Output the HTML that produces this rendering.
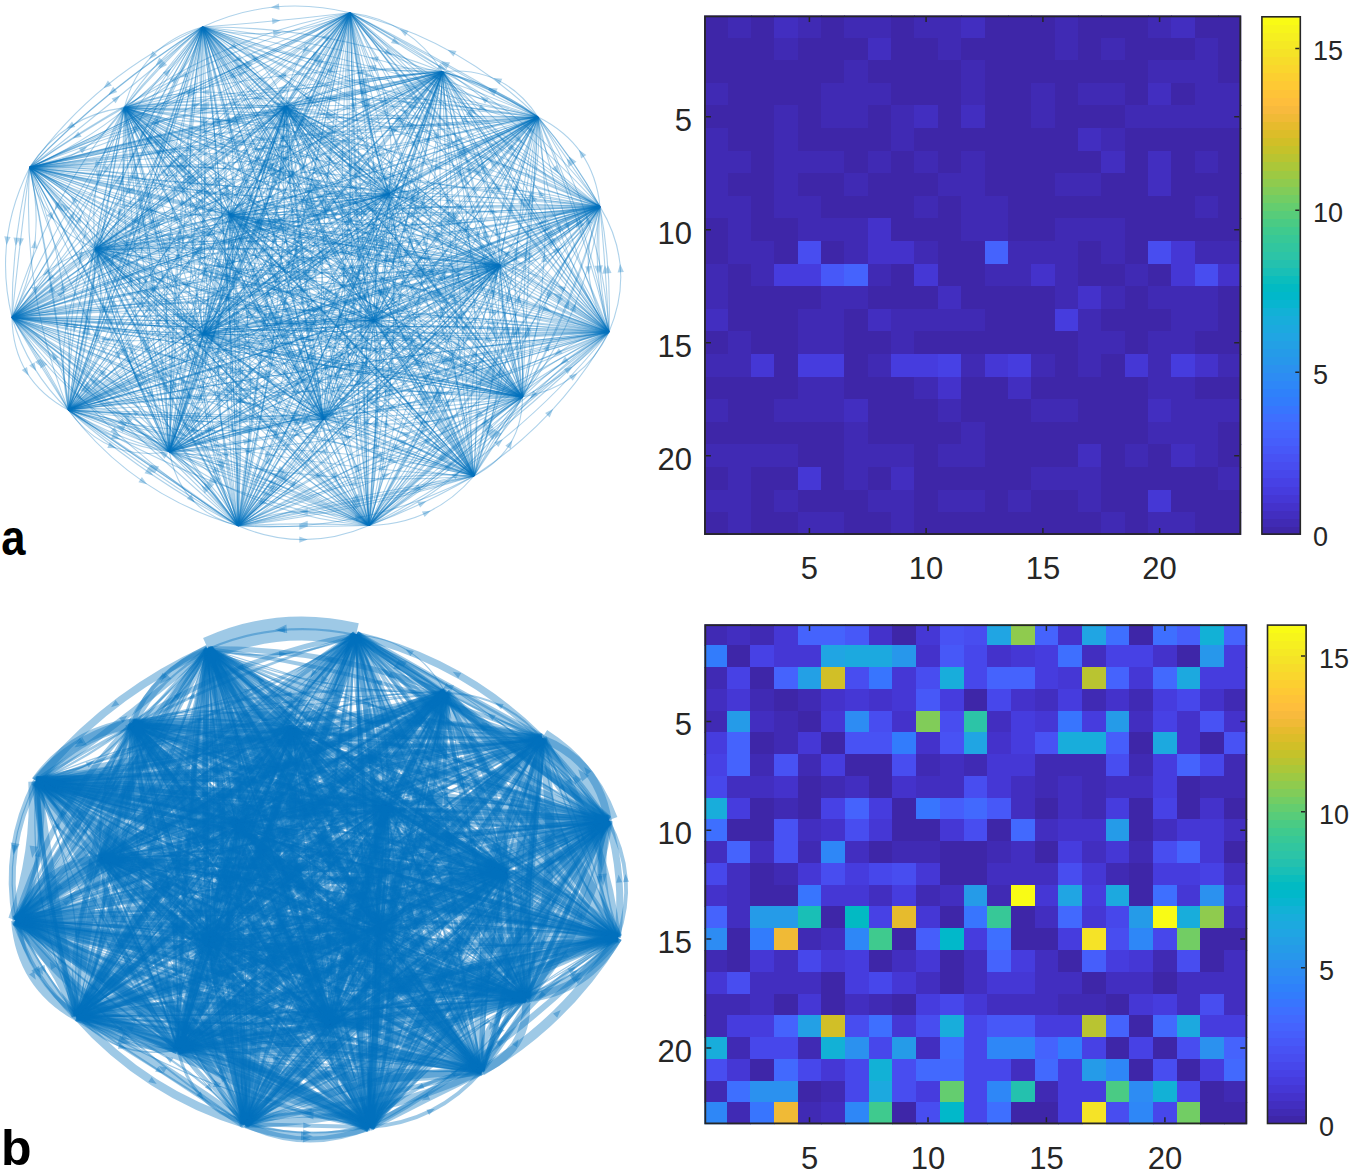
<!DOCTYPE html><html><head><meta charset="utf-8"><style>html,body{margin:0;padding:0;background:#fff;width:1350px;height:1171px;overflow:hidden}svg{display:block}text{font-family:"Liberation Sans",sans-serif}</style></head><body><svg width="1350" height="1171" viewBox="0 0 1350 1171"><defs><filter id="bl" x="-5%" y="-5%" width="110%" height="110%"><feGaussianBlur stdDeviation="0.5"/></filter></defs><g filter="url(#bl)"><g fill="none" stroke="#0072BD" stroke-width="1.1" stroke-opacity="0.32"><path d="M350 12.8Q273.8 -6 202.5 27"/><path d="M202.5 27Q278.7 45.8 350 12.8"/><path d="M202.5 27Q276.4 21.7 350 12.8"/><path d="M442.5 71.7Q326.9 25.8 202.5 27"/><path d="M202.5 27Q318.1 72.9 442.5 71.7"/><path d="M538 117Q377.5 45 202.5 27"/><path d="M202.5 27Q363 99 538 117"/><path d="M538 117Q373 61.7 202.5 27"/><path d="M202.5 27Q368.4 79.1 538 117"/><path d="M600 206.6Q413.6 89.5 202.5 27"/><path d="M202.5 27Q388.9 144.1 600 206.6"/><path d="M202.5 27Q399.4 120.9 600 206.6"/><path d="M202.5 27Q397.7 124.7 600 206.6"/><path d="M600 206.6Q406.3 105.7 202.5 27"/><path d="M609 332Q420.2 160.3 202.5 27"/><path d="M202.5 27Q391.3 198.7 609 332"/><path d="M522.5 397Q385.2 192.4 202.5 27"/><path d="M202.5 27Q339.8 231.6 522.5 397"/><path d="M522.5 397Q364 210.7 202.5 27"/><path d="M202.5 27Q356.5 217.1 522.5 397"/><path d="M522.5 397Q373.8 202.2 202.5 27"/><path d="M474 476Q363.9 236 202.5 27"/><path d="M202.5 27Q312.6 267 474 476"/><path d="M474 476Q344.2 247.9 202.5 27"/><path d="M202.5 27Q330.5 256.2 474 476"/><path d="M202.5 27Q335.9 252.9 474 476"/><path d="M369 525.5Q308.5 268.6 202.5 27"/><path d="M202.5 27Q263 283.9 369 525.5"/><path d="M238 525.8Q248.2 274.4 202.5 27"/><path d="M202.5 27Q192.3 278.4 238 525.8"/><path d="M238 525.8Q233.4 275.5 202.5 27"/><path d="M238 525.8Q233.5 275.5 202.5 27"/><path d="M169.3 451.7Q217.8 241.8 202.5 27"/><path d="M202.5 27Q154 236.9 169.3 451.7"/><path d="M169.3 451.7Q201.6 240.6 202.5 27"/><path d="M202.5 27Q173.7 238.4 169.3 451.7"/><path d="M202.5 27Q180 238.9 169.3 451.7"/><path d="M202.5 27Q170.9 238.2 169.3 451.7"/><path d="M68.4 410Q167.5 229.7 202.5 27"/><path d="M202.5 27Q103.4 207.3 68.4 410"/><path d="M68.4 410Q150.6 223.8 202.5 27"/><path d="M68.4 410Q144.4 221.6 202.5 27"/><path d="M68.4 410Q137.4 219.2 202.5 27"/><path d="M68.4 410Q135.6 218.5 202.5 27"/><path d="M68.4 410Q144 221.5 202.5 27"/><path d="M12 317.5Q129 186.5 202.5 27"/><path d="M202.5 27Q85.5 158 12 317.5"/><path d="M202.5 27Q103.4 169.7 12 317.5"/><path d="M29.7 167.4Q135 120.5 202.5 27"/><path d="M202.5 27Q97.2 73.9 29.7 167.4"/><path d="M202.5 27Q107.5 86.7 29.7 167.4"/><path d="M202.5 27Q108 87.3 29.7 167.4"/><path d="M29.7 167.4Q117.7 99.2 202.5 27"/><path d="M124.4 107.6Q186.4 89.6 202.5 27"/><path d="M202.5 27Q140.5 45 124.4 107.6"/><path d="M202.5 27Q153.7 57.9 124.4 107.6"/><path d="M124.4 107.6Q172.6 76.2 202.5 27"/><path d="M202.5 27Q160.5 64.4 124.4 107.6"/><path d="M202.5 27Q158.3 62.3 124.4 107.6"/><path d="M285.8 106.5Q263.5 46.5 202.5 27"/><path d="M202.5 27Q224.8 87 285.8 106.5"/><path d="M285.8 106.5Q251.5 59.1 202.5 27"/><path d="M285.8 106.5Q247.4 63.4 202.5 27"/><path d="M389 193.8Q318.4 85.1 202.5 27"/><path d="M202.5 27Q273.1 135.7 389 193.8"/><path d="M202.5 27Q285 122.4 389 193.8"/><path d="M202.5 27Q295.7 110.4 389 193.8"/><path d="M202.5 27Q285.2 122.2 389 193.8"/><path d="M202.5 27Q295.6 110.6 389 193.8"/><path d="M202.5 27Q286.5 120.8 389 193.8"/><path d="M230.5 215Q242.2 117.2 202.5 27"/><path d="M202.5 27Q190.8 124.8 230.5 215"/><path d="M230.5 215Q221.6 120.2 202.5 27"/><path d="M95.5 248.8Q177.8 151.8 202.5 27"/><path d="M202.5 27Q120.2 124 95.5 248.8"/><path d="M202.5 27Q135.4 131.3 95.5 248.8"/><path d="M95.5 248.8Q149 137.9 202.5 27"/><path d="M202.5 27Q136.3 131.8 95.5 248.8"/><path d="M95.5 248.8Q152.1 139.4 202.5 27"/><path d="M499.8 265.6Q366.2 127.6 202.5 27"/><path d="M202.5 27Q336.1 165 499.8 265.6"/><path d="M373.5 320.5Q313.9 158.6 202.5 27"/><path d="M202.5 27Q262.1 188.9 373.5 320.5"/><path d="M373.5 320.5Q294.7 169.9 202.5 27"/><path d="M202.5 27Q280.3 178.2 373.5 320.5"/><path d="M373.5 320.5Q290.2 172.5 202.5 27"/><path d="M203.3 333.8Q228.9 180.3 202.5 27"/><path d="M202.5 27Q176.9 180.5 203.3 333.8"/><path d="M203.3 333.8Q206.4 180.4 202.5 27"/><path d="M323.5 419Q295.5 213 202.5 27"/><path d="M202.5 27Q230.5 233 323.5 419"/><path d="M202.5 27Q254 225.8 323.5 419"/><path d="M202.5 27Q255.3 225.4 323.5 419"/><path d="M323.5 419Q276.4 218.9 202.5 27"/><path d="M202.5 27Q257.7 224.6 323.5 419"/><path d="M323.5 419Q275.7 219.1 202.5 27"/><path d="M442.5 71.7Q410.2 20.3 350 12.8"/><path d="M350 12.8Q382.3 64.2 442.5 71.7"/><path d="M350 12.8Q396 42.7 442.5 71.7"/><path d="M538 117Q458.5 38.7 350 12.8"/><path d="M350 12.8Q429.5 91.1 538 117"/><path d="M538 117Q445.9 61.5 350 12.8"/><path d="M350 12.8Q440.6 71 538 117"/><path d="M538 117Q444.4 64.1 350 12.8"/><path d="M600 206.6Q492.2 87.6 350 12.8"/><path d="M350 12.8Q457.8 131.8 600 206.6"/><path d="M350 12.8Q471.5 114.2 600 206.6"/><path d="M350 12.8Q466.7 120.4 600 206.6"/><path d="M609 332Q504.3 152.2 350 12.8"/><path d="M350 12.8Q454.7 192.6 609 332"/><path d="M350 12.8Q477.6 174 609 332"/><path d="M350 12.8Q475.8 175.4 609 332"/><path d="M609 332Q487.7 165.7 350 12.8"/><path d="M609 332Q486.3 166.9 350 12.8"/><path d="M522.5 397Q458.1 195.1 350 12.8"/><path d="M350 12.8Q414.4 214.7 522.5 397"/><path d="M474 476Q437.1 237.7 350 12.8"/><path d="M350 12.8Q386.9 251.1 474 476"/><path d="M350 12.8Q411 244.7 474 476"/><path d="M369 525.5Q391.5 268 350 12.8"/><path d="M350 12.8Q327.5 270.3 369 525.5"/><path d="M369 525.5Q368.1 268.8 350 12.8"/><path d="M350 12.8Q359.1 269.2 369 525.5"/><path d="M350 12.8Q345 269.7 369 525.5"/><path d="M350 12.8Q357 269.2 369 525.5"/><path d="M238 525.8Q323.3 275.7 350 12.8"/><path d="M350 12.8Q264.7 262.9 238 525.8"/><path d="M350 12.8Q282 266.7 238 525.8"/><path d="M350 12.8Q289.3 268.3 238 525.8"/><path d="M350 12.8Q290.8 268.6 238 525.8"/><path d="M169.3 451.7Q291.1 245.2 350 12.8"/><path d="M350 12.8Q228.2 219.3 169.3 451.7"/><path d="M169.3 451.7Q275.2 238.6 350 12.8"/><path d="M350 12.8Q250.7 228.6 169.3 451.7"/><path d="M350 12.8Q249.6 228.1 169.3 451.7"/><path d="M350 12.8Q247.5 227.3 169.3 451.7"/><path d="M350 12.8Q252.1 229.1 169.3 451.7"/><path d="M68.4 410Q230.4 226.4 350 12.8"/><path d="M350 12.8Q188 196.4 68.4 410"/><path d="M350 12.8Q208.8 211.1 68.4 410"/><path d="M12 317.5Q202.4 188.9 350 12.8"/><path d="M350 12.8Q159.6 141.4 12 317.5"/><path d="M12 317.5Q187.3 172.2 350 12.8"/><path d="M350 12.8Q171.4 154.5 12 317.5"/><path d="M12 317.5Q181.4 165.6 350 12.8"/><path d="M12 317.5Q183.9 168.4 350 12.8"/><path d="M29.7 167.4Q203.8 118.9 350 12.8"/><path d="M350 12.8Q175.9 61.3 29.7 167.4"/><path d="M29.7 167.4Q194 98.8 350 12.8"/><path d="M350 12.8Q189.8 90 29.7 167.4"/><path d="M29.7 167.4Q190.1 90.5 350 12.8"/><path d="M29.7 167.4Q191.8 94.2 350 12.8"/><path d="M124.4 107.6Q248 86 350 12.8"/><path d="M350 12.8Q226.4 34.4 124.4 107.6"/><path d="M124.4 107.6Q242.6 73.1 350 12.8"/><path d="M350 12.8Q236.8 59.2 124.4 107.6"/><path d="M285.8 106.5Q344.3 77.7 350 12.8"/><path d="M350 12.8Q291.5 41.6 285.8 106.5"/><path d="M285.8 106.5Q322.4 62.7 350 12.8"/><path d="M350 12.8Q315.3 57.8 285.8 106.5"/><path d="M350 12.8Q309.9 54.1 285.8 106.5"/><path d="M350 12.8Q314.3 57.2 285.8 106.5"/><path d="M389 193.8Q400.8 96.6 350 12.8"/><path d="M350 12.8Q338.2 110 389 193.8"/><path d="M350 12.8Q366.9 103.9 389 193.8"/><path d="M350 12.8Q358.2 105.7 389 193.8"/><path d="M350 12.8Q360.2 105.3 389 193.8"/><path d="M350 12.8Q360.2 105.3 389 193.8"/><path d="M230.5 215Q314.4 128.1 350 12.8"/><path d="M350 12.8Q266.1 99.7 230.5 215"/><path d="M230.5 215Q301.5 120.6 350 12.8"/><path d="M350 12.8Q279.6 107.6 230.5 215"/><path d="M95.5 248.8Q239.1 148.4 350 12.8"/><path d="M350 12.8Q206.4 113.2 95.5 248.8"/><path d="M499.8 265.6Q445.5 127 350 12.8"/><path d="M350 12.8Q404.3 151.4 499.8 265.6"/><path d="M373.5 320.5Q385.7 164.8 350 12.8"/><path d="M350 12.8Q337.8 168.5 373.5 320.5"/><path d="M203.3 333.8Q303.9 185.8 350 12.8"/><path d="M350 12.8Q249.4 160.8 203.3 333.8"/><path d="M203.3 333.8Q289.9 179.4 350 12.8"/><path d="M350 12.8Q269.7 170.1 203.3 333.8"/><path d="M203.3 333.8Q283.5 176.4 350 12.8"/><path d="M323.5 419Q360.7 217.5 350 12.8"/><path d="M350 12.8Q312.8 214.3 323.5 419"/><path d="M538 117Q504 65.4 442.5 71.7"/><path d="M442.5 71.7Q476.5 123.3 538 117"/><path d="M538 117Q494.6 85.2 442.5 71.7"/><path d="M538 117Q493.1 88.3 442.5 71.7"/><path d="M538 117Q494.8 84.7 442.5 71.7"/><path d="M538 117Q493.6 87.3 442.5 71.7"/><path d="M600 206.6Q538.2 119.4 442.5 71.7"/><path d="M442.5 71.7Q504.3 158.9 600 206.6"/><path d="M442.5 71.7Q518.6 142.2 600 206.6"/><path d="M609 332Q554.4 183.5 442.5 71.7"/><path d="M442.5 71.7Q497.1 220.2 609 332"/><path d="M442.5 71.7Q519.7 205.7 609 332"/><path d="M609 332Q527 201 442.5 71.7"/><path d="M609 332Q530.8 198.6 442.5 71.7"/><path d="M609 332Q526.5 201.4 442.5 71.7"/><path d="M609 332Q539.4 193.1 442.5 71.7"/><path d="M522.5 397Q511.6 227.2 442.5 71.7"/><path d="M442.5 71.7Q453.4 241.5 522.5 397"/><path d="M522.5 397Q487.1 233.2 442.5 71.7"/><path d="M442.5 71.7Q473.9 236.5 522.5 397"/><path d="M522.5 397Q489.5 232.6 442.5 71.7"/><path d="M474 476Q486.2 271.7 442.5 71.7"/><path d="M442.5 71.7Q430.3 276 474 476"/><path d="M442.5 71.7Q447.1 274.7 474 476"/><path d="M442.5 71.7Q458 273.9 474 476"/><path d="M369 525.5Q431.4 302.8 442.5 71.7"/><path d="M442.5 71.7Q380.1 294.4 369 525.5"/><path d="M442.5 71.7Q393.8 296.7 369 525.5"/><path d="M238 525.8Q367.6 311.1 442.5 71.7"/><path d="M442.5 71.7Q312.9 286.4 238 525.8"/><path d="M442.5 71.7Q331.6 294.8 238 525.8"/><path d="M238 525.8Q353.4 304.7 442.5 71.7"/><path d="M238 525.8Q353.4 304.7 442.5 71.7"/><path d="M169.3 451.7Q327 276.9 442.5 71.7"/><path d="M442.5 71.7Q284.8 246.5 169.3 451.7"/><path d="M169.3 451.7Q315.7 268.8 442.5 71.7"/><path d="M68.4 410Q272.9 260.1 442.5 71.7"/><path d="M442.5 71.7Q238 221.6 68.4 410"/><path d="M68.4 410Q256.4 241.9 442.5 71.7"/><path d="M12 317.5Q243.1 222.4 442.5 71.7"/><path d="M442.5 71.7Q211.4 166.8 12 317.5"/><path d="M442.5 71.7Q224.4 189.6 12 317.5"/><path d="M442.5 71.7Q226.5 193.4 12 317.5"/><path d="M12 317.5Q231.7 202.4 442.5 71.7"/><path d="M442.5 71.7Q219.7 181.4 12 317.5"/><path d="M29.7 167.4Q243.8 152.7 442.5 71.7"/><path d="M442.5 71.7Q228.4 86.4 29.7 167.4"/><path d="M442.5 71.7Q236 119 29.7 167.4"/><path d="M29.7 167.4Q238.2 128.7 442.5 71.7"/><path d="M442.5 71.7Q235 114.6 29.7 167.4"/><path d="M29.7 167.4Q236.9 123 442.5 71.7"/><path d="M442.5 71.7Q235.5 117 29.7 167.4"/><path d="M124.4 107.6Q286.6 117.5 442.5 71.7"/><path d="M442.5 71.7Q280.3 61.8 124.4 107.6"/><path d="M442.5 71.7Q282.9 85.2 124.4 107.6"/><path d="M124.4 107.6Q283.7 91.7 442.5 71.7"/><path d="M285.8 106.5Q371.5 122.3 442.5 71.7"/><path d="M442.5 71.7Q356.8 55.9 285.8 106.5"/><path d="M285.8 106.5Q365.6 95.8 442.5 71.7"/><path d="M442.5 71.7Q360.7 73.6 285.8 106.5"/><path d="M442.5 71.7Q361.4 76.6 285.8 106.5"/><path d="M285.8 106.5Q365.6 95.5 442.5 71.7"/><path d="M442.5 71.7Q361.5 77.2 285.8 106.5"/><path d="M389 193.8Q441.4 144 442.5 71.7"/><path d="M442.5 71.7Q390.1 121.5 389 193.8"/><path d="M442.5 71.7Q405.1 128.1 389 193.8"/><path d="M389 193.8Q420.9 135 442.5 71.7"/><path d="M230.5 215Q351.1 164.9 442.5 71.7"/><path d="M442.5 71.7Q321.9 121.8 230.5 215"/><path d="M230.5 215Q337.7 145.2 442.5 71.7"/><path d="M95.5 248.8Q281.7 185.2 442.5 71.7"/><path d="M442.5 71.7Q256.3 135.3 95.5 248.8"/><path d="M95.5 248.8Q273.7 169.5 442.5 71.7"/><path d="M442.5 71.7Q268.2 158.7 95.5 248.8"/><path d="M499.8 265.6Q494.2 161.8 442.5 71.7"/><path d="M442.5 71.7Q448.1 175.5 499.8 265.6"/><path d="M373.5 320.5Q438.8 204.7 442.5 71.7"/><path d="M442.5 71.7Q377.2 187.5 373.5 320.5"/><path d="M442.5 71.7Q398.2 193.4 373.5 320.5"/><path d="M442.5 71.7Q393.7 192.1 373.5 320.5"/><path d="M442.5 71.7Q405.8 195.5 373.5 320.5"/><path d="M373.5 320.5Q418.1 198.9 442.5 71.7"/><path d="M203.3 333.8Q348 225.7 442.5 71.7"/><path d="M442.5 71.7Q297.8 179.8 203.3 333.8"/><path d="M442.5 71.7Q319.8 199.9 203.3 333.8"/><path d="M203.3 333.8Q334.5 213.4 442.5 71.7"/><path d="M203.3 333.8Q330.4 209.6 442.5 71.7"/><path d="M203.3 333.8Q333 211.9 442.5 71.7"/><path d="M442.5 71.7Q321.1 201.1 203.3 333.8"/><path d="M323.5 419Q411.4 255.1 442.5 71.7"/><path d="M442.5 71.7Q354.6 235.6 323.5 419"/><path d="M442.5 71.7Q380.4 244.5 323.5 419"/><path d="M323.5 419Q383.2 245.4 442.5 71.7"/><path d="M442.5 71.7Q370.6 241.1 323.5 419"/><path d="M600 206.6Q593.7 144.7 538 117"/><path d="M538 117Q544.3 178.9 600 206.6"/><path d="M600 206.6Q574 158.3 538 117"/><path d="M600 206.6Q569 161.8 538 117"/><path d="M600 206.6Q573.3 158.8 538 117"/><path d="M609 332Q602 215.1 538 117"/><path d="M538 117Q545 233.9 609 332"/><path d="M538 117Q562.1 228.3 609 332"/><path d="M609 332Q587.2 220 538 117"/><path d="M609 332Q582 221.7 538 117"/><path d="M522.5 397Q558.2 258.5 538 117"/><path d="M538 117Q502.3 255.5 522.5 397"/><path d="M538 117Q521.6 256.5 522.5 397"/><path d="M538 117Q528.5 256.9 522.5 397"/><path d="M474 476Q531.6 301.1 538 117"/><path d="M538 117Q480.4 291.9 474 476"/><path d="M474 476Q510.1 297.2 538 117"/><path d="M369 525.5Q477.5 331.2 538 117"/><path d="M538 117Q429.5 311.3 369 525.5"/><path d="M369 525.5Q459.1 323.6 538 117"/><path d="M238 525.8Q407.3 335.6 538 117"/><path d="M538 117Q368.7 307.2 238 525.8"/><path d="M169.3 451.7Q373.8 306.6 538 117"/><path d="M538 117Q333.5 262.1 169.3 451.7"/><path d="M538 117Q344.9 274.7 169.3 451.7"/><path d="M169.3 451.7Q356.8 287.8 538 117"/><path d="M538 117Q345.9 275.9 169.3 451.7"/><path d="M68.4 410Q321.2 292.3 538 117"/><path d="M538 117Q285.2 234.7 68.4 410"/><path d="M538 117Q302.6 262.5 68.4 410"/><path d="M538 117Q298.4 255.8 68.4 410"/><path d="M538 117Q302.6 262.6 68.4 410"/><path d="M68.4 410Q311 276 538 117"/><path d="M68.4 410Q311.5 276.8 538 117"/><path d="M12 317.5Q284.3 241.5 538 117"/><path d="M538 117Q265.7 193 12 317.5"/><path d="M12 317.5Q278.1 225.3 538 117"/><path d="M29.7 167.4Q287 174 538 117"/><path d="M538 117Q280.7 110.4 29.7 167.4"/><path d="M29.7 167.4Q284.8 151.3 538 117"/><path d="M538 117Q283 133.9 29.7 167.4"/><path d="M538 117Q283.5 139 29.7 167.4"/><path d="M538 117Q282.8 131.3 29.7 167.4"/><path d="M124.4 107.6Q330.6 140.3 538 117"/><path d="M538 117Q331.8 84.3 124.4 107.6"/><path d="M124.4 107.6Q331.1 116.8 538 117"/><path d="M124.4 107.6Q331 123.1 538 117"/><path d="M285.8 106.5Q410.8 137.7 538 117"/><path d="M538 117Q413 85.8 285.8 106.5"/><path d="M538 117Q412.3 102.2 285.8 106.5"/><path d="M389 193.8Q478.2 183.8 538 117"/><path d="M538 117Q448.8 127 389 193.8"/><path d="M538 117Q459.4 147.4 389 193.8"/><path d="M538 117Q460.3 149.3 389 193.8"/><path d="M389 193.8Q463.7 155.7 538 117"/><path d="M538 117Q462.3 153.1 389 193.8"/><path d="M230.5 215Q391.5 188.9 538 117"/><path d="M538 117Q377 143.1 230.5 215"/><path d="M95.5 248.8Q324.7 209.7 538 117"/><path d="M538 117Q308.8 156.1 95.5 248.8"/><path d="M95.5 248.8Q320.4 195.3 538 117"/><path d="M95.5 248.8Q320.2 194.4 538 117"/><path d="M499.8 265.6Q544.1 197.8 538 117"/><path d="M538 117Q493.7 184.8 499.8 265.6"/><path d="M538 117Q510.6 189.2 499.8 265.6"/><path d="M373.5 320.5Q477.5 236.4 538 117"/><path d="M538 117Q434 201.1 373.5 320.5"/><path d="M373.5 320.5Q464.1 225.5 538 117"/><path d="M538 117Q453.8 217.2 373.5 320.5"/><path d="M203.3 333.8Q387 250.6 538 117"/><path d="M538 117Q354.3 200.2 203.3 333.8"/><path d="M203.3 333.8Q377.6 236.1 538 117"/><path d="M538 117Q369.8 224.1 203.3 333.8"/><path d="M538 117Q369.6 223.7 203.3 333.8"/><path d="M323.5 419Q453.6 284.2 538 117"/><path d="M538 117Q407.9 251.8 323.5 419"/><path d="M323.5 419Q433.8 270.2 538 117"/><path d="M323.5 419Q435.4 271.3 538 117"/><path d="M609 332Q636.4 267 600 206.6"/><path d="M600 206.6Q572.6 271.6 609 332"/><path d="M600 206.6Q590.9 270.3 609 332"/><path d="M609 332Q605.8 269.2 600 206.6"/><path d="M609 332Q611.6 268.8 600 206.6"/><path d="M600 206.6Q595.3 270 609 332"/><path d="M522.5 397Q587.2 312.4 600 206.6"/><path d="M600 206.6Q535.3 291.2 522.5 397"/><path d="M522.5 397Q573.9 306.9 600 206.6"/><path d="M600 206.6Q556.8 300 522.5 397"/><path d="M474 476Q558.7 351.5 600 206.6"/><path d="M600 206.6Q515.3 331.1 474 476"/><path d="M369 525.5Q508.8 383.6 600 206.6"/><path d="M600 206.6Q460.2 348.5 369 525.5"/><path d="M369 525.5Q493.9 372.8 600 206.6"/><path d="M600 206.6Q475.1 359.3 369 525.5"/><path d="M369 525.5Q495.7 374.1 600 206.6"/><path d="M238 525.8Q436.2 385.7 600 206.6"/><path d="M600 206.6Q401.8 346.7 238 525.8"/><path d="M600 206.6Q414.1 360.6 238 525.8"/><path d="M169.3 451.7Q400.5 357 600 206.6"/><path d="M600 206.6Q368.8 301.3 169.3 451.7"/><path d="M169.3 451.7Q385.9 331.3 600 206.6"/><path d="M169.3 451.7Q390.7 339.8 600 206.6"/><path d="M169.3 451.7Q389.9 338.4 600 206.6"/><path d="M169.3 451.7Q388.7 336.3 600 206.6"/><path d="M68.4 410Q346.4 340.1 600 206.6"/><path d="M600 206.6Q322 276.5 68.4 410"/><path d="M600 206.6Q330 297.3 68.4 410"/><path d="M68.4 410Q335 310.4 600 206.6"/><path d="M600 206.6Q328.6 293.5 68.4 410"/><path d="M600 206.6Q330.5 298.6 68.4 410"/><path d="M600 206.6Q333.7 306.9 68.4 410"/><path d="M12 317.5Q311.2 289.6 600 206.6"/><path d="M600 206.6Q300.8 234.5 12 317.5"/><path d="M600 206.6Q305.7 260.7 12 317.5"/><path d="M600 206.6Q304.9 256.2 12 317.5"/><path d="M29.7 167.4Q312.9 214.9 600 206.6"/><path d="M600 206.6Q316.8 159.1 29.7 167.4"/><path d="M29.7 167.4Q314.1 198.2 600 206.6"/><path d="M600 206.6Q315.1 182.8 29.7 167.4"/><path d="M124.4 107.6Q357.3 180.6 600 206.6"/><path d="M600 206.6Q367.1 133.6 124.4 107.6"/><path d="M285.8 106.5Q435.6 179.4 600 206.6"/><path d="M600 206.6Q450.2 133.7 285.8 106.5"/><path d="M389 193.8Q493 224.2 600 206.6"/><path d="M600 206.6Q496 176.2 389 193.8"/><path d="M230.5 215Q415.9 238.8 600 206.6"/><path d="M600 206.6Q414.6 182.8 230.5 215"/><path d="M600 206.6Q415.1 204.5 230.5 215"/><path d="M230.5 215Q415.4 215.8 600 206.6"/><path d="M95.5 248.8Q350.3 257.6 600 206.6"/><path d="M600 206.6Q345.2 197.8 95.5 248.8"/><path d="M95.5 248.8Q348.2 233.3 600 206.6"/><path d="M95.5 248.8Q348.8 240.8 600 206.6"/><path d="M600 206.6Q346.7 215.3 95.5 248.8"/><path d="M499.8 265.6Q566.1 263.7 600 206.6"/><path d="M600 206.6Q533.7 208.5 499.8 265.6"/><path d="M600 206.6Q542.3 223.1 499.8 265.6"/><path d="M499.8 265.6Q556.2 246.8 600 206.6"/><path d="M499.8 265.6Q554.5 244 600 206.6"/><path d="M600 206.6Q548 232.9 499.8 265.6"/><path d="M373.5 320.5Q501.1 292.1 600 206.6"/><path d="M600 206.6Q472.4 235 373.5 320.5"/><path d="M600 206.6Q481.5 253 373.5 320.5"/><path d="M373.5 320.5Q487.2 264.4 600 206.6"/><path d="M373.5 320.5Q488.8 267.7 600 206.6"/><path d="M373.5 320.5Q491.3 272.6 600 206.6"/><path d="M203.3 333.8Q409.6 295 600 206.6"/><path d="M600 206.6Q393.7 245.4 203.3 333.8"/><path d="M203.3 333.8Q403.2 275 600 206.6"/><path d="M323.5 419Q477.6 333.4 600 206.6"/><path d="M600 206.6Q445.9 292.2 323.5 419"/><path d="M323.5 419Q464 315.7 600 206.6"/><path d="M522.5 397Q582.6 386.9 609 332"/><path d="M609 332Q548.9 342.1 522.5 397"/><path d="M522.5 397Q572.7 373.7 609 332"/><path d="M609 332Q561.5 358.8 522.5 397"/><path d="M474 476Q559 420.4 609 332"/><path d="M609 332Q524 387.6 474 476"/><path d="M369 525.5Q510.3 455.2 609 332"/><path d="M609 332Q467.7 402.3 369 525.5"/><path d="M609 332Q487.4 426.8 369 525.5"/><path d="M369 525.5Q492.4 433 609 332"/><path d="M369 525.5Q494.8 436 609 332"/><path d="M609 332Q479 416.4 369 525.5"/><path d="M369 525.5Q498.8 440.9 609 332"/><path d="M238 525.8Q435.5 451.9 609 332"/><path d="M609 332Q411.5 405.9 238 525.8"/><path d="M238 525.8Q425.7 433.1 609 332"/><path d="M169.3 451.7Q397.6 422.7 609 332"/><path d="M609 332Q380.7 361 169.3 451.7"/><path d="M609 332Q385.8 379.7 169.3 451.7"/><path d="M169.3 451.7Q390.8 397.9 609 332"/><path d="M169.3 451.7Q390.5 397 609 332"/><path d="M609 332Q388.8 390.5 169.3 451.7"/><path d="M68.4 410Q343.3 402.7 609 332"/><path d="M609 332Q334.1 339.3 68.4 410"/><path d="M609 332Q337.3 361.3 68.4 410"/><path d="M68.4 410Q340.6 383.9 609 332"/><path d="M68.4 410Q340 379.9 609 332"/><path d="M609 332Q337.3 361.2 68.4 410"/><path d="M12 317.5Q309.8 354.7 609 332"/><path d="M609 332Q311.2 294.8 12 317.5"/><path d="M12 317.5Q310.2 337.6 609 332"/><path d="M609 332Q310.5 323.2 12 317.5"/><path d="M12 317.5Q310.2 337.6 609 332"/><path d="M29.7 167.4Q312.8 272.8 609 332"/><path d="M609 332Q325.9 226.6 29.7 167.4"/><path d="M124.4 107.6Q356.6 241.6 609 332"/><path d="M609 332Q376.8 198 124.4 107.6"/><path d="M285.8 106.5Q427.9 247.1 609 332"/><path d="M609 332Q466.9 191.4 285.8 106.5"/><path d="M285.8 106.5Q437.9 232.9 609 332"/><path d="M609 332Q452.3 212.3 285.8 106.5"/><path d="M285.8 106.5Q444.7 223.2 609 332"/><path d="M285.8 106.5Q446.8 220.1 609 332"/><path d="M609 332Q454.4 209.2 285.8 106.5"/><path d="M389 193.8Q486.2 283.2 609 332"/><path d="M609 332Q511.8 242.6 389 193.8"/><path d="M230.5 215Q410.3 304.1 609 332"/><path d="M609 332Q429.2 242.9 230.5 215"/><path d="M609 332Q422.4 265 230.5 215"/><path d="M230.5 215Q418.1 278.8 609 332"/><path d="M609 332Q419.8 273.2 230.5 215"/><path d="M609 332Q421.3 268.4 230.5 215"/><path d="M95.5 248.8Q348.1 316.1 609 332"/><path d="M609 332Q356.4 264.7 95.5 248.8"/><path d="M609 332Q353.4 283.3 95.5 248.8"/><path d="M499.8 265.6Q540.9 321 609 332"/><path d="M609 332Q567.9 276.6 499.8 265.6"/><path d="M609 332Q558.7 291.7 499.8 265.6"/><path d="M373.5 320.5Q489.9 354.2 609 332"/><path d="M609 332Q492.6 298.3 373.5 320.5"/><path d="M373.5 320.5Q491 331.7 609 332"/><path d="M609 332Q491.5 320.4 373.5 320.5"/><path d="M203.3 333.8Q406.3 364.9 609 332"/><path d="M609 332Q406 300.9 203.3 333.8"/><path d="M203.3 333.8Q406.2 339.5 609 332"/><path d="M609 332Q406.1 320.3 203.3 333.8"/><path d="M203.3 333.8Q406.2 344.4 609 332"/><path d="M609 332Q406.1 319.8 203.3 333.8"/><path d="M323.5 419Q473.2 398.5 609 332"/><path d="M609 332Q459.3 352.5 323.5 419"/><path d="M474 476Q522.1 451.1 522.5 397"/><path d="M522.5 397Q474.4 421.9 474 476"/><path d="M522.5 397Q490.6 431.8 474 476"/><path d="M522.5 397Q495.3 434.7 474 476"/><path d="M369 525.5Q467.6 487.3 522.5 397"/><path d="M522.5 397Q423.9 435.2 369 525.5"/><path d="M522.5 397Q436.9 450.6 369 525.5"/><path d="M522.5 397Q438.3 452.4 369 525.5"/><path d="M522.5 397Q440.4 454.8 369 525.5"/><path d="M522.5 397Q441.6 456.3 369 525.5"/><path d="M369 525.5Q452.8 469.6 522.5 397"/><path d="M238 525.8Q392.6 488.7 522.5 397"/><path d="M522.5 397Q367.9 434.1 238 525.8"/><path d="M522.5 397Q379.8 460.4 238 525.8"/><path d="M238 525.8Q385.8 473.7 522.5 397"/><path d="M522.5 397Q375.8 451.5 238 525.8"/><path d="M169.3 451.7Q349.9 450 522.5 397"/><path d="M522.5 397Q341.9 398.7 169.3 451.7"/><path d="M169.3 451.7Q346.9 430.7 522.5 397"/><path d="M68.4 410Q296.1 427.5 522.5 397"/><path d="M522.5 397Q294.8 379.5 68.4 410"/><path d="M12 317.5Q262 390.8 522.5 397"/><path d="M522.5 397Q272.5 323.7 12 317.5"/><path d="M522.5 397Q269.7 341.7 12 317.5"/><path d="M522.5 397Q268.9 346.9 12 317.5"/><path d="M522.5 397Q267.5 355.6 12 317.5"/><path d="M522.5 397Q267.5 355.9 12 317.5"/><path d="M522.5 397Q269.1 345.4 12 317.5"/><path d="M29.7 167.4Q263.4 309.4 522.5 397"/><path d="M522.5 397Q288.8 255 29.7 167.4"/><path d="M29.7 167.4Q269.9 295.5 522.5 397"/><path d="M522.5 397Q280.4 273.1 29.7 167.4"/><path d="M29.7 167.4Q271.9 291.1 522.5 397"/><path d="M124.4 107.6Q305.8 276.6 522.5 397"/><path d="M522.5 397Q341.1 228 124.4 107.6"/><path d="M124.4 107.6Q315.1 263.8 522.5 397"/><path d="M522.5 397Q326 248.7 124.4 107.6"/><path d="M124.4 107.6Q322 254.3 522.5 397"/><path d="M285.8 106.5Q379.3 272 522.5 397"/><path d="M522.5 397Q429 231.5 285.8 106.5"/><path d="M285.8 106.5Q392.2 261.5 522.5 397"/><path d="M522.5 397Q408.9 247.9 285.8 106.5"/><path d="M522.5 397Q406.1 250.1 285.8 106.5"/><path d="M522.5 397Q406.5 249.9 285.8 106.5"/><path d="M389 193.8Q434 309.7 522.5 397"/><path d="M522.5 397Q477.5 281.1 389 193.8"/><path d="M389 193.8Q450.5 298.8 522.5 397"/><path d="M230.5 215Q361.7 329.8 522.5 397"/><path d="M522.5 397Q391.3 282.2 230.5 215"/><path d="M230.5 215Q375 308.4 522.5 397"/><path d="M230.5 215Q375 308.4 522.5 397"/><path d="M95.5 248.8Q298.5 353.1 522.5 397"/><path d="M522.5 397Q319.5 292.7 95.5 248.8"/><path d="M95.5 248.8Q304.7 335.3 522.5 397"/><path d="M95.5 248.8Q308.9 323.3 522.5 397"/><path d="M95.5 248.8Q305.6 332.6 522.5 397"/><path d="M95.5 248.8Q307.1 328.4 522.5 397"/><path d="M499.8 265.6Q477.6 337.1 522.5 397"/><path d="M522.5 397Q544.7 325.5 499.8 265.6"/><path d="M522.5 397Q525.2 328.9 499.8 265.6"/><path d="M522.5 397Q525.6 328.8 499.8 265.6"/><path d="M522.5 397Q515.8 330.5 499.8 265.6"/><path d="M499.8 265.6Q502 332.9 522.5 397"/><path d="M499.8 265.6Q504.9 332.4 522.5 397"/><path d="M373.5 320.5Q432.5 389 522.5 397"/><path d="M522.5 397Q463.5 328.5 373.5 320.5"/><path d="M373.5 320.5Q447.7 359.4 522.5 397"/><path d="M373.5 320.5Q443.7 367.1 522.5 397"/><path d="M373.5 320.5Q446.6 361.4 522.5 397"/><path d="M522.5 397Q448.9 356.9 373.5 320.5"/><path d="M522.5 397Q454.3 346.4 373.5 320.5"/><path d="M203.3 333.8Q356.3 398.8 522.5 397"/><path d="M522.5 397Q369.5 332 203.3 333.8"/><path d="M203.3 333.8Q361.4 372.9 522.5 397"/><path d="M522.5 397Q363.9 360.5 203.3 333.8"/><path d="M203.3 333.8Q359.9 380.5 522.5 397"/><path d="M203.3 333.8Q360.1 379.7 522.5 397"/><path d="M522.5 397Q363 365 203.3 333.8"/><path d="M323.5 419Q426.1 435.8 522.5 397"/><path d="M522.5 397Q419.9 380.2 323.5 419"/><path d="M323.5 419Q424 417.5 522.5 397"/><path d="M522.5 397Q422.2 400.6 323.5 419"/><path d="M369 525.5Q432.6 524.3 474 476"/><path d="M474 476Q410.4 477.2 369 525.5"/><path d="M369 525.5Q423.6 505.2 474 476"/><path d="M238 525.8Q363 534.2 474 476"/><path d="M474 476Q349 467.6 238 525.8"/><path d="M238 525.8Q357.4 507.6 474 476"/><path d="M474 476Q355.6 499.2 238 525.8"/><path d="M238 525.8Q358.4 512 474 476"/><path d="M474 476Q354.6 494.2 238 525.8"/><path d="M238 525.8Q356.2 502.1 474 476"/><path d="M169.3 451.7Q319.7 487.8 474 476"/><path d="M474 476Q323.6 439.9 169.3 451.7"/><path d="M68.4 410Q267.3 466.7 474 476"/><path d="M474 476Q275.1 419.3 68.4 410"/><path d="M12 317.5Q232.6 427 474 476"/><path d="M474 476Q253.4 366.5 12 317.5"/><path d="M474 476Q247.8 382.8 12 317.5"/><path d="M474 476Q243.7 394.6 12 317.5"/><path d="M12 317.5Q239.6 406.5 474 476"/><path d="M12 317.5Q240.4 404.3 474 476"/><path d="M29.7 167.4Q237 343.1 474 476"/><path d="M474 476Q266.7 300.3 29.7 167.4"/><path d="M474 476Q258.4 312.3 29.7 167.4"/><path d="M124.4 107.6Q274.5 315.2 474 476"/><path d="M474 476Q323.9 268.4 124.4 107.6"/><path d="M474 476Q305.6 285.8 124.4 107.6"/><path d="M124.4 107.6Q288.2 302.3 474 476"/><path d="M474 476Q303.7 287.5 124.4 107.6"/><path d="M474 476Q304.6 286.7 124.4 107.6"/><path d="M124.4 107.6Q295.5 295.4 474 476"/><path d="M285.8 106.5Q351.4 305.8 474 476"/><path d="M474 476Q408.4 276.7 285.8 106.5"/><path d="M474 476Q389.8 286.2 285.8 106.5"/><path d="M474 476Q381.2 290.6 285.8 106.5"/><path d="M474 476Q394 284.1 285.8 106.5"/><path d="M474 476Q380.6 290.9 285.8 106.5"/><path d="M389 193.8Q408.5 341.8 474 476"/><path d="M474 476Q454.5 328 389 193.8"/><path d="M230.5 215Q331.8 364.6 474 476"/><path d="M474 476Q372.7 326.4 230.5 215"/><path d="M474 476Q354.9 343 230.5 215"/><path d="M230.5 215Q347.5 349.9 474 476"/><path d="M95.5 248.8Q272.4 383 474 476"/><path d="M474 476Q297.1 341.8 95.5 248.8"/><path d="M499.8 265.6Q461.1 367.6 474 476"/><path d="M474 476Q512.7 374 499.8 265.6"/><path d="M474 476Q499 372.3 499.8 265.6"/><path d="M373.5 320.5Q396.9 415.6 474 476"/><path d="M474 476Q450.6 380.9 373.5 320.5"/><path d="M474 476Q432.9 392.3 373.5 320.5"/><path d="M474 476Q428 395.5 373.5 320.5"/><path d="M474 476Q429.1 394.8 373.5 320.5"/><path d="M373.5 320.5Q422.3 399.2 474 476"/><path d="M203.3 333.8Q326.6 427.9 474 476"/><path d="M474 476Q350.7 381.9 203.3 333.8"/><path d="M474 476Q344.3 394.1 203.3 333.8"/><path d="M323.5 419Q388.1 475.6 474 476"/><path d="M474 476Q409.4 419.4 323.5 419"/><path d="M474 476Q403.4 435.2 323.5 419"/><path d="M474 476Q403 436.2 323.5 419"/><path d="M323.5 419Q397.7 450.4 474 476"/><path d="M238 525.8Q303.6 553.6 369 525.5"/><path d="M369 525.5Q303.4 497.7 238 525.8"/><path d="M238 525.8Q303.5 527.4 369 525.5"/><path d="M369 525.5Q303.5 522.2 238 525.8"/><path d="M169.3 451.7Q258.8 516.7 369 525.5"/><path d="M369 525.5Q279.5 460.5 169.3 451.7"/><path d="M369 525.5Q273.9 475.7 169.3 451.7"/><path d="M169.3 451.7Q265.2 499.3 369 525.5"/><path d="M369 525.5Q270.2 485.8 169.3 451.7"/><path d="M68.4 410Q207.9 495.8 369 525.5"/><path d="M369 525.5Q229.5 439.7 68.4 410"/><path d="M369 525.5Q223.1 456.3 68.4 410"/><path d="M369 525.5Q220.4 463.3 68.4 410"/><path d="M68.4 410Q216.3 474 369 525.5"/><path d="M12 317.5Q175.4 447.4 369 525.5"/><path d="M369 525.5Q205.6 395.6 12 317.5"/><path d="M369 525.5Q194.3 415 12 317.5"/><path d="M12 317.5Q183 434.4 369 525.5"/><path d="M12 317.5Q185.8 429.5 369 525.5"/><path d="M29.7 167.4Q177.6 367.1 369 525.5"/><path d="M369 525.5Q221.1 325.8 29.7 167.4"/><path d="M369 525.5Q201.1 344.8 29.7 167.4"/><path d="M29.7 167.4Q189.1 356.1 369 525.5"/><path d="M369 525.5Q209.7 336.7 29.7 167.4"/><path d="M124.4 107.6Q224.3 329.7 369 525.5"/><path d="M369 525.5Q269.1 303.4 124.4 107.6"/><path d="M369 525.5Q254.2 312.1 124.4 107.6"/><path d="M285.8 106.5Q301.9 321.1 369 525.5"/><path d="M369 525.5Q352.9 310.9 285.8 106.5"/><path d="M285.8 106.5Q319.1 317.7 369 525.5"/><path d="M389 193.8Q353 358.1 369 525.5"/><path d="M369 525.5Q405 361.2 389 193.8"/><path d="M369 525.5Q380.1 359.7 389 193.8"/><path d="M230.5 215Q274.2 381.7 369 525.5"/><path d="M369 525.5Q325.3 358.8 230.5 215"/><path d="M230.5 215Q294.9 372.4 369 525.5"/><path d="M369 525.5Q306.3 367.3 230.5 215"/><path d="M95.5 248.8Q208.1 411.1 369 525.5"/><path d="M369 525.5Q256.4 363.2 95.5 248.8"/><path d="M95.5 248.8Q231 388.4 369 525.5"/><path d="M369 525.5Q241 378.5 95.5 248.8"/><path d="M369 525.5Q240.8 378.7 95.5 248.8"/><path d="M95.5 248.8Q224.2 395.1 369 525.5"/><path d="M95.5 248.8Q228.8 390.6 369 525.5"/><path d="M499.8 265.6Q407.6 382.1 369 525.5"/><path d="M369 525.5Q461.2 409 499.8 265.6"/><path d="M369 525.5Q443.9 400.3 499.8 265.6"/><path d="M369 525.5Q441.6 399.2 499.8 265.6"/><path d="M369 525.5Q436.3 396.5 499.8 265.6"/><path d="M373.5 320.5Q341.3 422.3 369 525.5"/><path d="M369 525.5Q401.2 423.7 373.5 320.5"/><path d="M373.5 320.5Q362.4 422.8 369 525.5"/><path d="M369 525.5Q380.6 423.2 373.5 320.5"/><path d="M369 525.5Q383.4 423.3 373.5 320.5"/><path d="M203.3 333.8Q268 445.3 369 525.5"/><path d="M369 525.5Q304.3 414 203.3 333.8"/><path d="M323.5 419Q324.2 481.7 369 525.5"/><path d="M369 525.5Q368.3 462.8 323.5 419"/><path d="M169.3 451.7Q180.2 510.5 238 525.8"/><path d="M238 525.8Q227.1 467 169.3 451.7"/><path d="M238 525.8Q209.5 483.4 169.3 451.7"/><path d="M238 525.8Q204.7 487.8 169.3 451.7"/><path d="M238 525.8Q214.6 478.6 169.3 451.7"/><path d="M238 525.8Q209.8 483.1 169.3 451.7"/><path d="M68.4 410Q134 496 238 525.8"/><path d="M238 525.8Q172.4 439.8 68.4 410"/><path d="M68.4 410Q146.2 478.1 238 525.8"/><path d="M238 525.8Q153.2 467.9 68.4 410"/><path d="M238 525.8Q154.6 465.9 68.4 410"/><path d="M68.4 410Q149.6 473.2 238 525.8"/><path d="M238 525.8Q153.3 467.8 68.4 410"/><path d="M12 317.5Q106 442.2 238 525.8"/><path d="M238 525.8Q144 401.1 12 317.5"/><path d="M238 525.8Q129.9 416.3 12 317.5"/><path d="M12 317.5Q121.7 425.3 238 525.8"/><path d="M29.7 167.4Q113.1 358.7 238 525.8"/><path d="M238 525.8Q154.6 334.5 29.7 167.4"/><path d="M124.4 107.6Q152.2 324.6 238 525.8"/><path d="M238 525.8Q210.2 308.8 124.4 107.6"/><path d="M238 525.8Q187.5 315 124.4 107.6"/><path d="M124.4 107.6Q176.9 317.9 238 525.8"/><path d="M238 525.8Q182.3 316.4 124.4 107.6"/><path d="M285.8 106.5Q234.1 313 238 525.8"/><path d="M238 525.8Q289.7 319.3 285.8 106.5"/><path d="M238 525.8Q269.8 317 285.8 106.5"/><path d="M238 525.8Q267 316.7 285.8 106.5"/><path d="M389 193.8Q286.2 347.4 238 525.8"/><path d="M238 525.8Q340.8 372.2 389 193.8"/><path d="M389 193.8Q302.9 355 238 525.8"/><path d="M238 525.8Q324.9 365 389 193.8"/><path d="M389 193.8Q310.3 358.3 238 525.8"/><path d="M230.5 215Q202.3 371.2 238 525.8"/><path d="M238 525.8Q266.2 369.6 230.5 215"/><path d="M230.5 215Q218.4 370.8 238 525.8"/><path d="M230.5 215Q227.1 370.6 238 525.8"/><path d="M238 525.8Q237.4 370.3 230.5 215"/><path d="M238 525.8Q246.5 370.1 230.5 215"/><path d="M95.5 248.8Q136.5 402.9 238 525.8"/><path d="M238 525.8Q197 371.7 95.5 248.8"/><path d="M238 525.8Q167.1 387.1 95.5 248.8"/><path d="M238 525.8Q181.5 379.7 95.5 248.8"/><path d="M95.5 248.8Q165.6 387.9 238 525.8"/><path d="M238 525.8Q176.9 382.1 95.5 248.8"/><path d="M95.5 248.8Q164 388.7 238 525.8"/><path d="M499.8 265.6Q344.9 371.6 238 525.8"/><path d="M238 525.8Q392.9 419.8 499.8 265.6"/><path d="M238 525.8Q374 400.8 499.8 265.6"/><path d="M238 525.8Q380.6 407.5 499.8 265.6"/><path d="M238 525.8Q373.8 400.6 499.8 265.6"/><path d="M499.8 265.6Q367.7 394.5 238 525.8"/><path d="M238 525.8Q372.9 399.8 499.8 265.6"/><path d="M373.5 320.5Q284.1 408.8 238 525.8"/><path d="M238 525.8Q327.4 437.5 373.5 320.5"/><path d="M373.5 320.5Q302.7 421.1 238 525.8"/><path d="M203.3 333.8Q197 434.1 238 525.8"/><path d="M238 525.8Q244.3 425.5 203.3 333.8"/><path d="M323.5 419Q254.2 451.2 238 525.8"/><path d="M238 525.8Q307.3 493.6 323.5 419"/><path d="M323.5 419Q277.8 470 238 525.8"/><path d="M323.5 419Q278.8 470.8 238 525.8"/><path d="M323.5 419Q278.2 470.4 238 525.8"/><path d="M238 525.8Q290.3 480.1 323.5 419"/><path d="M238 525.8Q283 474.2 323.5 419"/><path d="M68.4 410Q105.9 462.3 169.3 451.7"/><path d="M169.3 451.7Q131.8 399.4 68.4 410"/><path d="M169.3 451.7Q121.4 424.6 68.4 410"/><path d="M169.3 451.7Q124.9 416.2 68.4 410"/><path d="M68.4 410Q113.2 444.4 169.3 451.7"/><path d="M169.3 451.7Q125.2 415.5 68.4 410"/><path d="M68.4 410Q115.6 438.8 169.3 451.7"/><path d="M12 317.5Q68.6 410.5 169.3 451.7"/><path d="M169.3 451.7Q112.7 358.7 12 317.5"/><path d="M12 317.5Q86 390 169.3 451.7"/><path d="M12 317.5Q80.1 397 169.3 451.7"/><path d="M169.3 451.7Q95.5 378.9 12 317.5"/><path d="M12 317.5Q83.1 393.5 169.3 451.7"/><path d="M169.3 451.7Q96.8 377.4 12 317.5"/><path d="M29.7 167.4Q72.6 322.8 169.3 451.7"/><path d="M169.3 451.7Q126.4 296.3 29.7 167.4"/><path d="M169.3 451.7Q107.1 305.8 29.7 167.4"/><path d="M169.3 451.7Q108.8 305 29.7 167.4"/><path d="M169.3 451.7Q106.7 306 29.7 167.4"/><path d="M124.4 107.6Q115.1 283.8 169.3 451.7"/><path d="M169.3 451.7Q178.6 275.5 124.4 107.6"/><path d="M124.4 107.6Q131.3 281.7 169.3 451.7"/><path d="M169.3 451.7Q159.9 277.9 124.4 107.6"/><path d="M169.3 451.7Q156.3 278.4 124.4 107.6"/><path d="M124.4 107.6Q144 280 169.3 451.7"/><path d="M285.8 106.5Q195.3 268.2 169.3 451.7"/><path d="M169.3 451.7Q259.8 290 285.8 106.5"/><path d="M169.3 451.7Q229 279.6 285.8 106.5"/><path d="M285.8 106.5Q216.3 275.3 169.3 451.7"/><path d="M169.3 451.7Q238.3 282.7 285.8 106.5"/><path d="M285.8 106.5Q227.1 278.9 169.3 451.7"/><path d="M285.8 106.5Q226.5 278.7 169.3 451.7"/><path d="M389 193.8Q260.9 307.2 169.3 451.7"/><path d="M169.3 451.7Q297.4 338.3 389 193.8"/><path d="M230.5 215Q172.8 326.3 169.3 451.7"/><path d="M169.3 451.7Q227 340.4 230.5 215"/><path d="M169.3 451.7Q200.2 333.4 230.5 215"/><path d="M169.3 451.7Q206.5 335.1 230.5 215"/><path d="M95.5 248.8Q104.2 360.5 169.3 451.7"/><path d="M169.3 451.7Q160.6 340 95.5 248.8"/><path d="M95.5 248.8Q120.3 354.7 169.3 451.7"/><path d="M95.5 248.8Q120.2 354.7 169.3 451.7"/><path d="M95.5 248.8Q130.8 350.8 169.3 451.7"/><path d="M499.8 265.6Q321.8 336 169.3 451.7"/><path d="M169.3 451.7Q347.3 381.3 499.8 265.6"/><path d="M169.3 451.7Q334.6 358.8 499.8 265.6"/><path d="M373.5 320.5Q257.3 364.2 169.3 451.7"/><path d="M169.3 451.7Q285.5 408 373.5 320.5"/><path d="M169.3 451.7Q274.1 390.3 373.5 320.5"/><path d="M203.3 333.8Q157.5 384.4 169.3 451.7"/><path d="M169.3 451.7Q215.1 401.1 203.3 333.8"/><path d="M169.3 451.7Q190.2 393.9 203.3 333.8"/><path d="M203.3 333.8Q179.8 390.9 169.3 451.7"/><path d="M203.3 333.8Q180.7 391.1 169.3 451.7"/><path d="M323.5 419Q239.8 404 169.3 451.7"/><path d="M169.3 451.7Q253 466.7 323.5 419"/><path d="M323.5 419Q244.5 426.2 169.3 451.7"/><path d="M169.3 451.7Q249 447.4 323.5 419"/><path d="M323.5 419Q244.9 428.1 169.3 451.7"/><path d="M323.5 419Q243.6 422 169.3 451.7"/><path d="M12 317.5Q12.9 380.4 68.4 410"/><path d="M68.4 410Q67.5 347.1 12 317.5"/><path d="M68.4 410Q44.5 361.1 12 317.5"/><path d="M12 317.5Q39.3 364.3 68.4 410"/><path d="M68.4 410Q41.8 362.8 12 317.5"/><path d="M12 317.5Q27.9 371.3 68.4 410"/><path d="M29.7 167.4Q21.4 293.1 68.4 410"/><path d="M68.4 410Q76.7 284.3 29.7 167.4"/><path d="M68.4 410Q53.3 288 29.7 167.4"/><path d="M68.4 410Q55 287.8 29.7 167.4"/><path d="M124.4 107.6Q64.9 253 68.4 410"/><path d="M68.4 410Q127.9 264.6 124.4 107.6"/><path d="M124.4 107.6Q89.2 257.5 68.4 410"/><path d="M68.4 410Q99.9 259.4 124.4 107.6"/><path d="M124.4 107.6Q88 257.2 68.4 410"/><path d="M68.4 410Q98.3 259.2 124.4 107.6"/><path d="M285.8 106.5Q156 243.1 68.4 410"/><path d="M68.4 410Q198.2 273.4 285.8 106.5"/><path d="M285.8 106.5Q176.8 258 68.4 410"/><path d="M389 193.8Q213 278.7 68.4 410"/><path d="M68.4 410Q244.4 325.1 389 193.8"/><path d="M68.4 410Q234.4 310.4 389 193.8"/><path d="M389 193.8Q226 297.9 68.4 410"/><path d="M230.5 215Q129.5 295.9 68.4 410"/><path d="M68.4 410Q169.4 329.1 230.5 215"/><path d="M230.5 215Q144.6 308.5 68.4 410"/><path d="M95.5 248.8Q50.4 324.1 68.4 410"/><path d="M68.4 410Q113.5 334.7 95.5 248.8"/><path d="M68.4 410Q88.5 330.5 95.5 248.8"/><path d="M68.4 410Q92.8 331.2 95.5 248.8"/><path d="M95.5 248.8Q67.1 326.9 68.4 410"/><path d="M68.4 410Q94.6 331.5 95.5 248.8"/><path d="M499.8 265.6Q273.9 307.5 68.4 410"/><path d="M68.4 410Q294.3 368.1 499.8 265.6"/><path d="M499.8 265.6Q283.1 334.8 68.4 410"/><path d="M68.4 410Q288.4 350.8 499.8 265.6"/><path d="M68.4 410Q288.5 350.9 499.8 265.6"/><path d="M499.8 265.6Q281.5 330.2 68.4 410"/><path d="M373.5 320.5Q213.1 338.4 68.4 410"/><path d="M68.4 410Q228.8 392.1 373.5 320.5"/><path d="M373.5 320.5Q218.5 356.9 68.4 410"/><path d="M68.4 410Q221.9 368.6 373.5 320.5"/><path d="M203.3 333.8Q123.1 349.3 68.4 410"/><path d="M68.4 410Q148.6 394.5 203.3 333.8"/><path d="M68.4 410Q140.6 380.3 203.3 333.8"/><path d="M323.5 419Q197.1 382.5 68.4 410"/><path d="M68.4 410Q194.8 446.5 323.5 419"/><path d="M323.5 419Q196 412.7 68.4 410"/><path d="M68.4 410Q195.5 427.7 323.5 419"/><path d="M68.4 410Q195.7 421.8 323.5 419"/><path d="M68.4 410Q195.8 417.9 323.5 419"/><path d="M29.7 167.4Q-7 239.2 12 317.5"/><path d="M12 317.5Q48.7 245.7 29.7 167.4"/><path d="M29.7 167.4Q19.7 242.3 12 317.5"/><path d="M29.7 167.4Q11.5 241.3 12 317.5"/><path d="M124.4 107.6Q45.3 200.3 12 317.5"/><path d="M12 317.5Q91.1 224.8 124.4 107.6"/><path d="M12 317.5Q77.2 217.4 124.4 107.6"/><path d="M285.8 106.5Q130.6 188.2 12 317.5"/><path d="M12 317.5Q167.2 235.8 285.8 106.5"/><path d="M285.8 106.5Q146.4 208.7 12 317.5"/><path d="M12 317.5Q153.5 218 285.8 106.5"/><path d="M285.8 106.5Q144.1 205.8 12 317.5"/><path d="M389 193.8Q189.9 223.3 12 317.5"/><path d="M12 317.5Q211.1 288 389 193.8"/><path d="M389 193.8Q197.4 246.2 12 317.5"/><path d="M12 317.5Q202.4 261.5 389 193.8"/><path d="M389 193.8Q195.9 241.7 12 317.5"/><path d="M389 193.8Q197.6 246.9 12 317.5"/><path d="M389 193.8Q198.6 249.9 12 317.5"/><path d="M230.5 215Q111.1 244.5 12 317.5"/><path d="M12 317.5Q131.4 288 230.5 215"/><path d="M95.5 248.8Q37.2 263.1 12 317.5"/><path d="M12 317.5Q70.3 303.2 95.5 248.8"/><path d="M95.5 248.8Q46.2 274 12 317.5"/><path d="M499.8 265.6Q252.5 259.7 12 317.5"/><path d="M12 317.5Q259.3 323.4 499.8 265.6"/><path d="M499.8 265.6Q254.3 276.4 12 317.5"/><path d="M12 317.5Q256.8 299.6 499.8 265.6"/><path d="M12 317.5Q256.5 297.4 499.8 265.6"/><path d="M499.8 265.6Q255.9 291.4 12 317.5"/><path d="M373.5 320.5Q193 287 12 317.5"/><path d="M12 317.5Q192.5 351 373.5 320.5"/><path d="M12 317.5Q192.7 329.1 373.5 320.5"/><path d="M12 317.5Q192.6 333.9 373.5 320.5"/><path d="M12 317.5Q192.7 322.6 373.5 320.5"/><path d="M373.5 320.5Q192.8 314 12 317.5"/><path d="M203.3 333.8Q110 297.8 12 317.5"/><path d="M12 317.5Q105.3 353.5 203.3 333.8"/><path d="M203.3 333.8Q108.6 315 12 317.5"/><path d="M12 317.5Q107.2 331 203.3 333.8"/><path d="M323.5 419Q175.2 345.4 12 317.5"/><path d="M12 317.5Q160.3 391.1 323.5 419"/><path d="M124.4 107.6Q63.2 115.5 29.7 167.4"/><path d="M29.7 167.4Q90.9 159.5 124.4 107.6"/><path d="M124.4 107.6Q75.7 135.3 29.7 167.4"/><path d="M285.8 106.5Q150.8 107.8 29.7 167.4"/><path d="M29.7 167.4Q164.7 166.1 285.8 106.5"/><path d="M285.8 106.5Q157.4 135.5 29.7 167.4"/><path d="M29.7 167.4Q159.5 144.3 285.8 106.5"/><path d="M29.7 167.4Q161 150.8 285.8 106.5"/><path d="M389 193.8Q211.3 154.7 29.7 167.4"/><path d="M29.7 167.4Q207.4 206.5 389 193.8"/><path d="M29.7 167.4Q208.7 188.9 389 193.8"/><path d="M230.5 215Q137 162 29.7 167.4"/><path d="M29.7 167.4Q123.2 220.4 230.5 215"/><path d="M29.7 167.4Q129.8 192.6 230.5 215"/><path d="M230.5 215Q130.9 188 29.7 167.4"/><path d="M230.5 215Q130.4 189.8 29.7 167.4"/><path d="M95.5 248.8Q84.4 190.5 29.7 167.4"/><path d="M29.7 167.4Q40.8 225.7 95.5 248.8"/><path d="M95.5 248.8Q66.3 205.1 29.7 167.4"/><path d="M29.7 167.4Q60.6 209.7 95.5 248.8"/><path d="M499.8 265.6Q270.1 191 29.7 167.4"/><path d="M29.7 167.4Q259.4 242 499.8 265.6"/><path d="M29.7 167.4Q262.1 229.1 499.8 265.6"/><path d="M373.5 320.5Q211.4 222 29.7 167.4"/><path d="M29.7 167.4Q191.8 265.9 373.5 320.5"/><path d="M203.3 333.8Q133.1 233.3 29.7 167.4"/><path d="M29.7 167.4Q99.9 267.9 203.3 333.8"/><path d="M323.5 419Q192.2 275 29.7 167.4"/><path d="M29.7 167.4Q161 311.4 323.5 419"/><path d="M285.8 106.5Q204.9 77.1 124.4 107.6"/><path d="M124.4 107.6Q205.3 137 285.8 106.5"/><path d="M285.8 106.5Q205.1 101.6 124.4 107.6"/><path d="M285.8 106.5Q205.1 103.5 124.4 107.6"/><path d="M124.4 107.6Q205.1 109.5 285.8 106.5"/><path d="M389 193.8Q264.8 126 124.4 107.6"/><path d="M124.4 107.6Q248.6 175.4 389 193.8"/><path d="M389 193.8Q257.5 148.2 124.4 107.6"/><path d="M230.5 215Q201.6 137.4 124.4 107.6"/><path d="M124.4 107.6Q153.3 185.2 230.5 215"/><path d="M230.5 215Q185.9 153 124.4 107.6"/><path d="M124.4 107.6Q167.4 171.2 230.5 215"/><path d="M230.5 215Q189.2 149.7 124.4 107.6"/><path d="M230.5 215Q186 152.8 124.4 107.6"/><path d="M124.4 107.6Q173.5 165.2 230.5 215"/><path d="M95.5 248.8Q133.5 183 124.4 107.6"/><path d="M124.4 107.6Q86.4 173.4 95.5 248.8"/><path d="M499.8 265.6Q324.5 157.1 124.4 107.6"/><path d="M124.4 107.6Q299.7 216.1 499.8 265.6"/><path d="M499.8 265.6Q313.6 183 124.4 107.6"/><path d="M499.8 265.6Q316.7 175.7 124.4 107.6"/><path d="M499.8 265.6Q312.6 185.5 124.4 107.6"/><path d="M124.4 107.6Q307.9 196.6 499.8 265.6"/><path d="M373.5 320.5Q264.5 195.8 124.4 107.6"/><path d="M124.4 107.6Q233.4 232.3 373.5 320.5"/><path d="M203.3 333.8Q186.5 212.8 124.4 107.6"/><path d="M124.4 107.6Q141.2 228.6 203.3 333.8"/><path d="M323.5 419Q250.9 246.1 124.4 107.6"/><path d="M124.4 107.6Q197 280.5 323.5 419"/><path d="M323.5 419Q235.8 255.7 124.4 107.6"/><path d="M124.4 107.6Q214.8 269.2 323.5 419"/><path d="M323.5 419Q236.3 255.4 124.4 107.6"/><path d="M323.5 419Q230.1 259.4 124.4 107.6"/><path d="M389 193.8Q352.9 131.8 285.8 106.5"/><path d="M285.8 106.5Q321.9 168.5 389 193.8"/><path d="M230.5 215Q284.9 174.4 285.8 106.5"/><path d="M285.8 106.5Q231.4 147.1 230.5 215"/><path d="M230.5 215Q269.1 166.3 285.8 106.5"/><path d="M230.5 215Q270.8 167.2 285.8 106.5"/><path d="M285.8 106.5Q254.5 158.9 230.5 215"/><path d="M95.5 248.8Q211 204.9 285.8 106.5"/><path d="M285.8 106.5Q170.3 150.4 95.5 248.8"/><path d="M95.5 248.8Q195.1 183.7 285.8 106.5"/><path d="M285.8 106.5Q184.2 169 95.5 248.8"/><path d="M95.5 248.8Q196.9 186 285.8 106.5"/><path d="M95.5 248.8Q191.7 179.1 285.8 106.5"/><path d="M95.5 248.8Q194.1 182.3 285.8 106.5"/><path d="M499.8 265.6Q409.5 163.6 285.8 106.5"/><path d="M285.8 106.5Q376.1 208.5 499.8 265.6"/><path d="M285.8 106.5Q385 196.6 499.8 265.6"/><path d="M285.8 106.5Q390.4 189.2 499.8 265.6"/><path d="M373.5 320.5Q353.7 203.6 285.8 106.5"/><path d="M285.8 106.5Q305.6 223.4 373.5 320.5"/><path d="M373.5 320.5Q335.8 211 285.8 106.5"/><path d="M203.3 333.8Q274.6 231.1 285.8 106.5"/><path d="M285.8 106.5Q214.5 209.2 203.3 333.8"/><path d="M285.8 106.5Q231.5 215.4 203.3 333.8"/><path d="M285.8 106.5Q241.8 219.2 203.3 333.8"/><path d="M203.3 333.8Q249.1 221.8 285.8 106.5"/><path d="M285.8 106.5Q241.4 219 203.3 333.8"/><path d="M323.5 419Q336.4 258.9 285.8 106.5"/><path d="M285.8 106.5Q272.9 266.6 323.5 419"/><path d="M285.8 106.5Q300.3 263.3 323.5 419"/><path d="M285.8 106.5Q289.7 264.5 323.5 419"/><path d="M285.8 106.5Q291.8 264.3 323.5 419"/><path d="M285.8 106.5Q303.2 262.9 323.5 419"/><path d="M230.5 215Q314 236.1 389 193.8"/><path d="M389 193.8Q305.5 172.7 230.5 215"/><path d="M230.5 215Q311 213.9 389 193.8"/><path d="M389 193.8Q308.1 192.3 230.5 215"/><path d="M230.5 215Q310.1 206.8 389 193.8"/><path d="M389 193.8Q309.1 199.2 230.5 215"/><path d="M95.5 248.8Q248.5 254.7 389 193.8"/><path d="M389 193.8Q236 187.9 95.5 248.8"/><path d="M95.5 248.8Q243.7 229.1 389 193.8"/><path d="M389 193.8Q241.6 217.6 95.5 248.8"/><path d="M389 193.8Q239.3 205.5 95.5 248.8"/><path d="M95.5 248.8Q244.9 235.6 389 193.8"/><path d="M95.5 248.8Q244.3 232.1 389 193.8"/><path d="M499.8 265.6Q457.5 209.6 389 193.8"/><path d="M389 193.8Q431.3 249.8 499.8 265.6"/><path d="M373.5 320.5Q407.1 260.3 389 193.8"/><path d="M389 193.8Q355.4 254 373.5 320.5"/><path d="M373.5 320.5Q392.6 258.5 389 193.8"/><path d="M203.3 333.8Q311.8 284.6 389 193.8"/><path d="M389 193.8Q280.5 243 203.3 333.8"/><path d="M389 193.8Q290.6 256.4 203.3 333.8"/><path d="M323.5 419Q379.3 313.1 389 193.8"/><path d="M389 193.8Q333.2 299.7 323.5 419"/><path d="M95.5 248.8Q168.8 255.2 230.5 215"/><path d="M230.5 215Q157.2 208.6 95.5 248.8"/><path d="M499.8 265.6Q371.4 206.9 230.5 215"/><path d="M230.5 215Q358.9 273.7 499.8 265.6"/><path d="M499.8 265.6Q367.7 226.6 230.5 215"/><path d="M230.5 215Q363.2 250.8 499.8 265.6"/><path d="M499.8 265.6Q365.3 239.3 230.5 215"/><path d="M499.8 265.6Q366 236 230.5 215"/><path d="M230.5 215Q362.1 256.5 499.8 265.6"/><path d="M373.5 320.5Q316.2 248.4 230.5 215"/><path d="M230.5 215Q287.8 287.1 373.5 320.5"/><path d="M203.3 333.8Q242.2 280.2 230.5 215"/><path d="M230.5 215Q191.6 268.6 203.3 333.8"/><path d="M230.5 215Q216.1 274.2 203.3 333.8"/><path d="M323.5 419Q304.3 304.6 230.5 215"/><path d="M230.5 215Q249.7 329.4 323.5 419"/><path d="M230.5 215Q272.5 319 323.5 419"/><path d="M230.5 215Q266.2 321.9 323.5 419"/><path d="M230.5 215Q269.8 320.3 323.5 419"/><path d="M499.8 265.6Q298.9 227.2 95.5 248.8"/><path d="M95.5 248.8Q296.4 287.2 499.8 265.6"/><path d="M499.8 265.6Q298.2 243 95.5 248.8"/><path d="M95.5 248.8Q297.6 257.9 499.8 265.6"/><path d="M499.8 265.6Q298.2 244.9 95.5 248.8"/><path d="M373.5 320.5Q241.5 257.5 95.5 248.8"/><path d="M95.5 248.8Q227.5 311.8 373.5 320.5"/><path d="M373.5 320.5Q237.4 273.4 95.5 248.8"/><path d="M373.5 320.5Q237.8 272 95.5 248.8"/><path d="M203.3 333.8Q168 267.7 95.5 248.8"/><path d="M95.5 248.8Q130.8 314.9 203.3 333.8"/><path d="M203.3 333.8Q157.6 280.9 95.5 248.8"/><path d="M203.3 333.8Q153.8 285.7 95.5 248.8"/><path d="M95.5 248.8Q145 296.8 203.3 333.8"/><path d="M323.5 419Q226.2 311.5 95.5 248.8"/><path d="M95.5 248.8Q192.8 356.3 323.5 419"/><path d="M95.5 248.8Q204.6 340.5 323.5 419"/><path d="M95.5 248.8Q204.4 340.8 323.5 419"/><path d="M373.5 320.5Q450.2 324.2 499.8 265.6"/><path d="M499.8 265.6Q423.1 261.9 373.5 320.5"/><path d="M373.5 320.5Q439.3 299.2 499.8 265.6"/><path d="M373.5 320.5Q437.7 295.4 499.8 265.6"/><path d="M373.5 320.5Q440.1 301 499.8 265.6"/><path d="M499.8 265.6Q435.9 291.3 373.5 320.5"/><path d="M373.5 320.5Q439 298.3 499.8 265.6"/><path d="M203.3 333.8Q357.8 327 499.8 265.6"/><path d="M499.8 265.6Q345.3 272.4 203.3 333.8"/><path d="M499.8 265.6Q351.5 299.4 203.3 333.8"/><path d="M203.3 333.8Q352.2 302.7 499.8 265.6"/><path d="M323.5 419Q432.7 366.4 499.8 265.6"/><path d="M499.8 265.6Q390.6 318.2 323.5 419"/><path d="M323.5 419Q412 342.8 499.8 265.6"/><path d="M323.5 419Q419.4 351.2 499.8 265.6"/><path d="M499.8 265.6Q405 334.7 323.5 419"/><path d="M499.8 265.6Q411.2 341.7 323.5 419"/><path d="M203.3 333.8Q290.9 359.1 373.5 320.5"/><path d="M373.5 320.5Q285.9 295.2 203.3 333.8"/><path d="M373.5 320.5Q287.9 320.2 203.3 333.8"/><path d="M373.5 320.5Q287.6 316.5 203.3 333.8"/><path d="M373.5 320.5Q287.9 320.7 203.3 333.8"/><path d="M373.5 320.5Q288.3 326 203.3 333.8"/><path d="M323.5 419Q373.5 382.4 373.5 320.5"/><path d="M373.5 320.5Q323.5 357.1 323.5 419"/><path d="M373.5 320.5Q342.4 366.7 323.5 419"/><path d="M323.5 419Q356 373.6 373.5 320.5"/><path d="M323.5 419Q280.7 351.9 203.3 333.8"/><path d="M203.3 333.8Q246.1 400.9 323.5 419"/><path d="M203.3 333.8Q263 376.9 323.5 419"/><path d="M323.5 419Q270.4 366.5 203.3 333.8"/><path d="M323.5 419Q266.1 372.6 203.3 333.8"/></g><path fill="#0072BD" fill-opacity="0.32" d="M270.8 7.4L278.9 3.4L279.5 9.7zM281.7 32.4L273.6 36.4L273 30.1zM280.5 20.4L272.5 24.3L271.9 18.1zM320.6 36.8L329.4 35.2L328.2 41.4zM324.4 61.9L315.6 63.5L316.8 57.3zM369.8 57.4L378.8 56.5L377.1 62.6zM370.7 86.6L361.7 87.5L363.4 81.4zM367.6 65.7L376.5 64.9L374.9 71zM373.4 76.6L364.4 77.5L366.1 71.4zM403.6 101.4L412.6 102L410 107.7zM398.9 132.2L389.9 131.6L392.5 125.9zM404.1 120.6L395.2 120L397.8 114.3zM403.3 122.5L394.3 121.9L396.9 116.1zM399.9 109.5L408.9 110.1L406.3 115.8zM409.6 167.4L418.2 169.9L414.4 174.9zM401.9 191.6L393.3 189.1L397.1 184.1zM371.1 199L379 203.3L374.2 207.4zM353.9 225L346 220.7L350.8 216.6zM360.5 208.2L368.4 212.5L363.6 216.6zM362.3 217.8L354.4 213.5L359.2 209.3zM365.4 203.9L373.3 208.2L368.5 212.4zM348.9 240.1L356 245.7L350.6 249zM327.6 262.9L320.5 257.3L325.9 254zM339.1 246.1L346.1 251.7L340.7 254.9zM336.5 257.4L329.5 251.9L334.9 248.6zM339.3 255.8L332.2 250.2L337.6 247zM295.8 268.5L301.5 275.4L295.5 277.4zM275.7 284L270 277.1L276 275.1zM233.9 271.2L237.7 279.4L231.4 279.8zM206.6 281.6L202.8 273.4L209.1 273zM226.5 271.7L230.2 279.9L224 280.3zM226.6 271.7L230.3 279.9L224 280.3zM202.2 236.4L204.7 245L198.4 244.5zM169.6 242.3L167.1 233.7L173.4 234.2zM194.1 235.8L196.5 244.4L190.3 243.9zM179.5 243.1L177 234.4L183.3 234.9zM182.6 243.3L180.1 234.7L186.4 235.2zM178.1 243L175.6 234.3L181.9 234.8zM152.9 220.2L153.1 229.1L147.1 227zM118 216.8L117.8 207.9L123.8 210zM144.4 217.2L144.6 226.2L138.6 224.1zM141.3 216.1L141.5 225.1L135.6 223zM137.8 214.9L138 223.9L132.1 221.8zM136.9 214.6L137.1 223.5L131.2 221.4zM141.1 216L141.3 225L135.4 222.9zM120.4 175.9L118.5 184.6L113.2 181.2zM94.1 168.6L96 159.9L101.3 163.3zM103 174.5L105 165.7L110.3 169.2zM128.8 106.2L124.3 113.9L120.3 109zM103.4 88.2L107.9 80.5L111.9 85.4zM108.6 94.6L113.1 86.8L117.1 91.7zM108.8 94.9L113.3 87.1L117.3 92zM120.2 95.5L115.6 103.3L111.6 98.4zM177.9 75.4L174.3 83.6L169.8 79.3zM149 59.2L152.6 51L157.1 55.3zM155.7 65.6L159.3 57.4L163.8 61.8zM171 68.7L167.4 77L162.9 72.6zM159 68.9L162.6 60.7L167.1 65zM158 67.8L161.5 59.6L166.1 64zM250.8 53.7L259 57.2L254.7 61.8zM237.5 79.8L229.3 76.3L233.6 71.7zM244.8 60L253 63.5L248.7 68.1zM242.7 62.2L251 65.7L246.6 70.2zM304 94.9L312.3 98.2L308.1 102.9zM287.5 125.9L279.2 122.6L283.4 117.9zM293.5 119.2L285.2 115.9L289.4 111.2zM298.9 113.2L290.5 110L294.7 105.3zM293.6 119.1L285.2 115.9L289.4 111.2zM298.8 113.3L290.4 110L294.6 105.3zM294.2 118.4L285.9 115.1L290.1 110.4zM228.7 114.9L233.1 122.8L226.9 123.7zM204.3 127.1L199.9 119.2L206.1 118.3zM218.4 116.5L222.8 124.3L216.5 125.2zM165.2 141.1L164.4 150L158.7 147.3zM132.8 134.7L133.6 125.8L139.3 128.5zM140.4 138.4L141.2 129.5L146.8 132.2zM150.8 134.1L150 143.1L144.3 140.3zM140.8 138.6L141.6 129.7L147.3 132.4zM152.4 134.9L151.5 143.8L145.9 141.1zM355.4 134.3L363.9 137.1L360 142zM346.9 158.3L338.4 155.5L342.3 150.6zM298.8 162.6L305.8 168.2L300.4 171.4zM277.2 184.9L270.2 179.3L275.6 176.1zM289.2 168.2L296.2 173.9L290.7 177zM286.3 179.6L279.3 174L284.8 170.8zM287 169.5L293.9 175.1L288.5 178.3zM215.9 176.2L219.1 184.6L212.8 184.6zM189.9 184.6L186.7 176.2L193 176.2zM204.6 176.2L207.8 184.6L201.5 184.6zM278 214L283.5 221.1L277.5 222.9zM248 232L242.5 224.9L248.5 223.1zM259.8 228.4L254.3 221.3L260.3 219.4zM260.4 228.2L254.9 221.1L260.9 219.3zM268.5 216.9L274 224L267.9 225.9zM261.6 227.8L256.1 220.7L262.1 218.9zM268.1 217L273.6 224.1L267.6 226zM399.7 29L408.5 30.9L405.1 36.2zM392.8 55.5L384 53.6L387.4 48.3zM399.6 44.7L390.9 42.9L394.3 37.6zM447.6 49.7L456.5 51.1L453.4 56.6zM440.4 80.1L431.5 78.7L434.6 73.2zM441.3 61.2L450.1 62.5L447.1 68zM446 70L437.1 68.7L440.2 63.2zM440.5 62.5L449.4 63.8L446.4 69.3zM480.3 96.1L488.8 98.7L485 103.7zM469.7 123.3L461.2 120.7L465 115.7zM476.6 114.5L468 111.9L471.9 106.9zM474.2 117.6L465.6 115L469.5 110zM489.3 159.1L497 163.6L492.1 167.6zM469.7 185.7L462 181.2L466.9 177.2zM481.2 176.4L473.4 171.9L478.3 167.9zM480.3 177.1L472.6 172.6L477.5 168.6zM481 165.8L488.7 170.3L483.8 174.3zM480.2 166.4L488 170.9L483.1 174.9zM445.5 196.2L451.8 202.5L446 205.1zM427 213.6L420.7 207.3L426.5 204.7zM423.5 237L428.7 244.3L422.6 245.9zM400.5 251.8L395.3 244.5L401.4 242.9zM412.6 248.6L407.4 241.3L413.5 239.7zM375.3 264.4L378.8 272.6L372.5 272.9zM343.7 273.9L340.2 265.7L346.5 265.4zM363.6 264.8L367.1 273.1L360.8 273.3zM359.4 273.4L356 265.1L362.3 264.8zM352.4 273.6L349 265.3L355.3 265.1zM358.4 273.4L355 265.1L361.2 264.9zM309.6 268.4L310.8 277.3L304.7 275.9zM278.4 270.2L277.2 261.3L283.3 262.7zM287.1 272.1L285.8 263.2L292 264.6zM290.8 272.9L289.5 264L295.6 265.4zM291.5 273.1L290.2 264.2L296.4 265.5zM277 234.8L276.7 243.8L270.9 241.4zM242.3 229.7L242.6 220.7L248.4 223.1zM269 231.6L268.7 240.5L262.9 238.1zM253.6 234.3L253.9 225.3L259.7 227.7zM253 234.1L253.3 225.1L259.1 227.5zM252 233.6L252.3 224.7L258.1 227.1zM254.3 234.6L254.6 225.6L260.4 228zM222.2 215.5L219.9 224.2L214.8 220.5zM196.2 207.3L198.5 198.6L203.6 202.3zM206.6 214.7L208.9 206L214 209.7zM194.8 174.2L190.7 182.2L186.5 177.5zM167.2 156.1L171.3 148.1L175.5 152.8zM187.3 165.8L183.1 173.8L178.9 169.1zM173.1 162.6L177.2 154.7L181.4 159.3zM184.3 162.6L180.2 170.5L176 165.8zM185.6 163.9L181.4 171.9L177.2 167.2zM200.6 102.7L194.4 109.2L191.7 103.5zM179.1 77.5L185.3 71L188 76.7zM195.7 92.6L189.5 99.1L186.8 93.4zM186 91.9L192.2 85.4L195 91zM193.7 88.5L187.5 95L184.8 89.3zM194.6 90.3L188.4 96.8L185.7 91.2zM246.5 71.5L240 77.6L237.5 71.8zM227.9 48.9L234.4 42.8L236.9 48.6zM243.8 65L237.3 71.2L234.8 65.4zM233.1 61.3L239.6 55.2L242.1 61zM333.5 65.2L331.3 73.9L326.1 70.4zM302.3 54.1L304.5 45.4L309.7 48.9zM322.5 57.7L320.4 66.4L315.2 62.9zM314.2 62.2L316.4 53.5L321.6 57.1zM311.5 60.4L313.7 51.7L318.9 55.2zM313.7 61.9L315.9 53.2L321.1 56.7zM384.3 95.8L389.1 103.4L382.9 104.7zM354.7 110.8L349.9 103.2L356.1 101.9zM369.1 107.7L364.2 100.1L370.4 98.8zM364.7 108.6L359.9 101.1L366 99.7zM365.7 108.4L360.9 100.9L367 99.5zM365.7 108.4L360.9 100.9L367 99.5zM304.4 117.4L302.9 126.2L297.5 123zM276.1 110.4L277.6 101.6L283 104.8zM298 113.6L296.5 122.4L291 119.2zM282.8 114.4L284.3 105.5L289.8 108.7zM234 136.7L230 144.8L225.7 140.1zM211.5 124.9L215.5 116.8L219.8 121.5zM433.1 129.5L440.1 135.1L434.7 138.3zM416.7 148.9L409.7 143.3L415.1 140.1zM373.4 161.5L377.2 169.7L370.9 170.2zM350.1 171.8L346.3 163.6L352.6 163.1zM292 175.7L291.4 184.7L285.7 182zM261.3 170.9L261.9 161.9L267.6 164.6zM285 172.5L284.4 181.5L278.7 178.8zM271.4 175.5L272 166.6L277.8 169.2zM281.8 171L281.2 180L275.5 177.4zM349 212.5L351.6 221.1L345.3 220.7zM324.5 219.3L321.9 210.7L328.2 211.1zM493.3 78.1L502.3 78.8L499.6 84.5zM487.2 110.6L478.2 109.9L480.9 104.2zM488.6 88L497.6 88.7L494.9 94.4zM487.9 89.5L496.8 90.3L494.1 96zM488.7 87.7L497.7 88.5L495 94.2zM488.1 89L497.1 89.8L494.4 95.5zM526.5 126.5L534.9 129.6L530.8 134.4zM516 151.8L507.6 148.7L511.7 143.9zM523.1 143.4L514.7 140.4L518.8 135.6zM537.8 189.2L545 194.5L539.7 197.9zM513.7 214.5L506.5 209.2L511.8 205.8zM525 207.3L517.8 201.9L523.1 198.6zM524.1 197.9L531.3 203.3L526 206.7zM526 196.7L533.2 202.1L527.9 205.5zM523.9 198.1L531 203.5L525.7 206.8zM530.3 193.9L537.5 199.3L532.2 202.7zM496.1 226.7L501.1 234.1L495 235.6zM468.9 242L463.9 234.6L470 233.1zM483.8 229.7L488.8 237.1L482.7 238.6zM479.2 239.5L474.1 232.1L480.2 230.6zM485 229.4L490.1 236.8L484 238.3zM471.9 268.6L475.7 276.7L469.4 277.2zM444.6 279.1L440.8 271L447.1 270.5zM453 278.5L449.2 270.3L455.5 269.9zM458.4 278L454.6 269.9L460.9 269.4zM419.3 296.5L421 305.3L414.8 304.3zM392.2 300.7L390.5 291.9L396.7 292.9zM399.1 301.8L397.3 293L403.6 294zM355.7 301.1L355.1 310L349.3 307.4zM324.8 296.4L325.4 287.5L331.2 290.1zM334.2 300.6L334.8 291.7L340.5 294.3zM348.5 297.9L348 306.8L342.2 304.2zM348.6 297.9L348 306.8L342.2 304.3zM318.9 265.9L316.6 274.5L311.4 270.9zM292.9 257.5L295.2 248.9L300.4 252.5zM313.3 261.8L310.9 270.5L305.8 266.8zM267.3 247.7L263.2 255.6L258.9 251zM243.6 234L247.7 226.1L252 230.7zM259 238.6L254.9 246.5L250.7 241.9zM238.8 206.4L233.1 213.3L230 207.8zM215.7 182.8L221.4 175.9L224.5 181.4zM222.2 194.2L227.9 187.3L231 192.8zM223.2 196.1L229 189.2L232.1 194.6zM233.1 196.4L227.4 203.3L224.3 197.8zM219.8 190.1L225.6 183.2L228.7 188.6zM244 135.2L236.6 140.1L235.1 134zM228.2 103.9L235.6 99L237.1 105.1zM231.9 120.2L239.4 115.3L240.8 121.4zM241.3 123.2L233.8 128.2L232.4 122zM231.4 118L238.9 113.1L240.3 119.2zM240.6 120.3L233.1 125.3L231.7 119.2zM231.7 119.2L239.2 114.3L240.6 120.4zM289.2 103.1L281.2 107.2L280.5 100.9zM277.7 76.2L285.7 72.1L286.4 78.4zM279 87.9L287 83.8L287.7 90.1zM287.7 90.2L279.7 94.3L279 88zM371.9 104.8L364.4 109.7L363.1 103.5zM356.4 73.4L363.9 68.5L365.2 74.7zM369 91.5L361.5 96.4L360.1 90.3zM358.3 82.2L365.8 77.3L367.2 83.5zM358.7 83.8L366.2 78.9L367.5 85zM369 91.4L361.4 96.3L360.1 90.1zM358.7 84.1L366.2 79.2L367.6 85.3zM430.3 134.5L429.8 143.5L424 141zM401.2 131L401.7 122L407.5 124.5zM408.7 134.3L409.2 125.3L415 127.8zM420 130L419.5 139L413.8 136.5zM347.3 151.8L342.1 159.1L338.5 153.9zM325.7 134.9L330.9 127.6L334.5 132.8zM340.6 141.9L335.4 149.2L331.9 144zM279.1 170.8L273.1 177.4L270.2 171.8zM258.9 149.7L264.9 143.1L267.8 148.7zM275.1 162.9L269 169.6L266.2 164zM264.9 161.4L270.9 154.8L273.8 160.4zM481.5 161.2L486.9 168.4L480.8 170.2zM460.8 176.1L455.4 168.9L461.5 167.1zM424.5 196.3L425.3 205.3L419.3 203.6zM391.5 195.9L390.7 186.9L396.7 188.6zM402 198.8L401.2 189.8L407.2 191.5zM399.8 198.2L399 189.2L405 190.9zM405.8 199.8L405 190.9L411.1 192.6zM414.2 193.5L415 202.4L408.9 200.7zM338.3 211.1L335 219.4L330.3 215.2zM307.5 194.4L310.8 186.1L315.5 190.3zM318.5 204.4L321.9 196.1L326.5 200.4zM331.5 204.9L328.2 213.3L323.6 209zM329.5 203.1L326.2 211.4L321.5 207.2zM330.8 204.2L327.4 212.6L322.8 208.3zM319.1 205L322.5 196.7L327.1 200.9zM398.6 246.2L398.8 255.2L392.8 253.2zM367.4 244.5L367.2 235.5L373.2 237.5zM380.3 248.9L380.1 239.9L386 242zM384.5 241.4L384.7 250.4L378.8 248.3zM375.4 247.2L375.2 238.2L381.1 240.3zM578.9 149.8L586.3 154.9L581.1 158.5zM559.1 173.8L551.7 168.7L556.9 165.1zM569.1 156.6L576.5 161.7L571.3 165.3zM566.6 158.3L574 163.5L568.8 167zM568.8 156.9L576.1 162L571 165.6zM586.4 215.8L592.1 222.8L586.1 224.8zM560.6 233.2L554.9 226.2L560.9 224.2zM569.1 230.4L563.5 223.4L569.5 221.4zM579 218.2L584.7 225.2L578.7 227.2zM576.4 219.1L582.1 226.1L576.1 228.1zM544.5 253.6L547.1 262.1L540.9 261.8zM516 260.4L513.4 251.9L519.6 252.2zM525.7 261L523 252.4L529.3 252.7zM529.1 261.1L526.5 252.6L532.7 252.9zM519.5 294.6L521.2 303.5L515 302.4zM492.5 298.4L490.8 289.5L497 290.6zM508.8 292.7L510.4 301.6L504.2 300.4zM467.1 322.3L466.8 331.3L461 328.9zM439.9 320.2L440.2 311.2L446 313.6zM457.9 318.5L457.6 327.5L451.8 325.1zM400.2 325.1L397.7 333.7L392.7 330zM375.8 317.7L378.3 309.1L383.3 312.8zM366.8 292.6L362.7 300.6L358.5 295.9zM340.5 276.1L344.6 268.1L348.8 272.8zM346.2 282.4L350.3 274.4L354.5 279.1zM358.3 283.3L354.2 291.2L350 286.6zM346.7 282.9L350.8 274.9L355 279.6zM315.8 275.7L310.3 282.8L307 277.5zM290.6 251.3L296.1 244.2L299.4 249.5zM299.3 265.2L304.8 258.1L308.1 263.5zM297.2 261.9L302.7 254.7L306 260.1zM299.3 265.3L304.8 258.1L308.1 263.5zM310.7 267.5L305.2 274.7L301.9 269.3zM310.9 267.9L305.4 275L302.1 269.7zM283.6 227.9L276.8 233.8L274.6 227.9zM266.4 206.6L273.2 200.7L275.4 206.6zM280.5 219.8L273.7 225.7L271.5 219.8zM289.6 157.7L281.6 161.7L280.9 155.4zM278.1 126.7L286.1 122.7L286.8 129zM288.5 146.4L280.4 150.3L279.8 144zM279.3 138.5L287.3 134.5L287.9 140.8zM279.5 141L287.6 137.1L288.2 143.3zM279.1 137.2L287.2 133.2L287.8 139.5zM335.1 126.4L326.6 129.4L326.8 123.1zM327.3 98.2L335.8 95.2L335.6 101.5zM335.3 114.7L326.9 117.6L327 111.3zM335.3 117.8L326.8 120.8L326.9 114.5zM415.6 124.9L407 127.7L407.3 121.4zM408.2 98.6L416.8 95.8L416.5 102.1zM407.9 106.8L416.4 104L416.2 110.3zM474.6 167.7L468.5 174.3L465.7 168.7zM452.4 143.1L458.5 136.5L461.3 142.1zM457.7 153.3L463.7 146.7L466.6 152.3zM458.2 154.3L464.2 147.6L467.1 153.2zM467.3 153.6L461.3 160.3L458.4 154.7zM459.2 156.2L465.2 149.5L468.1 155.1zM391.9 176.2L384.8 181.7L382.9 175.7zM376.6 155.8L383.7 150.3L385.6 156.3zM324.8 195.1L317.6 200.5L315.8 194.5zM308.7 170.7L315.9 165.3L317.7 171.3zM322.6 187.9L315.5 193.3L313.7 187.3zM322.5 187.4L315.3 192.8L313.5 186.8zM532.5 190.5L533.5 199.4L527.4 197.8zM505.3 192.1L504.3 183.2L510.4 184.8zM513.7 194.3L512.8 185.4L518.9 187zM469.3 224.3L466.4 232.8L461.5 228.8zM442.2 213.2L445.1 204.7L450 208.7zM462.6 218.9L459.8 227.4L454.9 223.4zM452.2 221.2L455 212.7L459.9 216.7zM382.3 235.7L377 242.9L373.6 237.6zM359 215.1L364.3 207.9L367.7 213.2zM377.6 228.4L372.3 235.7L368.9 230.4zM366.7 227.1L372.1 219.8L375.5 225.1zM366.6 226.9L371.9 219.6L375.3 224.9zM444.6 272.7L442.3 281.4L437.2 277.7zM416.9 263.3L419.2 254.6L424.3 258.3zM434.7 265.7L432.4 274.3L427.3 270.7zM435.5 266.2L433.2 274.9L428.1 271.3zM620.2 264L623.9 272.1L617.6 272.6zM588.8 274.6L585.1 266.5L591.4 266zM598 274L594.3 265.8L600.6 265.4zM604.9 265.1L608.6 273.2L602.3 273.7zM607.8 264.9L611.5 273L605.2 273.5zM600.2 273.8L596.5 265.7L602.8 265.2zM575.8 303.2L575.6 312.2L569.7 309.8zM546.7 300.4L546.9 291.4L552.8 293.8zM569.2 300.5L568.9 309.5L563.1 307.1zM557.5 304.8L557.7 295.8L563.5 298.2zM549.6 342.6L548.9 351.5L543.2 348.9zM524.4 340L525.1 331.1L530.8 333.7zM499.1 371.4L496.7 380.1L491.6 376.4zM469.9 360.7L472.3 352L477.4 355.7zM491.6 366L489.3 374.7L484.2 371zM477.4 366.1L479.7 357.4L484.8 361.1zM492.6 366.7L490.2 375.3L485.1 371.7zM430.7 373.2L426.5 381.1L422.4 376.4zM407.3 359.2L411.5 351.3L415.6 356zM413.4 366.2L417.6 358.3L421.8 363zM396.2 341L390.5 347.9L387.4 342.4zM373.1 317.3L378.8 310.4L381.9 315.9zM388.9 328.2L383.2 335.1L380.1 329.6zM391.3 332.4L385.6 339.3L382.5 333.8zM390.9 331.7L385.2 338.6L382.1 333.1zM390.3 330.7L384.6 337.6L381.5 332.1zM344.2 322.7L337.5 328.6L335.2 322.7zM324.2 293.9L330.9 288L333.2 293.9zM328.2 304.3L334.9 298.4L337.2 304.3zM338.5 307.8L331.8 313.8L329.5 307.9zM327.5 302.4L334.2 296.5L336.4 302.4zM328.4 304.9L335.1 299L337.4 304.9zM330 309.1L336.7 303.2L339 309.1zM312.7 275L305.1 279.7L303.9 273.5zM299.3 249.1L306.9 244.4L308.1 250.6zM301.7 262.1L309.4 257.5L310.6 263.7zM301.3 259.9L309 255.3L310.2 261.5zM318.1 201.3L309.5 203.8L309.9 197.5zM311.6 172.7L320.2 170.2L319.8 176.5zM318.7 192.9L310.1 195.4L310.5 189.2zM310.8 184.6L319.4 182L319 188.3zM363.9 169.7L355 171.1L356.3 164.9zM360.5 144.5L369.4 143.1L368.1 149.3zM443.3 169.3L434.3 169.7L436.2 163.7zM442.5 143.8L451.5 143.4L449.6 149.4zM498 212.4L489.4 215.1L489.8 208.8zM491 188L499.6 185.3L499.2 191.6zM419.8 224.7L411.4 228L411.3 221.7zM410.7 196.9L419.1 193.6L419.2 199.9zM411 207.7L419.3 204.4L419.4 210.7zM419.5 213.2L411.2 216.6L411 210.3zM353.2 242.3L345.1 246.1L344.6 239.9zM342.3 213.1L350.4 209.3L350.9 215.5zM352.2 230.1L344.1 234L343.5 227.7zM352.5 233.9L344.4 237.7L343.8 231.4zM343 221.9L351.2 218L351.7 224.3zM561.6 247.8L556 254.7L552.8 249.3zM538.2 224.4L543.8 217.5L547 222.9zM542.5 231.8L548.1 224.8L551.3 230.2zM556.7 239.3L551 246.3L547.8 240.9zM555.8 237.9L550.2 244.9L547 239.4zM545.3 236.6L551 229.6L554.2 235.1zM497.7 276L491.6 282.5L488.8 276.9zM475.8 251.1L481.9 244.6L484.7 250.2zM480.4 260.2L486.4 253.6L489.3 259.2zM490.7 262.1L484.6 268.7L481.8 263.1zM491.5 263.7L485.4 270.3L482.6 264.7zM492.8 266.2L486.7 272.8L483.9 267.2zM409.6 281.3L402.6 286.9L400.7 280.9zM393.7 259.1L400.7 253.5L402.6 259.5zM406.4 271.3L399.4 276.9L397.5 270.9zM473 320.6L468.3 328.2L464.4 323.2zM450.5 305L455.2 297.4L459.1 302.4zM466.2 311.7L461.4 319.3L457.6 314.3zM577.5 373.2L572.7 380.7L568.9 375.7zM554 355.8L558.8 348.3L562.6 353.3zM572.6 366.6L567.7 374.1L564 369.1zM560.3 364.2L565.1 356.6L568.9 361.7zM553.1 409.1L549.7 417.4L545.1 413.1zM529.9 398.9L533.3 390.6L537.9 394.9zM502.9 439.3L498.4 447.1L494.4 442.2zM475.1 418.2L479.6 410.4L483.6 415.3zM484.9 430.4L489.5 422.7L493.5 427.6zM494 428.2L489.4 436L485.5 431.1zM495.2 429.7L490.6 437.4L486.7 432.5zM480.8 425.2L485.3 417.5L489.3 422.4zM497.2 432.2L492.6 439.9L488.7 435zM433.2 438.5L427.3 445.2L424.3 439.6zM413.8 419.3L419.7 412.6L422.7 418.2zM428.3 429.1L422.3 435.7L419.4 430.2zM397.4 406.2L390.1 411.4L388.5 405.4zM380.9 377.5L388.2 372.3L389.8 378.3zM383.4 386.9L390.7 381.6L392.4 387.7zM394 393.8L386.8 399L385.1 393zM393.9 393.3L386.6 398.6L385 392.5zM384.9 392.3L392.2 387L393.8 393.1zM345.1 386.2L337.3 390.6L336.4 384.3zM332.3 355.8L340.1 351.4L341 357.7zM333.8 366.7L341.7 362.4L342.6 368.6zM343.8 376.9L335.9 381.2L335 374.9zM343.5 374.8L335.6 379.1L334.7 372.9zM333.8 366.7L341.7 362.4L342.6 368.6zM314.3 339.8L305.9 342.8L306 336.5zM306.7 309.7L315.1 306.7L315 313zM314.5 331.3L306.1 334.2L306.2 327.9zM306.3 323.9L314.8 320.9L314.6 327.2zM314.5 331.3L306.1 334.2L306.2 327.9zM320.1 262.4L311.2 263.1L312.9 257.1zM318.6 237L327.5 236.3L325.8 242.3zM365.5 232.5L356.5 231.8L359.2 226.1zM367.9 207.1L376.9 207.8L374.2 213.5zM441.1 235.6L432.4 233.4L436 228.2zM453.7 202.9L462.4 205.1L458.8 210.3zM446.1 228.5L437.4 226.3L441 221.1zM446.4 213.4L455.1 215.6L451.5 220.7zM449.5 223.6L440.8 221.4L444.4 216.2zM450.5 222.1L441.8 219.9L445.5 214.7zM447.4 211.8L456.1 214.1L452.5 219.2zM496.2 275.3L487.4 273.5L490.7 268.2zM501.8 250.5L510.6 252.3L507.3 257.6zM419 290L410.1 290.6L411.9 284.5zM420.5 257L429.4 256.4L427.6 262.5zM417 268L426 267.5L424.1 273.5zM423 277.4L414 277.9L415.9 271.9zM415.8 272.1L424.7 271.6L422.9 277.6zM416.5 269.7L425.5 269.2L423.6 275.2zM354.3 303.9L345.5 305.7L346.5 299.5zM350.2 276.9L359 275.1L358 281.3zM348.7 286.2L357.5 284.4L356.5 290.6zM551.2 312.1L542.4 310.4L545.7 305zM557.6 285.5L566.4 287.2L563.1 292.6zM553 293L561.8 294.7L558.5 300.1zM494.8 340.4L486.2 343.2L486.5 336.9zM487.7 312.1L496.3 309.3L496 315.6zM495.3 329.2L486.8 331.9L487.1 325.6zM487.2 323.1L495.7 320.4L495.4 326.7zM410.4 348.9L402 352.1L402 345.8zM401.9 316.9L410.3 313.7L410.3 320zM410.4 336.2L402 339.4L402 333.1zM401.9 326.6L410.3 323.4L410.3 329.7zM410.4 338.6L402 341.8L402 335.5zM401.9 326.4L410.3 323.2L410.3 329.5zM473.8 385.8L466.6 391.2L464.8 385.2zM458.7 365.2L465.9 359.8L467.7 365.8zM512.4 440.2L510.7 449.1L505.3 445.8zM484.1 432.8L485.8 423.9L491.2 427.2zM492.2 437.7L493.9 428.9L499.3 432.2zM494.6 439.2L496.3 430.4L501.7 433.7zM459.9 471.6L455.5 479.4L451.4 474.6zM431.6 450.9L436 443.1L440.1 447.9zM438.1 458.6L442.5 450.8L446.5 455.7zM438.8 459.5L443.2 451.7L447.3 456.5zM439.8 460.7L444.3 452.9L448.3 457.8zM440.5 461.5L444.9 453.7L448.9 458.5zM452.5 462.7L448.1 470.6L444 465.7zM390.3 473.3L383.9 479.7L381.3 473.9zM370.2 449.5L376.6 443.1L379.2 448.9zM376.2 462.6L382.5 456.3L385.1 462zM386.9 465.8L380.5 472.2L377.9 466.4zM374.2 458.2L380.5 451.9L383.1 457.6zM352 436.6L344.2 441L343.3 434.7zM339.8 412.1L347.6 407.7L348.5 414zM350.5 426.9L342.7 431.3L341.8 425.1zM300 415.4L291.7 418.8L291.5 412.5zM290.9 391.6L299.2 388.2L299.4 394.5zM268.8 374.7L260 376.5L261 370.3zM265.7 339.8L274.5 338L273.5 344.2zM264.3 348.8L273.1 347L272.1 353.2zM263.9 351.4L272.7 349.6L271.7 355.8zM263.2 355.8L272 354L271 360.2zM263.2 355.9L272 354.1L271 360.3zM264 350.7L272.8 348.9L271.8 355.1zM273.6 297.6L264.6 296.9L267.3 291.2zM278.6 266.8L287.6 267.5L284.9 273.2zM276.8 290.6L267.9 289.9L270.5 284.2zM274.4 275.9L283.4 276.5L280.7 282.3zM277.8 288.4L268.9 287.7L271.5 282zM318 266.9L309.4 264.5L313.1 259.4zM328.9 237.7L337.5 240.1L333.8 245.2zM322.7 260.5L314 258.1L317.7 253.1zM321.3 248.1L330 250.4L326.3 255.5zM326.1 255.8L317.5 253.4L321.2 248.3zM394.4 265.1L386.7 260.6L391.5 256.6zM413.9 238.4L421.6 242.9L416.8 246.9zM400.8 259.9L393.1 255.3L398 251.4zM403.9 246.6L411.6 251.1L406.7 255.1zM402.5 247.7L410.2 252.2L405.4 256.2zM402.7 247.5L410.4 252.1L405.5 256.1zM447.2 306L439.9 300.8L445.2 297.3zM464.3 284.8L471.6 290L466.3 293.5zM455.4 300.6L448.2 295.3L453.5 291.9zM372.7 320.1L363.9 318.3L367.2 313zM380.3 291.9L389.1 293.7L385.8 299zM379.3 309.4L370.5 307.7L373.8 302.3zM379.3 309.4L370.5 307.6L373.9 302.3zM307.7 339.4L298.8 339.6L300.8 333.7zM310.3 306.4L319.2 306.2L317.2 312.1zM310.8 330.5L301.8 330.7L303.9 324.8zM312.9 324.5L303.9 324.7L306 318.8zM311.3 329.2L302.3 329.4L304.4 323.4zM312 327L303 327.3L305.1 321.3zM495.1 338.3L490.6 330.6L496.8 329.5zM527.2 324.3L531.7 332L525.5 333.1zM517.5 325.9L522 333.7L515.8 334.8zM517.6 325.9L522.2 333.7L516 334.7zM512.8 326.8L517.3 334.5L511.1 335.6zM507.3 336.2L502.7 328.5L508.9 327.4zM508.7 336L504.2 328.2L510.4 327.2zM444 375.8L435.1 374.8L437.9 369.2zM452 341.7L460.9 342.7L458.1 348.3zM451.6 361L442.7 360L445.5 354.3zM449.6 364.8L440.7 363.8L443.6 358.2zM451.1 362L442.1 361L445 355.4zM444.7 355.9L453.6 357L450.8 362.6zM447.4 350.7L456.3 351.7L453.5 357.3zM363.7 382.9L354.9 384.4L356.1 378.2zM362.1 347.9L370.9 346.4L369.7 352.6zM366.3 370L357.4 371.4L358.6 365.2zM359.3 362.1L368.1 360.7L366.9 366.9zM365.5 373.8L356.7 375.2L357.9 369zM365.6 373.4L356.8 374.8L358 368.6zM358.8 364.4L367.7 362.9L366.4 369.1zM428.7 421.5L420.7 425.5L420 419.2zM417.3 394.5L425.3 390.5L426 396.8zM427.7 412.3L419.7 416.3L419 410.1zM418.4 404.8L426.4 400.7L427.1 407zM430.8 510.7L424.6 517.1L421.9 511.5zM412.2 490.8L418.4 484.4L421.1 490zM426.3 501.2L420.1 507.6L417.4 501.9zM363.6 516.7L356.1 521.5L354.8 515.3zM348.4 485.1L355.9 480.3L357.2 486.5zM360.8 503.4L353.2 508.2L351.9 502zM351.7 500.9L359.3 496.1L360.6 502.2zM361.3 505.6L353.7 510.4L352.4 504.3zM351.2 498.4L358.8 493.6L360.1 499.8zM360.2 500.6L352.7 505.4L351.4 499.3zM324.9 476.1L316.3 478.6L316.8 472.3zM318.4 451.6L327 449.1L326.5 455.4zM273.4 455.5L264.6 457.3L265.6 451.1zM269 430.5L277.8 428.7L276.8 434.9zM241.8 413.2L232.8 413.5L234.9 407.5zM244.2 380.3L253.2 380L251.1 386zM241.4 388.4L250.4 388.2L248.3 394.1zM239.4 394.3L248.4 394.1L246.3 400zM245.3 403L236.3 403.3L238.4 397.3zM245.7 401.9L236.7 402.1L238.8 396.2zM247.9 334.8L239.2 332.6L242.8 327.4zM255.8 308.6L264.5 310.8L260.9 316zM251.7 314.6L260.4 316.8L256.8 322zM289.8 306.5L281.7 302.6L286.3 298.3zM308.6 277.1L316.7 281L312.1 285.3zM299.5 285.7L307.6 289.7L303 294zM296.6 300.1L288.5 296.2L293.1 291.8zM298.5 286.6L306.6 290.6L302 294.9zM299 286.2L307.1 290.1L302.5 294.5zM300.2 296.6L292.1 292.7L296.7 288.4zM367.5 302.3L360.9 296.2L366.5 293.3zM392.3 280.2L398.9 286.3L393.3 289.2zM382.9 285L389.5 291.1L383.9 293.9zM378.6 287.2L385.2 293.2L379.6 296.1zM385 283.9L391.7 290L386 292.8zM378.3 287.3L385 293.4L379.3 296.2zM421.2 342.4L415.8 335.2L421.8 333.4zM441.8 327.4L447.2 334.6L441.2 336.4zM344.9 358.1L336.8 354.1L341.5 349.8zM359.6 332.9L367.7 336.9L363 341.2zM350.7 341.2L358.7 345.2L354.1 349.5zM352.7 350.8L344.7 346.8L349.3 342.5zM282.2 374.9L273.4 373.2L276.6 367.8zM287.3 349.9L296.1 351.6L292.9 357zM473.5 373.4L471.4 364.7L477.6 365.4zM500.3 368.2L502.4 376.9L496.2 376.2zM493.5 367.4L495.6 376.1L489.3 375.3zM412.6 410.5L405.4 405.1L410.7 401.7zM434.9 386L442.1 391.4L436.8 394.8zM426.1 391.8L433.3 397.1L428 400.5zM423.6 393.3L430.8 398.7L425.5 402.1zM424.2 393L431.4 398.3L426.1 401.7zM425.3 402.3L418.1 396.9L423.4 393.5zM336.3 418.4L327.4 417.2L330.4 411.7zM341 391.4L349.9 392.6L346.9 398.1zM337.8 397.5L346.7 398.6L343.8 404.2zM397.4 463L388.4 463L390.6 457.1zM400.1 432L409.1 432L406.9 437.9zM397.2 439.8L406.1 439.9L403.9 445.8zM397 440.4L405.9 440.4L403.7 446.3zM402.1 450.4L393.2 450.4L395.4 444.5zM307.7 539.6L299.3 542.8L299.3 536.5zM299.3 511.7L307.7 508.5L307.7 514.8zM307.7 526.5L299.3 529.7L299.3 523.4zM299.3 523.9L307.7 520.8L307.7 527.1zM267.9 504.1L258.9 504.2L261.1 498.3zM270.4 473.1L279.4 473L277.2 478.9zM267.6 480.7L276.6 480.6L274.4 486.5zM271.1 495.4L262.1 495.5L264.3 489.5zM265.7 485.7L274.7 485.7L272.5 491.6zM217.2 483.3L208.3 483.2L210.5 477.3zM220.2 452.2L229.1 452.3L226.9 458.2zM217 460.5L226 460.6L223.7 466.5zM215.6 464L224.6 464.1L222.4 469.9zM221.4 472.4L212.5 472.3L214.7 466.4zM186.6 436.6L177.7 435.1L180.9 429.6zM194.4 406.4L203.3 407.9L200.1 413.4zM188.8 416.2L197.6 417.7L194.4 423.1zM190.4 430L181.5 428.5L184.7 423.1zM191.8 427.6L182.9 426.1L186.1 420.7zM191.4 359.8L183.3 355.9L187.9 351.6zM207.3 333.1L215.4 337L210.8 341.3zM197.3 342.6L205.4 346.5L200.8 350.8zM197.1 354.3L189.1 350.4L193.6 346.1zM201.6 338.5L209.7 342.5L205.1 346.8zM237.6 326.7L230.6 321.1L236.1 317.9zM255.8 306.4L262.8 312L257.3 315.2zM248.3 310.7L255.3 316.4L249.9 319.6zM315.5 322.7L310.7 315L316.9 313.8zM339.3 309.3L344.1 317L337.9 318.2zM324 320.9L319.3 313.3L325.5 312.1zM365.8 363.1L363.1 354.5L369.4 354.9zM392.2 356.2L394.9 364.8L388.6 364.4zM379.8 355.5L382.4 364.1L376.2 363.7zM288.7 379.8L282.4 373.4L288.1 370.8zM310.8 360.7L317.1 367.1L311.4 369.7zM299 375.2L292.7 368.8L298.5 366.2zM301.3 364.9L307.6 371.3L301.9 373.9zM223.1 402.1L215 398.3L219.4 393.9zM241.4 372.2L249.5 376L245.1 380.4zM234.6 390.8L226.4 387L230.9 382.6zM233.7 379.8L241.8 383.6L237.3 388zM233.6 379.9L241.7 383.7L237.3 388.1zM231.2 394.1L223 390.3L227.5 385.9zM233.5 391.8L225.3 388.1L229.8 383.7zM419.1 392.6L420.1 383.6L425.7 386.5zM449.7 398.5L448.7 407.5L443.1 404.6zM441.1 394.2L440.1 403.1L434.5 400.3zM439.9 393.6L438.9 402.5L433.3 399.7zM437.2 392.3L436.3 401.2L430.6 398.4zM356.2 426.9L353.2 418.4L359.5 418.5zM386.3 419.1L389.3 427.6L383 427.5zM366.7 427.1L363.8 418.6L370.1 418.8zM376 418.9L379 427.4L372.7 427.2zM377.4 418.9L380.4 427.4L374.1 427.3zM279.8 440.7L271.9 436.4L276.7 432.3zM292.5 418.6L300.4 422.9L295.6 427zM336.9 480.8L330.7 474.3L336.5 471.9zM355.6 463.7L361.8 470.2L356 472.6zM194.8 502.7L186.8 498.7L191.4 494.4zM212.5 474.8L220.5 478.8L215.9 483.1zM203.7 483L211.7 487L207.1 491.3zM201.3 485.2L209.3 489.2L204.7 493.5zM206.2 480.6L214.3 484.6L209.7 488.9zM203.9 482.8L211.9 486.8L207.3 491.1zM147.1 484.3L138.4 482.2L141.9 477zM159.3 451.5L168 453.6L164.5 458.8zM153.2 475.4L144.5 473.2L148 468zM149.7 465.5L158.4 467.7L154.9 472.9zM150.4 464.5L159.1 466.6L155.6 471.9zM154.9 472.9L146.1 470.8L149.7 465.6zM149.8 465.5L158.5 467.6L154.9 472.8zM118.6 434.8L110.3 431.4L114.6 426.8zM131.4 408.5L139.7 411.9L135.4 416.5zM124.4 416.1L132.7 419.5L128.4 424.2zM126.4 426.3L118.1 422.9L122.4 418.3zM125.6 356.3L118.6 350.6L124.1 347.4zM142.1 336.9L149.1 342.6L143.6 345.8zM167.8 324.7L162.6 317.4L168.7 315.8zM194.6 308.7L199.8 316L193.7 317.6zM183.3 311.8L188.5 319.1L182.4 320.7zM180.1 321.3L174.9 314.1L181 312.4zM180.7 312.5L185.9 319.8L179.8 321.4zM247.5 318.7L245.3 310L251.6 310.7zM276.3 313.6L278.5 322.3L272.2 321.6zM266.3 312.4L268.5 321.1L262.2 320.4zM264.9 312.3L267.1 321L260.8 320.3zM298.1 357.4L298.7 348.5L304.5 351.1zM328.9 362.2L328.3 371.1L322.5 368.5zM306.5 361.2L307.1 352.3L312.8 354.9zM320.9 358.6L320.3 367.5L314.6 364.9zM310.2 362.9L310.8 353.9L316.5 356.6zM218.4 375L215 366.7L221.3 366.5zM250.1 365.8L253.5 374.1L247.2 374.3zM226.4 374.8L223.1 366.5L229.4 366.3zM230.8 374.7L227.4 366.4L233.7 366.2zM235.7 366.2L239.1 374.5L232.8 374.6zM240.3 366.1L243.6 374.4L237.3 374.5zM153.6 398.8L146.9 392.8L152.5 389.9zM179.9 375.8L186.6 381.8L181 384.7zM165 383.5L171.6 389.5L166 392.4zM172.2 379.8L178.8 385.8L173.2 388.7zM168.1 391.3L161.4 385.3L167 382.4zM169.9 381L176.5 387L170.9 389.9zM167.3 391.7L160.7 385.7L166.3 382.8zM353.9 386.6L357.7 378.4L362.1 382.9zM383.9 404.8L380.1 413L375.7 408.5zM374.4 395.3L370.7 403.5L366.2 399zM377.7 398.6L374 406.8L369.5 402.3zM374.3 395.2L370.6 403.3L366.1 398.9zM365.3 398.1L369.1 389.9L373.5 394.4zM373.9 394.8L370.2 402.9L365.7 398.5zM292.6 419.5L294.6 410.7L299.8 414.2zM318.9 426.8L316.9 435.6L311.7 432.1zM301.9 425.6L303.9 416.9L309.2 420.4zM209.6 436.1L205 428.4L211.2 427.2zM231.7 423.5L236.3 431.2L230.1 432.4zM264.9 465.1L267.6 456.5L272.6 460.5zM296.6 479.7L293.9 488.3L288.9 484.3zM276.7 474.5L279.4 466L284.4 469.9zM277.1 474.9L279.9 466.4L284.9 470.3zM276.9 474.7L279.7 466.1L284.6 470.1zM288.2 473L285.4 481.5L280.5 477.5zM284.5 470L281.7 478.5L276.8 474.6zM116.2 448.2L107.3 447.9L109.7 442zM121.5 413.5L130.4 413.8L128 419.7zM116.3 426.1L125.2 426.4L122.8 432.2zM118 421.9L127 422.2L124.6 428zM119.9 439.2L111 438.9L113.4 433.1zM118.1 421.6L127.1 421.9L124.7 427.7zM121.1 436.4L112.1 436.1L114.5 430.3zM82.8 400.3L74.4 397.2L78.5 392.4zM98.5 368.9L106.9 372L102.8 376.8zM91.5 390L83.1 387L87.2 382.2zM88.6 393.5L80.1 390.5L84.2 385.7zM89.9 379L98.3 382.1L94.2 386.9zM90.1 391.8L81.6 388.7L85.7 383.9zM90.5 378.3L99 381.3L94.9 386.1zM87.9 319.9L81.4 313.8L87 311zM111.1 299.2L117.6 305.3L112 308.1zM101.5 303.9L108 310.1L102.3 312.8zM102.3 303.5L108.8 309.6L103.2 312.4zM101.3 304L107.8 310.2L102.1 312.9zM131.5 285.9L127.3 278L133.6 277.1zM162.2 273.4L166.4 281.3L160.1 282.2zM139.6 284.8L135.4 276.9L141.7 276.1zM152.9 274.6L157.1 282.6L150.8 283.4zM151 274.9L155.2 282.8L149 283.6zM146 284L141.8 276.1L148 275.3zM210.1 277.6L209.8 268.7L215.8 270.7zM245 280.6L245.3 289.5L239.3 287.5zM229.6 275.4L229.9 284.3L223.9 282.3zM220.6 281.2L220.3 272.2L226.3 274.2zM234.3 276.9L234.6 285.9L228.6 283.9zM226 283L225.7 274L231.6 276zM225.7 282.9L225.4 273.9L231.3 275.9zM267.3 318.2L270.3 309.7L275.1 313.8zM291 327.3L288 335.8L283.2 331.7zM185.3 333.9L184.3 325L190.4 326.6zM214.5 332.8L215.5 341.7L209.4 340.1zM201.1 329.3L202 338.2L195.9 336.7zM204.3 330.1L205.2 339.1L199.1 337.5zM119.7 359.3L113.9 352.5L119.8 350.4zM145.1 341.2L150.9 348L145 350.1zM127.8 356.4L121.9 349.6L127.9 347.4zM127.7 356.4L121.9 349.6L127.8 347.4zM133 354.5L127.2 347.7L133.1 345.5zM324.5 349.4L330.3 342.5L333.4 348zM344.6 367.9L338.8 374.8L335.7 369.3zM338.3 356.7L332.5 363.5L329.4 358zM260.8 377.4L266.2 370.2L269.6 375.5zM282 394.8L276.6 402L273.2 396.7zM276.3 385.9L270.9 393.1L267.5 387.8zM170.7 392.6L170 383.7L176.1 385.4zM201.9 392.9L202.6 401.8L196.5 400.1zM189.4 389.3L190.1 398.2L184.1 396.5zM181.9 395.9L181.2 386.9L187.3 388.7zM182.3 396L181.6 387L187.7 388.8zM239 420.6L246.5 415.7L247.8 421.9zM253.8 450.1L246.3 455L245 448.8zM241.3 431.6L248.9 426.8L250.2 433zM251.8 440.5L244.2 445.3L242.9 439.2zM241.5 432.6L249.1 427.8L250.4 433.9zM240.9 429.6L248.4 424.7L249.8 430.9zM28.7 375.7L21.7 370.1L27 366.9zM51.7 351.8L58.7 357.4L53.4 360.6zM40.2 358.8L47.2 364.4L41.9 367.7zM41.9 367.6L34.9 362.1L40.3 358.8zM38.8 359.7L45.9 365.2L40.5 368.5zM36.2 371.1L29.2 365.6L34.6 362.3zM35.9 295.1L31.5 287.3L37.7 286.3zM62.2 282.3L66.6 290.1L60.4 291.1zM50.5 284.2L54.9 292L48.7 293zM51.3 284.1L55.8 291.9L49.6 292.9zM79.9 260L78.3 251.2L84.5 252.3zM112.9 257.6L114.5 266.4L108.3 265.3zM92 262.3L90.4 253.4L96.6 254.6zM98.9 255L100.5 263.8L94.3 262.7zM91.4 262.1L89.9 253.3L96 254.5zM98.1 254.8L99.7 263.7L93.5 262.5zM164.1 254.1L166.4 245.4L171.5 249.1zM190.1 262.4L187.8 271.1L182.7 267.4zM174.5 261.5L176.8 252.9L181.9 256.5zM217.4 292.6L222.6 285.3L226.1 290.6zM240 311.2L234.8 318.5L231.3 313.2zM235.1 303.8L229.8 311.1L226.3 305.9zM223.9 302.3L229.1 295L232.6 300.2zM136.8 307.4L139.7 298.9L144.6 303zM162.1 317.6L159.2 326.1L154.3 322zM144.4 313.7L147.3 305.3L152.1 309.3zM65.5 330.9L63.8 322.1L70 323.1zM98.4 327.9L100.1 336.7L93.9 335.7zM85.9 325.8L87.6 334.6L81.4 333.6zM88.1 326.2L89.8 335L83.6 333.9zM73.8 332.3L72.1 323.5L78.3 324.5zM88.9 326.3L90.7 335.1L84.4 334.1zM275 324L282 318.3L284 324.3zM293.2 351.6L286.2 357.3L284.2 351.3zM279.6 337.7L286.6 332L288.6 338zM290.3 343L283.3 348.6L281.3 342.6zM290.3 343L283.3 348.7L281.3 342.7zM278.8 335.3L285.8 329.7L287.8 335.6zM213 353L220.2 347.6L221.9 353.7zM228.9 377.5L221.7 382.9L220 376.8zM215.7 362.3L222.9 356.9L224.6 362.9zM225.5 365.8L218.3 371.1L216.5 365.1zM125.8 362.6L131.6 355.8L134.7 361.3zM145.9 381.2L140.1 388L137 382.5zM141.9 374L136.1 380.9L133 375.4zM192.3 398.4L200.8 395.5L200.6 401.8zM199.6 430.6L191.1 433.5L191.3 427.2zM191.8 413.4L200.3 410.6L200.1 416.9zM199.9 421.3L191.4 424.1L191.6 417.8zM200 418.3L191.5 421.1L191.7 414.9zM200.1 416.3L191.6 419.2L191.8 412.9zM6.5 245L4.3 236.3L10.6 237zM35.2 239.9L37.4 248.6L31.1 247.9zM19.8 246.6L17.6 237.8L23.9 238.6zM15.7 246.1L13.5 237.4L19.8 238.1zM54.8 210.1L55.9 201.2L61.5 204.2zM81.6 215L80.5 223.9L74.9 220.9zM74.7 211.3L73.5 220.2L68 217.2zM136.4 202.7L141.1 195.1L145 200.1zM161.4 221.3L156.7 228.9L152.8 223.9zM144.3 212.9L149 205.3L152.9 210.3zM154.5 212.4L149.8 220L146 215.1zM143.2 211.5L147.9 203.9L151.8 208.8zM191.2 240.8L198.2 235.2L200.2 241.2zM209.8 270.5L202.8 276.1L200.8 270.1zM195 252.2L202 246.6L203.9 252.6zM205.5 257.3L198.5 262.9L196.5 256.9zM194.2 250L201.2 244.4L203.2 250.4zM195.1 252.6L202.1 246.9L204 252.9zM195.6 254.1L202.6 248.5L204.5 254.4zM112.4 257.2L118.6 250.8L121.3 256.5zM130.1 275.3L123.9 281.7L121.2 276zM42.2 275.8L46.7 268L50.7 272.9zM65.3 290.5L60.8 298.3L56.8 293.4zM46.7 281.3L51.2 273.5L55.2 278.3zM250 276.1L258.1 272.1L258.7 278.3zM261.8 307L253.7 311L253.1 304.8zM250.9 284.4L258.9 280.4L259.6 286.7zM260.5 295.1L252.5 299.1L251.8 292.9zM260.4 294L252.4 298L251.7 291.8zM251.7 291.9L259.7 287.9L260.4 294.1zM188.7 303L197.1 299.9L197.1 306.2zM196.8 335L188.4 338.1L188.4 331.8zM196.9 324.1L188.5 327.2L188.5 320.9zM196.9 326.5L188.5 329.5L188.5 323.2zM196.9 320.8L188.5 323.9L188.6 317.6zM188.6 316.4L197 313.4L196.9 319.7zM104.7 311.3L113.3 308.9L112.8 315.2zM110.6 340L102 342.4L102.5 336.1zM103.9 320L112.6 317.5L112 323.8zM111.6 328.7L103 331.1L103.5 324.8zM167.5 355.5L176.4 355.1L174.5 361.1zM168 381L159.1 381.4L161 375.4zM66.6 128.8L72 121.6L75.3 126.9zM87.5 146.2L82.1 153.4L78.8 148.1zM72.8 138.6L78.2 131.5L81.6 136.8zM150.2 123.3L157.6 118.3L159.1 124.4zM165.3 150.6L157.9 155.6L156.4 149.5zM153.5 137.2L160.9 132.2L162.4 138.3zM162.7 139.6L155.3 144.6L153.8 138.5zM163.5 142.9L156 147.9L154.6 141.8zM206.1 167.3L214.7 164.8L214.3 171.1zM212.6 193.9L204 196.4L204.4 190.1zM213.2 185.1L204.6 187.6L205.1 181.3zM129.5 175.6L138.4 174.5L136.9 180.6zM130.7 206.8L121.8 207.9L123.3 201.8zM134 192.9L125.1 194L126.6 187.9zM126.4 188.6L135.3 187.5L133.8 193.6zM126.2 189.5L135.1 188.4L133.6 194.5zM70.8 196L78.6 200.6L73.7 204.5zM54.4 220.2L46.6 215.6L51.5 211.7zM61.8 203.3L69.5 207.9L64.6 211.9zM64.2 212.2L56.5 207.6L61.4 203.7zM263.3 202.9L272.2 201.6L270.9 207.7zM266.2 230.1L257.3 231.4L258.6 225.3zM267.5 223.7L258.7 225L260 218.8zM202.6 231.3L211.6 231.8L209 237.6zM200.6 256.6L191.6 256.1L194.2 250.3zM121.8 239L130 242.6L125.7 247.1zM111.2 262.2L103 258.6L107.3 254.1zM181.2 281.4L189.6 284.4L185.5 289.2zM172 305L163.6 302L167.7 297.2zM200.8 92.1L209.2 88.9L209.2 95.2zM209.4 122L201 125.2L201 118.9zM200.9 104.4L209.3 101.2L209.3 107.5zM200.9 105.3L209.3 102.1L209.3 108.4zM209.3 108.2L200.9 111.4L200.9 105.1zM256.7 137L265.7 136.6L263.7 142.6zM256.7 164.4L247.7 164.8L249.7 158.8zM253.1 148.2L262.1 147.8L260.1 153.8zM186.6 146.4L194.7 150.1L190.3 154.6zM168.3 176.2L160.2 172.5L164.6 168zM178.7 154.2L186.8 157.9L182.4 162.3zM175.4 169.2L167.3 165.5L171.7 161zM180.4 152.5L188.5 156.3L184 160.7zM178.8 154.1L186.9 157.8L182.5 162.3zM178.4 166.3L170.3 162.5L174.7 158.1zM122.5 176.5L124 185.4L117.8 184.1zM97.4 179.9L95.9 171L102.1 172.3zM314.4 170.2L323.4 170.6L321 176.4zM309.8 203L300.8 202.6L303.2 196.8zM309 183.2L317.9 183.5L315.5 189.4zM310.5 179.5L319.5 179.9L317 185.7zM308.5 184.4L317.4 184.8L315 190.6zM313.9 193.2L304.9 192.9L307.3 187.1zM253.6 202.2L262 205.3L257.9 210.1zM244.3 225.9L235.9 222.8L240 218zM173.8 212.8L179.5 219.7L173.6 221.8zM153.9 228.6L148.2 221.7L154.1 219.6zM235.2 251.1L242.3 256.5L237 259.9zM212.7 275.5L205.6 270.1L210.9 266.7zM227.6 256L234.8 261.4L229.5 264.8zM221.6 269.8L214.4 264.4L219.7 261zM227.9 255.8L235 261.2L229.7 264.6zM224.7 257.8L231.9 263.2L226.6 266.6zM341.9 138.3L350.4 141.3L346.3 146.1zM332.9 162L324.4 159L328.5 154.2zM273.4 163.8L272.4 172.7L266.8 169.9zM242.9 157.7L243.9 148.8L249.5 151.6zM265.5 159.8L264.5 168.7L258.9 165.8zM266.4 160.2L265.4 169.1L259.7 166.3zM254.4 163.6L255.4 154.6L261 157.5zM204.2 188.7L199.4 196.3L195.6 191.3zM177.1 166.6L181.9 159L185.7 164zM196.3 178.1L191.4 185.7L187.6 180.6zM184.1 175.8L188.9 168.3L192.7 173.3zM197.1 179.3L192.3 186.9L188.5 181.8zM194.5 175.8L189.7 183.4L185.9 178.4zM195.7 177.5L190.9 185L187.1 180zM397.8 172.3L406.4 174.8L402.6 179.8zM387.8 199.8L379.2 197.3L383 192.3zM392.2 193.8L383.6 191.3L387.4 186.3zM395 190.1L386.4 187.7L390.1 182.6zM340.1 204.7L346.2 211.3L340.4 213.7zM319.2 222.3L313.1 215.7L318.9 213.3zM331.1 208.4L337.2 214.9L331.4 217.3zM261 221.7L261.1 230.6L255.2 228.5zM228.1 218.6L228 209.7L233.9 211.8zM236.6 221.7L236.5 212.8L242.4 214.9zM241.8 223.6L241.7 214.6L247.6 216.8zM248.2 217L248.3 226L242.4 223.8zM241.5 223.5L241.4 214.6L247.4 216.7zM320 256.7L324.2 264.6L317.9 265.4zM289.3 268.8L285.1 260.9L291.4 260.1zM303 267.2L298.8 259.2L305.1 258.5zM297.7 267.8L293.6 259.9L299.8 259.1zM298.7 267.7L294.6 259.7L300.8 259zM304.4 267L300.3 259L306.5 258.3zM316 219.7L308.1 223.9L307.3 217.7zM303.5 189.1L311.4 184.9L312.2 191.1zM314.6 208.6L306.6 212.8L305.8 206.6zM304.8 198.9L312.7 194.7L313.5 200.9zM314.1 205L306.2 209.3L305.3 203zM305.2 202.4L313.2 198.1L314 204.4zM249.5 237.2L241.8 241.9L240.7 235.7zM235 205.4L242.7 200.7L243.8 206.9zM247.1 224.4L239.4 229.1L238.3 222.9zM237.8 220.2L245.5 215.6L246.6 221.8zM236.6 214.2L244.3 209.5L245.5 215.7zM247.7 227.7L240 232.3L238.9 226.1zM247.4 225.9L239.7 230.6L238.6 224.4zM447.4 217.3L456.2 219.3L452.7 224.6zM441.4 242.1L432.6 240.1L436.1 234.8zM394.7 254.6L396.8 263.3L390.5 262.5zM367.8 259.7L365.7 251L372 251.8zM387.5 253.7L389.6 262.4L383.3 261.6zM307.3 271.7L302.5 279.2L298.7 274.2zM285 255.9L289.8 248.4L293.6 253.4zM290 262.6L294.8 255.1L298.6 260.1zM368.9 305.7L369.6 314.7L363.6 312.9zM343.6 307.1L342.9 298.1L348.9 299.9zM170 242.5L162.6 247.6L161.1 241.5zM156 221.3L163.4 216.2L164.9 222.3zM364.2 222.8L373 221.3L371.8 227.5zM366.1 257.8L357.3 259.3L358.5 253.1zM362.3 232.7L371.1 231.1L370 237.3zM368.3 246.3L359.5 247.9L360.6 241.7zM361.1 239L370 237.5L368.8 243.7zM361.4 237.4L370.3 235.8L369.1 242zM367.8 249.2L358.9 250.7L360.1 244.5zM305.7 255.6L314.4 258.1L310.6 263.1zM298.3 279.9L289.6 277.4L293.4 272.4zM230.5 273.2L231.7 282.1L225.6 280.7zM203.3 275.6L202.1 266.7L208.2 268.1zM215.6 278.4L214.4 269.5L220.5 270.9zM288.9 307L295.3 313.3L289.5 315.9zM265.1 327L258.7 320.7L264.5 318.1zM276.5 321.8L270.1 315.5L275.9 312.9zM273.3 323.3L267 316.9L272.7 314.3zM275.1 322.5L268.8 316.1L274.5 313.5zM294.1 242L302.6 239.2L302.3 245.5zM301.2 272.4L292.7 275.2L293 268.9zM293.7 249.9L302.3 247.1L302 253.4zM301.8 257.7L293.3 260.5L293.6 254.2zM293.7 250.9L302.2 248.1L302 254.4zM233.9 270L242.8 269.1L241.3 275.2zM235.1 299.3L226.2 300.2L227.7 294.1zM231.9 278L240.8 277L239.2 283.1zM232.1 277.3L241 276.3L239.4 282.4zM155.4 276.9L163.9 279.6L160 284.6zM143.4 305.7L134.9 303L138.8 298zM150.2 283.5L158.8 286.2L154.9 291.2zM148.3 285.9L156.9 288.6L153 293.6zM150.5 296.7L142 293.9L145.9 289zM214.5 320.2L223.1 322.7L219.4 327.7zM204.5 347.6L195.9 345.1L199.6 340.1zM210.4 339.7L201.8 337.2L205.6 332.2zM210.3 339.9L201.7 337.4L205.4 332.3zM447.3 307L440.8 313.2L438.3 307.4zM426 279.1L432.5 272.9L435 278.7zM441.8 294.4L435.4 300.7L432.9 294.9zM441 292.5L434.6 298.8L432.1 293zM442.2 295.3L435.8 301.6L433.3 295.8zM432.4 293.8L438.9 287.6L441.4 293.4zM441.7 294L435.2 300.3L432.7 294.5zM358.8 312.4L351.3 317.4L349.9 311.2zM344.3 287L351.8 282L353.2 288.2zM347.4 300.5L354.9 295.6L356.3 301.7zM356 300.2L348.5 305.2L347.1 299.1zM425.3 351.6L421.1 359.5L416.9 354.8zM398 333L402.2 325.1L406.4 329.8zM415 339.8L410.7 347.7L406.6 342.9zM418.7 344L414.4 351.9L410.3 347.1zM405.2 341.3L409.4 333.4L413.6 338.1zM408.2 344.8L412.5 336.9L416.6 341.6zM293.8 342.8L285.7 346.6L285.2 340.3zM283 311.5L291.1 307.7L291.6 314zM283.9 324L292.1 320.2L292.6 326.5zM283.8 322.1L291.9 318.3L292.4 324.6zM284 324.3L292.1 320.5L292.6 326.8zM284.2 326.9L292.3 323.1L292.8 329.4zM362.9 372.3L361.9 381.3L356.3 378.4zM334.1 367.2L335.1 358.2L340.7 361.1zM343.6 372L344.6 363L350.2 365.9zM354.1 367.9L353.2 376.8L347.5 374zM268.6 361.7L277.3 364L273.7 369.2zM258.2 391.1L249.5 388.8L253.1 383.6zM266.6 379.1L258 376.8L261.6 371.7zM263.5 369L272.1 371.3L268.5 376.5zM261.3 372.1L270 374.4L266.3 379.5z"/><g fill="none" stroke="#0072BD" stroke-width="3" stroke-opacity="0.38"><path d="M356 635Q279.7 618.1 208 649" stroke-width="2.2"/><path d="M208 649Q284.3 665.9 356 635" stroke-width="1.4"/><path d="M445.5 693Q331.1 647.4 208 649" stroke-width="5.4"/><path d="M208 649Q322.4 694.6 445.5 693" stroke-width="1.3"/><path d="M541.8 738.5Q381.1 670.6 208 649" stroke-width="4.1"/><path d="M208 649Q368.7 716.9 541.8 738.5" stroke-width="2.5"/><path d="M608 820.5Q419 709 208 649" stroke-width="1.2"/><path d="M208 649Q397 760.5 608 820.5" stroke-width="3.8"/><path d="M208 649Q404.3 743.4 608 820.5" stroke-width="1.2"/><path d="M208 649Q405.4 740.8 608 820.5" stroke-width="3.1"/><path d="M617.5 937.5Q428.9 770.4 208 649" stroke-width="1.2"/><path d="M208 649Q396.6 816.1 617.5 937.5" stroke-width="1.3"/><path d="M617.5 937.5Q416.8 787.6 208 649" stroke-width="3"/><path d="M617.5 937.5Q417.4 786.7 208 649" stroke-width="8"/><path d="M526 998Q384.7 807.3 208 649" stroke-width="1.4"/><path d="M208 649Q349.3 839.7 526 998" stroke-width="1.7"/><path d="M481.5 1071Q366.6 845.9 208 649" stroke-width="5.1"/><path d="M208 649Q322.9 874.1 481.5 1071" stroke-width="10.2"/><path d="M208 649Q333.8 867.1 481.5 1071" stroke-width="4.5"/><path d="M369.5 1127Q317.2 878.4 208 649" stroke-width="2.8"/><path d="M208 649Q260.3 897.6 369.5 1127" stroke-width="10.7"/><path d="M208 649Q280.1 890.9 369.5 1127" stroke-width="1.2"/><path d="M208 649Q278.5 891.5 369.5 1127" stroke-width="8.6"/><path d="M208 649Q288.5 888.1 369.5 1127" stroke-width="2"/><path d="M245 1124Q254.4 884.3 208 649" stroke-width="1.4"/><path d="M208 649Q198.6 888.7 245 1124" stroke-width="1.3"/><path d="M208 649Q225.3 886.6 245 1124" stroke-width="2.2"/><path d="M245 1124Q228 886.4 208 649" stroke-width="7.9"/><path d="M178 1050Q220.9 851.6 208 649" stroke-width="1.5"/><path d="M208 649Q165.1 847.4 178 1050" stroke-width="4.6"/><path d="M208 649Q181.8 848.7 178 1050" stroke-width="5.3"/><path d="M208 649Q182.6 848.7 178 1050" stroke-width="2.6"/><path d="M76.8 1016Q168.8 841.9 208 649" stroke-width="4.2"/><path d="M208 649Q116 823.1 76.8 1016" stroke-width="1.2"/><path d="M76.8 1016Q143.3 832.8 208 649" stroke-width="1.2"/><path d="M76.8 1016Q147.2 834.2 208 649" stroke-width="1.6"/><path d="M16 920.5Q136.5 802.1 208 649" stroke-width="5.8"/><path d="M208 649Q87.5 767.4 16 920.5" stroke-width="3"/><path d="M16 920.5Q113.9 786.1 208 649" stroke-width="2.2"/><path d="M208 649Q102.6 778.1 16 920.5" stroke-width="4.6"/><path d="M16 920.5Q120.2 790.6 208 649" stroke-width="3.3"/><path d="M36.3 781.4Q138 735.8 208 649" stroke-width="2.1"/><path d="M208 649Q106.3 694.6 36.3 781.4" stroke-width="7.5"/><path d="M36.3 781.4Q126.3 720.6 208 649" stroke-width="6.1"/><path d="M132.5 723.5Q187.1 703.3 208 649" stroke-width="1.8"/><path d="M208 649Q153.4 669.2 132.5 723.5" stroke-width="4.5"/><path d="M293 729Q268.3 670.1 208 649" stroke-width="4"/><path d="M208 649Q232.7 707.9 293 729" stroke-width="8.9"/><path d="M293 729Q253.6 685.7 208 649" stroke-width="6.5"/><path d="M386 806Q314.2 708 208 649" stroke-width="2"/><path d="M208 649Q279.8 747 386 806" stroke-width="10.8"/><path d="M208 649Q296.8 727.7 386 806" stroke-width="1.3"/><path d="M237 824Q250.1 731.9 208 649" stroke-width="2.9"/><path d="M208 649Q194.9 741.1 237 824" stroke-width="6.9"/><path d="M208 649Q208.7 738.8 237 824" stroke-width="1.4"/><path d="M208 649Q217.7 737.3 237 824" stroke-width="3.6"/><path d="M101.4 858Q177.9 765.3 208 649" stroke-width="1.2"/><path d="M208 649Q131.5 741.7 101.4 858" stroke-width="5.7"/><path d="M208 649Q143.2 747.7 101.4 858" stroke-width="7"/><path d="M505.5 873Q374.8 737 208 649" stroke-width="4.5"/><path d="M208 649Q338.7 785 505.5 873" stroke-width="8.9"/><path d="M208 649Q351.4 768.1 505.5 873" stroke-width="2.2"/><path d="M208 649Q352.5 766.6 505.5 873" stroke-width="6"/><path d="M208 649Q349.4 770.7 505.5 873" stroke-width="4.7"/><path d="M380.4 929.2Q318 774.4 208 649" stroke-width="4.6"/><path d="M208 649Q270.4 803.8 380.4 929.2" stroke-width="3.3"/><path d="M208 649Q287.3 793.4 380.4 929.2" stroke-width="8.3"/><path d="M380.4 929.2Q297.7 787 208 649" stroke-width="10.1"/><path d="M209.3 942Q238.6 795.4 208 649" stroke-width="3.4"/><path d="M208 649Q178.7 795.6 209.3 942" stroke-width="5.6"/><path d="M209.3 942Q218.8 795.5 208 649" stroke-width="1.2"/><path d="M208 649Q201 795.5 209.3 942" stroke-width="6.1"/><path d="M208 649Q202.2 795.5 209.3 942" stroke-width="5.4"/><path d="M330.1 1023.7Q297.6 827.1 208 649" stroke-width="11.1"/><path d="M208 649Q240.5 845.6 330.1 1023.7" stroke-width="8"/><path d="M208 649Q264.6 837.8 330.1 1023.7" stroke-width="2"/><path d="M330.1 1023.7Q276.2 834 208 649" stroke-width="2.7"/><path d="M330.1 1023.7Q275.4 834.3 208 649" stroke-width="5.7"/><path d="M445.5 693Q417.1 638.8 356 635" stroke-width="1.2"/><path d="M356 635Q384.4 689.2 445.5 693" stroke-width="3.3"/><path d="M356 635Q400.7 664 445.5 693" stroke-width="1.5"/><path d="M356 635Q395.3 672.3 445.5 693" stroke-width="1.3"/><path d="M445.5 693Q403.1 660.3 356 635" stroke-width="1.2"/><path d="M541.8 738.5Q463.5 660.5 356 635" stroke-width="7.1"/><path d="M356 635Q434.3 713 541.8 738.5" stroke-width="1.4"/><path d="M356 635Q443.1 697.2 541.8 738.5" stroke-width="1.8"/><path d="M541.8 738.5Q449.5 685.7 356 635" stroke-width="2.7"/><path d="M356 635Q447.9 688.5 541.8 738.5" stroke-width="8.8"/><path d="M608 820.5Q499.8 703.6 356 635" stroke-width="1.3"/><path d="M356 635Q464.2 751.9 608 820.5" stroke-width="3.2"/><path d="M608 820.5Q482.2 727.4 356 635" stroke-width="4.2"/><path d="M608 820.5Q486.9 721 356 635" stroke-width="9"/><path d="M608 820.5Q485.1 723.5 356 635" stroke-width="7.9"/><path d="M617.5 937.5Q506.4 769.2 356 635" stroke-width="8.7"/><path d="M356 635Q467.1 803.3 617.5 937.5" stroke-width="2"/><path d="M356 635Q479.3 792.7 617.5 937.5" stroke-width="2.9"/><path d="M526 998Q466.4 804.6 356 635" stroke-width="2.5"/><path d="M356 635Q415.6 828.4 526 998" stroke-width="9"/><path d="M356 635Q434.1 819.7 526 998" stroke-width="10.4"/><path d="M526 998Q441.5 816.3 356 635" stroke-width="1.4"/><path d="M481.5 1071Q445.7 845.3 356 635" stroke-width="1.5"/><path d="M356 635Q391.8 860.7 481.5 1071" stroke-width="1.7"/><path d="M356 635Q406.4 856.5 481.5 1071" stroke-width="1.7"/><path d="M356 635Q413.2 854.6 481.5 1071" stroke-width="3.6"/><path d="M369.5 1127Q392.7 880.2 356 635" stroke-width="4.7"/><path d="M356 635Q332.8 881.8 369.5 1127" stroke-width="1.9"/><path d="M369.5 1127Q368.4 880.8 356 635" stroke-width="1.2"/><path d="M369.5 1127Q371.5 880.8 356 635" stroke-width="3"/><path d="M356 635Q362.4 881 369.5 1127" stroke-width="2.6"/><path d="M245 1124Q323.9 884.8 356 635" stroke-width="4.4"/><path d="M356 635Q277.1 874.2 245 1124" stroke-width="10.3"/><path d="M178 1050Q292.7 853.5 356 635" stroke-width="6"/><path d="M356 635Q241.3 831.5 178 1050" stroke-width="3.9"/><path d="M356 635Q261.2 840 178 1050" stroke-width="5"/><path d="M356 635Q256.5 838 178 1050" stroke-width="5.8"/><path d="M76.8 1016Q237.4 840.9 356 635" stroke-width="1.2"/><path d="M356 635Q195.4 810.1 76.8 1016" stroke-width="9.3"/><path d="M356 635Q206 817.9 76.8 1016" stroke-width="7.3"/><path d="M16 920.5Q201.4 796.1 356 635" stroke-width="8.8"/><path d="M356 635Q170.6 759.4 16 920.5" stroke-width="7.6"/><path d="M36.3 781.4Q206.1 730 356 635" stroke-width="2.7"/><path d="M356 635Q186.2 686.4 36.3 781.4" stroke-width="2.8"/><path d="M132.5 723.5Q253.1 701.6 356 635" stroke-width="1.3"/><path d="M356 635Q235.4 656.9 132.5 723.5" stroke-width="5.2"/><path d="M293 729Q347.8 697.6 356 635" stroke-width="1.2"/><path d="M356 635Q301.2 666.4 293 729" stroke-width="1.2"/><path d="M356 635Q322.4 680.6 293 729" stroke-width="1.6"/><path d="M356 635Q320.3 679.2 293 729" stroke-width="1.5"/><path d="M386 806Q394.6 716.4 356 635" stroke-width="2.4"/><path d="M356 635Q347.4 724.6 386 806" stroke-width="1.2"/><path d="M237 824Q318.5 743.4 356 635" stroke-width="1.2"/><path d="M356 635Q274.5 715.6 237 824" stroke-width="1.4"/><path d="M356 635Q288.7 724.6 237 824" stroke-width="1.3"/><path d="M101.4 858Q245.8 766.1 356 635" stroke-width="2.5"/><path d="M356 635Q211.6 726.9 101.4 858" stroke-width="1.2"/><path d="M356 635Q223.1 740.1 101.4 858" stroke-width="8.8"/><path d="M505.5 873Q451.1 741.2 356 635" stroke-width="5"/><path d="M356 635Q410.4 766.8 505.5 873" stroke-width="1.4"/><path d="M380.4 929.2Q398.1 779.6 356 635" stroke-width="1.8"/><path d="M356 635Q338.3 784.6 380.4 929.2" stroke-width="2.4"/><path d="M356 635Q356.3 783.1 380.4 929.2" stroke-width="2.5"/><path d="M356 635Q360.4 782.7 380.4 929.2" stroke-width="1.4"/><path d="M380.4 929.2Q381.5 781 356 635" stroke-width="8.4"/><path d="M209.3 942Q307.9 800.6 356 635" stroke-width="11.1"/><path d="M356 635Q257.4 776.4 209.3 942" stroke-width="3.4"/><path d="M209.3 942Q290.9 792.5 356 635" stroke-width="3.5"/><path d="M356 635Q278.3 786.4 209.3 942" stroke-width="1.3"/><path d="M330.1 1023.7Q367 830.9 356 635" stroke-width="1.3"/><path d="M356 635Q319.1 827.8 330.1 1023.7" stroke-width="2.4"/><path d="M541.8 738.5Q503.9 694.1 445.5 693" stroke-width="1.9"/><path d="M445.5 693Q483.4 737.4 541.8 738.5" stroke-width="8.1"/><path d="M608 820.5Q541.6 737.9 445.5 693" stroke-width="1.5"/><path d="M445.5 693Q511.9 775.6 608 820.5" stroke-width="1.2"/><path d="M617.5 937.5Q551.1 801.4 445.5 693" stroke-width="10.2"/><path d="M445.5 693Q511.9 829.1 617.5 937.5" stroke-width="4"/><path d="M526 998Q509 839.4 445.5 693" stroke-width="1.4"/><path d="M445.5 693Q462.5 851.6 526 998" stroke-width="4.2"/><path d="M481.5 1071Q487.4 879.7 445.5 693" stroke-width="1.2"/><path d="M445.5 693Q439.6 884.3 481.5 1071" stroke-width="4"/><path d="M369.5 1127Q435.1 914.8 445.5 693" stroke-width="10.8"/><path d="M445.5 693Q379.9 905.2 369.5 1127" stroke-width="8.7"/><path d="M369.5 1127Q414.2 911.2 445.5 693" stroke-width="6"/><path d="M445.5 693Q398.9 908.5 369.5 1127" stroke-width="1.9"/><path d="M245 1124Q368.8 919.5 445.5 693" stroke-width="2.5"/><path d="M445.5 693Q321.7 897.5 245 1124" stroke-width="1.5"/><path d="M445.5 693Q339.7 905.9 245 1124" stroke-width="7.2"/><path d="M178 1050Q331 885.9 445.5 693" stroke-width="4"/><path d="M445.5 693Q292.5 857.1 178 1050" stroke-width="7.3"/><path d="M76.8 1016Q280.9 877.1 445.5 693" stroke-width="2.3"/><path d="M445.5 693Q241.4 831.9 76.8 1016" stroke-width="1.7"/><path d="M445.5 693Q259.4 852.5 76.8 1016" stroke-width="7.8"/><path d="M445.5 693Q255.3 847.9 76.8 1016" stroke-width="10.9"/><path d="M76.8 1016Q266.1 860.2 445.5 693" stroke-width="8.5"/><path d="M16 920.5Q242 828 445.5 693" stroke-width="7.7"/><path d="M445.5 693Q219.5 785.5 16 920.5" stroke-width="7.9"/><path d="M36.3 781.4Q246 760.7 445.5 693" stroke-width="6.7"/><path d="M445.5 693Q235.8 713.7 36.3 781.4" stroke-width="1.7"/><path d="M132.5 723.5Q291.7 736.1 445.5 693" stroke-width="3.9"/><path d="M445.5 693Q286.3 680.4 132.5 723.5" stroke-width="2.5"/><path d="M445.5 693Q287.8 696 132.5 723.5" stroke-width="1.2"/><path d="M445.5 693Q288.7 704.7 132.5 723.5" stroke-width="1.2"/><path d="M293 729Q374.8 734.4 445.5 693" stroke-width="2"/><path d="M445.5 693Q363.7 687.6 293 729" stroke-width="1.9"/><path d="M386 806Q440.5 762.5 445.5 693" stroke-width="6"/><path d="M445.5 693Q391 736.5 386 806" stroke-width="10.3"/><path d="M386 806Q419.8 751.6 445.5 693" stroke-width="3.2"/><path d="M386 806Q427.4 755.6 445.5 693" stroke-width="10"/><path d="M237 824Q357.2 783.9 445.5 693" stroke-width="11"/><path d="M445.5 693Q325.3 733.1 237 824" stroke-width="10.3"/><path d="M445.5 693Q340.4 757.2 237 824" stroke-width="2.5"/><path d="M445.5 693Q339.6 755.8 237 824" stroke-width="1.7"/><path d="M237 824Q348.5 770 445.5 693" stroke-width="1.7"/><path d="M101.4 858Q285.6 800.7 445.5 693" stroke-width="1.6"/><path d="M445.5 693Q261.3 750.3 101.4 858" stroke-width="1.6"/><path d="M445.5 693Q270.4 769 101.4 858" stroke-width="5.1"/><path d="M445.5 693Q269.1 766.3 101.4 858" stroke-width="9.3"/><path d="M505.5 873Q500.2 774.8 445.5 693" stroke-width="8.3"/><path d="M445.5 693Q450.8 791.2 505.5 873" stroke-width="3.5"/><path d="M505.5 873Q476.2 782.8 445.5 693" stroke-width="5.5"/><path d="M380.4 929.2Q438 818 445.5 693" stroke-width="7.6"/><path d="M445.5 693Q387.9 804.2 380.4 929.2" stroke-width="1.3"/><path d="M380.4 929.2Q423.1 813.9 445.5 693" stroke-width="5.6"/><path d="M209.3 942Q347.7 836.8 445.5 693" stroke-width="9.5"/><path d="M445.5 693Q307.1 798.2 209.3 942" stroke-width="7.3"/><path d="M445.5 693Q320.5 811 209.3 942" stroke-width="6.8"/><path d="M209.3 942Q337.1 826.7 445.5 693" stroke-width="3.5"/><path d="M330.1 1023.7Q412.3 866.9 445.5 693" stroke-width="1.5"/><path d="M445.5 693Q363.3 849.8 330.1 1023.7" stroke-width="7.4"/><path d="M445.5 693Q387.4 858.2 330.1 1023.7" stroke-width="2.3"/><path d="M608 820.5Q598.2 760.7 541.8 738.5" stroke-width="7.6"/><path d="M541.8 738.5Q551.6 798.3 608 820.5" stroke-width="10.6"/><path d="M608 820.5Q575.2 779.3 541.8 738.5" stroke-width="2.8"/><path d="M608 820.5Q578.9 776.3 541.8 738.5" stroke-width="2.8"/><path d="M541.8 738.5Q566.2 786.6 608 820.5" stroke-width="10.2"/><path d="M617.5 937.5Q605.8 828 541.8 738.5" stroke-width="6.5"/><path d="M541.8 738.5Q553.5 848 617.5 937.5" stroke-width="1.5"/><path d="M617.5 937.5Q586 835.6 541.8 738.5" stroke-width="1.4"/><path d="M541.8 738.5Q576.9 839.1 617.5 937.5" stroke-width="1.4"/><path d="M526 998Q563.8 870.1 541.8 738.5" stroke-width="9.4"/><path d="M541.8 738.5Q504 866.4 526 998" stroke-width="7.7"/><path d="M541.8 738.5Q529.3 868 526 998" stroke-width="1.4"/><path d="M541.8 738.5Q527.9 867.9 526 998" stroke-width="8"/><path d="M541.8 738.5Q520.2 867.4 526 998" stroke-width="10.8"/><path d="M481.5 1071Q535.3 909 541.8 738.5" stroke-width="5.5"/><path d="M541.8 738.5Q488 900.5 481.5 1071" stroke-width="2.4"/><path d="M369.5 1127Q481.2 944.1 541.8 738.5" stroke-width="4.2"/><path d="M541.8 738.5Q430.1 921.4 369.5 1127" stroke-width="1.4"/><path d="M369.5 1127Q467.6 938 541.8 738.5" stroke-width="1.2"/><path d="M369.5 1127Q464.3 936.6 541.8 738.5" stroke-width="10.6"/><path d="M245 1124Q412.4 945.9 541.8 738.5" stroke-width="5.4"/><path d="M541.8 738.5Q374.4 916.6 245 1124" stroke-width="4"/><path d="M178 1050Q379.4 917 541.8 738.5" stroke-width="9.9"/><path d="M541.8 738.5Q340.4 871.5 178 1050" stroke-width="3.1"/><path d="M541.8 738.5Q357.3 891.2 178 1050" stroke-width="8.8"/><path d="M541.8 738.5Q359.7 894.1 178 1050" stroke-width="8"/><path d="M541.8 738.5Q350.5 883.2 178 1050" stroke-width="1.6"/><path d="M76.8 1016Q321.6 897.9 541.8 738.5" stroke-width="1.8"/><path d="M541.8 738.5Q297 856.6 76.8 1016" stroke-width="2.1"/><path d="M16 920.5Q287.4 854.1 541.8 738.5" stroke-width="1.8"/><path d="M541.8 738.5Q270.4 804.9 16 920.5" stroke-width="4.6"/><path d="M16 920.5Q281.2 836.1 541.8 738.5" stroke-width="1.9"/><path d="M36.3 781.4Q291.6 789.8 541.8 738.5" stroke-width="3"/><path d="M541.8 738.5Q286.5 730.1 36.3 781.4" stroke-width="1.4"/><path d="M36.3 781.4Q290.1 772.7 541.8 738.5" stroke-width="9.5"/><path d="M36.3 781.4Q290.1 772.5 541.8 738.5" stroke-width="2.5"/><path d="M36.3 781.4Q289.7 768.1 541.8 738.5" stroke-width="3.3"/><path d="M132.5 723.5Q336.1 759 541.8 738.5" stroke-width="4.6"/><path d="M541.8 738.5Q338.2 703 132.5 723.5" stroke-width="9.4"/><path d="M132.5 723.5Q336.9 737.8 541.8 738.5" stroke-width="3"/><path d="M132.5 723.5Q337.1 733.2 541.8 738.5" stroke-width="9.6"/><path d="M293 729Q416.5 757.7 541.8 738.5" stroke-width="3.7"/><path d="M541.8 738.5Q418.3 709.8 293 729" stroke-width="4"/><path d="M386 806Q474.2 796.1 541.8 738.5" stroke-width="3.9"/><path d="M541.8 738.5Q453.6 748.4 386 806" stroke-width="1.2"/><path d="M386 806Q468.7 783.3 541.8 738.5" stroke-width="3.1"/><path d="M237 824Q397.5 810.1 541.8 738.5" stroke-width="1.5"/><path d="M541.8 738.5Q381.3 752.4 237 824" stroke-width="1.2"/><path d="M237 824Q392.2 791.1 541.8 738.5" stroke-width="7.6"/><path d="M541.8 738.5Q389.3 780.9 237 824" stroke-width="1.5"/><path d="M237 824Q392.7 793.2 541.8 738.5" stroke-width="3.4"/><path d="M101.4 858Q327.9 821.4 541.8 738.5" stroke-width="6.5"/><path d="M541.8 738.5Q315.3 775.1 101.4 858" stroke-width="4.3"/><path d="M505.5 873Q546.8 812 541.8 738.5" stroke-width="2.3"/><path d="M541.8 738.5Q500.5 799.5 505.5 873" stroke-width="3.9"/><path d="M380.4 929.2Q479.4 849.4 541.8 738.5" stroke-width="4.3"/><path d="M541.8 738.5Q442.8 818.3 380.4 929.2" stroke-width="7.4"/><path d="M209.3 942Q389.1 862.4 541.8 738.5" stroke-width="1.3"/><path d="M541.8 738.5Q362 818.1 209.3 942" stroke-width="4.3"/><path d="M541.8 738.5Q372.1 834.7 209.3 942" stroke-width="1.8"/><path d="M330.1 1023.7Q455.2 895.4 541.8 738.5" stroke-width="2"/><path d="M541.8 738.5Q416.7 866.8 330.1 1023.7" stroke-width="7.2"/><path d="M617.5 937.5Q638.7 876.9 608 820.5" stroke-width="3.8"/><path d="M608 820.5Q586.8 881.1 617.5 937.5" stroke-width="4.4"/><path d="M617.5 937.5Q625.1 878 608 820.5" stroke-width="7"/><path d="M526 998Q594.2 921.8 608 820.5" stroke-width="9.5"/><path d="M608 820.5Q539.8 896.7 526 998" stroke-width="3.2"/><path d="M526 998Q568.3 909.8 608 820.5" stroke-width="5"/><path d="M608 820.5Q566 908.8 526 998" stroke-width="3.8"/><path d="M526 998Q570.3 910.8 608 820.5" stroke-width="3.8"/><path d="M481.5 1071Q568 957.5 608 820.5" stroke-width="6"/><path d="M608 820.5Q521.5 934 481.5 1071" stroke-width="3.2"/><path d="M608 820.5Q539.4 943.1 481.5 1071" stroke-width="4"/><path d="M369.5 1127Q512.4 992.2 608 820.5" stroke-width="3.5"/><path d="M608 820.5Q465.1 955.3 369.5 1127" stroke-width="10.1"/><path d="M369.5 1127Q490.5 975.1 608 820.5" stroke-width="6.1"/><path d="M369.5 1127Q500.1 982.6 608 820.5" stroke-width="8.9"/><path d="M608 820.5Q486.6 972.1 369.5 1127" stroke-width="10.1"/><path d="M245 1124Q445.7 995.3 608 820.5" stroke-width="1.9"/><path d="M608 820.5Q407.3 949.2 245 1124" stroke-width="4.3"/><path d="M608 820.5Q418.2 962.4 245 1124" stroke-width="10.1"/><path d="M608 820.5Q424.9 970.4 245 1124" stroke-width="8.3"/><path d="M608 820.5Q418.4 962.6 245 1124" stroke-width="1.4"/><path d="M178 1050Q407.1 961.7 608 820.5" stroke-width="1.3"/><path d="M608 820.5Q378.9 908.8 178 1050" stroke-width="3.2"/><path d="M178 1050Q394.9 938.8 608 820.5" stroke-width="1.3"/><path d="M608 820.5Q392.7 934.7 178 1050" stroke-width="1.8"/><path d="M608 820.5Q387 924.1 178 1050" stroke-width="1.3"/><path d="M76.8 1016Q352.1 944.5 608 820.5" stroke-width="5.7"/><path d="M608 820.5Q332.7 892 76.8 1016" stroke-width="7.3"/><path d="M76.8 1016Q344.4 923.8 608 820.5" stroke-width="9.2"/><path d="M608 820.5Q337.7 905.5 76.8 1016" stroke-width="1.4"/><path d="M16 920.5Q316.7 898.1 608 820.5" stroke-width="6.3"/><path d="M608 820.5Q307.3 842.9 16 920.5" stroke-width="5.6"/><path d="M16 920.5Q312.9 875.8 608 820.5" stroke-width="1.4"/><path d="M608 820.5Q310.3 860.2 16 920.5" stroke-width="9"/><path d="M36.3 781.4Q320.1 830.9 608 820.5" stroke-width="10.6"/><path d="M608 820.5Q324.2 771 36.3 781.4" stroke-width="1.7"/><path d="M36.3 781.4Q321.3 812.9 608 820.5" stroke-width="10.3"/><path d="M36.3 781.4Q321.8 806.8 608 820.5" stroke-width="2.8"/><path d="M608 820.5Q322.8 790.8 36.3 781.4" stroke-width="3.6"/><path d="M132.5 723.5Q365.5 795.5 608 820.5" stroke-width="11"/><path d="M608 820.5Q375 748.5 132.5 723.5" stroke-width="8.1"/><path d="M293 729Q442.1 803.6 608 820.5" stroke-width="1.5"/><path d="M608 820.5Q458.9 745.9 293 729" stroke-width="3.1"/><path d="M293 729Q446.8 787.4 608 820.5" stroke-width="3.9"/><path d="M608 820.5Q451.6 770.8 293 729" stroke-width="2.3"/><path d="M293 729Q450.2 775.8 608 820.5" stroke-width="1.6"/><path d="M386 806Q495.4 837.2 608 820.5" stroke-width="2.2"/><path d="M608 820.5Q498.6 789.3 386 806" stroke-width="6.4"/><path d="M237 824Q422.7 846.2 608 820.5" stroke-width="1.2"/><path d="M608 820.5Q422.3 798.3 237 824" stroke-width="4.3"/><path d="M101.4 858Q356.8 867.2 608 820.5" stroke-width="3.1"/><path d="M608 820.5Q352.6 811.3 101.4 858" stroke-width="1.2"/><path d="M101.4 858Q355.7 852.5 608 820.5" stroke-width="2.3"/><path d="M101.4 858Q355.1 844.7 608 820.5" stroke-width="5.1"/><path d="M505.5 873Q567.7 868.1 608 820.5" stroke-width="3.8"/><path d="M608 820.5Q545.8 825.4 505.5 873" stroke-width="1.2"/><path d="M380.4 929.2Q505.4 898.3 608 820.5" stroke-width="10.9"/><path d="M608 820.5Q483 851.4 380.4 929.2" stroke-width="7.4"/><path d="M608 820.5Q491.3 868.9 380.4 929.2" stroke-width="10.6"/><path d="M209.3 942Q416.2 906.1 608 820.5" stroke-width="1.3"/><path d="M608 820.5Q401.1 856.4 209.3 942" stroke-width="1.9"/><path d="M209.3 942Q411.6 890.8 608 820.5" stroke-width="1.2"/><path d="M330.1 1023.7Q485.6 944.7 608 820.5" stroke-width="7.3"/><path d="M608 820.5Q452.5 899.5 330.1 1023.7" stroke-width="1.9"/><path d="M330.1 1023.7Q470.8 924.5 608 820.5" stroke-width="1.4"/><path d="M330.1 1023.7Q469.7 922.9 608 820.5" stroke-width="3"/><path d="M526 998Q587.2 991.1 617.5 937.5" stroke-width="9.5"/><path d="M617.5 937.5Q556.3 944.4 526 998" stroke-width="7.9"/><path d="M526 998Q573.4 970.2 617.5 937.5" stroke-width="1.9"/><path d="M526 998Q577.6 976.6 617.5 937.5" stroke-width="1.4"/><path d="M481.5 1071Q566.3 1021.4 617.5 937.5" stroke-width="9.6"/><path d="M617.5 937.5Q532.7 987.1 481.5 1071" stroke-width="4.5"/><path d="M369.5 1127Q508.1 1051.3 617.5 937.5" stroke-width="6.1"/><path d="M617.5 937.5Q478.9 1013.2 369.5 1127" stroke-width="1.3"/><path d="M245 1124Q442 1052.2 617.5 937.5" stroke-width="1.2"/><path d="M617.5 937.5Q420.5 1009.3 245 1124" stroke-width="5.9"/><path d="M178 1050Q404.7 1020.9 617.5 937.5" stroke-width="3"/><path d="M617.5 937.5Q390.8 966.6 178 1050" stroke-width="1.3"/><path d="M617.5 937.5Q396.8 989.9 178 1050" stroke-width="10"/><path d="M617.5 937.5Q394.6 981.3 178 1050" stroke-width="5.2"/><path d="M76.8 1016Q350.6 1000.5 617.5 937.5" stroke-width="7.6"/><path d="M617.5 937.5Q343.7 953 76.8 1016" stroke-width="1.3"/><path d="M16 920.5Q316.1 953 617.5 937.5" stroke-width="8.5"/><path d="M617.5 937.5Q317.4 905 16 920.5" stroke-width="1.2"/><path d="M36.3 781.4Q319.1 888.4 617.5 937.5" stroke-width="8.6"/><path d="M617.5 937.5Q334.7 830.5 36.3 781.4" stroke-width="3.3"/><path d="M617.5 937.5Q329.1 851.4 36.3 781.4" stroke-width="2.4"/><path d="M617.5 937.5Q328.6 853 36.3 781.4" stroke-width="4.3"/><path d="M36.3 781.4Q326.9 859.5 617.5 937.5" stroke-width="9.8"/><path d="M132.5 723.5Q363.7 856.1 617.5 937.5" stroke-width="1.9"/><path d="M617.5 937.5Q386.3 804.9 132.5 723.5" stroke-width="1.4"/><path d="M617.5 937.5Q380.2 818.7 132.5 723.5" stroke-width="4"/><path d="M132.5 723.5Q370.9 839.7 617.5 937.5" stroke-width="1.8"/><path d="M293 729Q440.1 856.8 617.5 937.5" stroke-width="1.3"/><path d="M617.5 937.5Q470.4 809.7 293 729" stroke-width="1.5"/><path d="M293 729Q451.8 838.7 617.5 937.5" stroke-width="1.2"/><path d="M617.5 937.5Q455.6 832.6 293 729" stroke-width="1.6"/><path d="M386 806Q486.9 897.8 617.5 937.5" stroke-width="2.2"/><path d="M617.5 937.5Q516.6 845.7 386 806" stroke-width="2.1"/><path d="M617.5 937.5Q505 866 386 806" stroke-width="7"/><path d="M617.5 937.5Q505.1 865.8 386 806" stroke-width="2"/><path d="M386 806Q500.5 873.9 617.5 937.5" stroke-width="3.7"/><path d="M237 824Q418.7 909.5 617.5 937.5" stroke-width="1.5"/><path d="M617.5 937.5Q435.8 852 237 824" stroke-width="2.4"/><path d="M617.5 937.5Q430.1 871.1 237 824" stroke-width="1.2"/><path d="M237 824Q425.5 886.6 617.5 937.5" stroke-width="1.8"/><path d="M237 824Q424.9 888.5 617.5 937.5" stroke-width="1.2"/><path d="M101.4 858Q354.9 927.4 617.5 937.5" stroke-width="6.6"/><path d="M617.5 937.5Q364 868.1 101.4 858" stroke-width="4.2"/><path d="M617.5 937.5Q359.9 894.9 101.4 858" stroke-width="1.6"/><path d="M617.5 937.5Q359.7 896.3 101.4 858" stroke-width="3.5"/><path d="M617.5 937.5Q360.3 891.9 101.4 858" stroke-width="9.9"/><path d="M505.5 873Q549.5 926 617.5 937.5" stroke-width="1.3"/><path d="M617.5 937.5Q573.5 884.5 505.5 873" stroke-width="7.9"/><path d="M380.4 929.2Q498.1 957.3 617.5 937.5" stroke-width="3.1"/><path d="M617.5 937.5Q499.8 909.4 380.4 929.2" stroke-width="3.7"/><path d="M209.3 942Q413.7 963.7 617.5 937.5" stroke-width="8.2"/><path d="M617.5 937.5Q413.1 915.8 209.3 942" stroke-width="2.7"/><path d="M330.1 1023.7Q481.8 1007.4 617.5 937.5" stroke-width="3.8"/><path d="M617.5 937.5Q465.8 953.8 330.1 1023.7" stroke-width="5.9"/><path d="M330.1 1023.7Q476.4 989.3 617.5 937.5" stroke-width="10.9"/><path d="M617.5 937.5Q473.4 979.4 330.1 1023.7" stroke-width="2.4"/><path d="M481.5 1071Q529.4 1050.1 526 998" stroke-width="8.1"/><path d="M526 998Q478.1 1018.9 481.5 1071" stroke-width="6.2"/><path d="M526 998Q493.5 1028.3 481.5 1071" stroke-width="5.2"/><path d="M526 998Q496.1 1029.8 481.5 1071" stroke-width="2.8"/><path d="M526 998Q493.2 1028.1 481.5 1071" stroke-width="2.4"/><path d="M369.5 1127Q463 1081 526 998" stroke-width="1.2"/><path d="M526 998Q432.5 1044 369.5 1127" stroke-width="1.4"/><path d="M245 1124Q396.1 1084.7 526 998" stroke-width="1.3"/><path d="M526 998Q374.9 1037.3 245 1124" stroke-width="6.7"/><path d="M526 998Q380.5 1049.8 245 1124" stroke-width="1.9"/><path d="M178 1050Q356.4 1053.7 526 998" stroke-width="1.5"/><path d="M526 998Q347.6 994.3 178 1050" stroke-width="1.3"/><path d="M178 1050Q353.2 1032 526 998" stroke-width="8.3"/><path d="M526 998Q351.2 1018.9 178 1050" stroke-width="8.8"/><path d="M526 998Q351.2 1018.6 178 1050" stroke-width="5.7"/><path d="M76.8 1016Q302.6 1037 526 998" stroke-width="2"/><path d="M526 998Q300.2 977 76.8 1016" stroke-width="1.8"/><path d="M76.8 1016Q301.8 1016.8 526 998" stroke-width="2.1"/><path d="M76.8 1016Q301.7 1013.4 526 998" stroke-width="3.3"/><path d="M76.8 1016Q301.8 1017.3 526 998" stroke-width="1.4"/><path d="M16 920.5Q266.5 988.9 526 998" stroke-width="3.2"/><path d="M526 998Q275.5 929.6 16 920.5" stroke-width="1.9"/><path d="M16 920.5Q269.2 971.2 526 998" stroke-width="10.5"/><path d="M526 998Q271.1 958.8 16 920.5" stroke-width="10.7"/><path d="M526 998Q272 952.9 16 920.5" stroke-width="4.2"/><path d="M36.3 781.4Q269.8 915.3 526 998" stroke-width="1.8"/><path d="M526 998Q292.5 864.1 36.3 781.4" stroke-width="10.5"/><path d="M36.3 781.4Q277.4 898.2 526 998" stroke-width="2.2"/><path d="M36.3 781.4Q277.3 898.5 526 998" stroke-width="2.5"/><path d="M132.5 723.5Q314.4 882.1 526 998" stroke-width="1.2"/><path d="M526 998Q344.1 839.4 132.5 723.5" stroke-width="2.7"/><path d="M132.5 723.5Q327.8 862.8 526 998" stroke-width="3.5"/><path d="M293 729Q388.3 881.8 526 998" stroke-width="3.7"/><path d="M526 998Q430.7 845.2 293 729" stroke-width="1.6"/><path d="M526 998Q415.5 858.3 293 729" stroke-width="3.7"/><path d="M526 998Q411.1 862.2 293 729" stroke-width="1.2"/><path d="M386 806Q435 917.3 526 998" stroke-width="1.9"/><path d="M526 998Q477 886.7 386 806" stroke-width="1.3"/><path d="M386 806Q455.3 902.5 526 998" stroke-width="2.8"/><path d="M237 824Q369.1 931.6 526 998" stroke-width="1.2"/><path d="M526 998Q393.9 890.4 237 824" stroke-width="1.2"/><path d="M101.4 858Q304.3 956.5 526 998" stroke-width="2.1"/><path d="M526 998Q323.1 899.5 101.4 858" stroke-width="1.7"/><path d="M526 998Q317.3 917.1 101.4 858" stroke-width="4.6"/><path d="M101.4 858Q310.7 937.1 526 998" stroke-width="4"/><path d="M526 998Q313.8 927.7 101.4 858" stroke-width="6.8"/><path d="M505.5 873Q486.1 940.4 526 998" stroke-width="5.5"/><path d="M526 998Q545.4 930.6 505.5 873" stroke-width="6.3"/><path d="M505.5 873Q509.1 936.6 526 998" stroke-width="8.9"/><path d="M505.5 873Q508.5 936.7 526 998" stroke-width="2.7"/><path d="M526 998Q522.6 934.4 505.5 873" stroke-width="2.3"/><path d="M380.4 929.2Q440.4 990.7 526 998" stroke-width="10.9"/><path d="M526 998Q466 936.5 380.4 929.2" stroke-width="1.4"/><path d="M526 998Q455.8 958 380.4 929.2" stroke-width="6.4"/><path d="M380.4 929.2Q452.8 964.3 526 998" stroke-width="5.3"/><path d="M526 998Q459.1 951.1 380.4 929.2" stroke-width="1.2"/><path d="M209.3 942Q362.8 997.6 526 998" stroke-width="8.2"/><path d="M526 998Q372.5 942.4 209.3 942" stroke-width="9.2"/><path d="M526 998Q368.7 964.1 209.3 942" stroke-width="5.1"/><path d="M526 998Q369.7 958.6 209.3 942" stroke-width="6.6"/><path d="M330.1 1023.7Q431.2 1034.6 526 998" stroke-width="7.8"/><path d="M526 998Q424.9 987.1 330.1 1023.7" stroke-width="1.4"/><path d="M369.5 1127Q437.1 1122.3 481.5 1071" stroke-width="3.9"/><path d="M481.5 1071Q413.9 1075.7 369.5 1127" stroke-width="3.7"/><path d="M481.5 1071Q425.1 1098.2 369.5 1127" stroke-width="8.2"/><path d="M245 1124Q368.9 1122.9 481.5 1071" stroke-width="7.7"/><path d="M481.5 1071Q357.6 1072.1 245 1124" stroke-width="8"/><path d="M245 1124Q363.8 1100 481.5 1071" stroke-width="4.6"/><path d="M178 1050Q327.7 1090.4 481.5 1071" stroke-width="9.2"/><path d="M481.5 1071Q331.8 1030.6 178 1050" stroke-width="5.9"/><path d="M481.5 1071Q330.7 1046.2 178 1050" stroke-width="6"/><path d="M481.5 1071Q330 1056.5 178 1050" stroke-width="1.7"/><path d="M178 1050Q328.7 1075.1 481.5 1071" stroke-width="1.2"/><path d="M76.8 1016Q275.1 1073.2 481.5 1071" stroke-width="1.4"/><path d="M481.5 1071Q283.2 1013.8 76.8 1016" stroke-width="2.5"/><path d="M481.5 1071Q279.2 1042.8 76.8 1016" stroke-width="1.3"/><path d="M481.5 1071Q280.8 1031.4 76.8 1016" stroke-width="8.2"/><path d="M76.8 1016Q279 1044.5 481.5 1071" stroke-width="4.3"/><path d="M16 920.5Q240.8 1020.5 481.5 1071" stroke-width="5.1"/><path d="M481.5 1071Q256.7 971 16 920.5" stroke-width="5.1"/><path d="M481.5 1071Q251.3 987.9 16 920.5" stroke-width="5.8"/><path d="M36.3 781.4Q245.8 946.3 481.5 1071" stroke-width="3.6"/><path d="M481.5 1071Q272 906.1 36.3 781.4" stroke-width="1.2"/><path d="M132.5 723.5Q285.8 918.5 481.5 1071" stroke-width="7.6"/><path d="M481.5 1071Q328.2 876 132.5 723.5" stroke-width="6.8"/><path d="M481.5 1071Q316.4 887.8 132.5 723.5" stroke-width="3.7"/><path d="M481.5 1071Q311.9 892.4 132.5 723.5" stroke-width="4.1"/><path d="M481.5 1071Q309.3 895 132.5 723.5" stroke-width="5.5"/><path d="M293 729Q364.5 912.6 481.5 1071" stroke-width="1.2"/><path d="M481.5 1071Q410 887.4 293 729" stroke-width="6.6"/><path d="M481.5 1071Q396 895.2 293 729" stroke-width="1.8"/><path d="M386 806Q411.2 946.6 481.5 1071" stroke-width="1.3"/><path d="M481.5 1071Q456.3 930.4 386 806" stroke-width="1.9"/><path d="M237 824Q337.9 968.6 481.5 1071" stroke-width="6.5"/><path d="M481.5 1071Q380.6 926.4 237 824" stroke-width="1.6"/><path d="M481.5 1071Q366 940.8 237 824" stroke-width="6.7"/><path d="M481.5 1071Q364.9 941.9 237 824" stroke-width="10.7"/><path d="M237 824Q352.8 953.8 481.5 1071" stroke-width="3.6"/><path d="M101.4 858Q278.7 987.2 481.5 1071" stroke-width="2.7"/><path d="M481.5 1071Q304.2 941.8 101.4 858" stroke-width="3.5"/><path d="M101.4 858Q291.3 964.7 481.5 1071" stroke-width="5.9"/><path d="M505.5 873Q467.7 968.9 481.5 1071" stroke-width="7.1"/><path d="M481.5 1071Q519.3 975.1 505.5 873" stroke-width="5"/><path d="M505.5 873Q480.8 970.5 481.5 1071" stroke-width="5.3"/><path d="M380.4 929.2Q406.5 1017.5 481.5 1071" stroke-width="1.3"/><path d="M481.5 1071Q455.4 982.7 380.4 929.2" stroke-width="1.4"/><path d="M380.4 929.2Q430.5 1000.4 481.5 1071" stroke-width="1.8"/><path d="M481.5 1071Q431.3 999.9 380.4 929.2" stroke-width="6.7"/><path d="M380.4 929.2Q423 1005.8 481.5 1071" stroke-width="2.1"/><path d="M209.3 942Q334.3 1030 481.5 1071" stroke-width="4.4"/><path d="M481.5 1071Q356.5 983 209.3 942" stroke-width="1.2"/><path d="M481.5 1071Q350.7 995.4 209.3 942" stroke-width="1.2"/><path d="M330.1 1023.7Q398.6 1070.3 481.5 1071" stroke-width="1.9"/><path d="M481.5 1071Q413 1024.4 330.1 1023.7" stroke-width="5.7"/><path d="M245 1124Q306.6 1153.5 369.5 1127" stroke-width="6"/><path d="M369.5 1127Q307.9 1097.5 245 1124" stroke-width="5.8"/><path d="M245 1124Q306.9 1139.4 369.5 1127" stroke-width="2"/><path d="M245 1124Q307.2 1125.9 369.5 1127" stroke-width="3.9"/><path d="M178 1050Q264.8 1110.8 369.5 1127" stroke-width="3.4"/><path d="M369.5 1127Q282.7 1066.2 178 1050" stroke-width="3.4"/><path d="M76.8 1016Q212.5 1099.6 369.5 1127" stroke-width="1.3"/><path d="M369.5 1127Q233.8 1043.4 76.8 1016" stroke-width="9.2"/><path d="M369.5 1127Q227.7 1059.6 76.8 1016" stroke-width="1.6"/><path d="M369.5 1127Q227.6 1059.7 76.8 1016" stroke-width="10.8"/><path d="M76.8 1016Q222.7 1072.6 369.5 1127" stroke-width="10"/><path d="M16 920.5Q177.6 1049.7 369.5 1127" stroke-width="1.2"/><path d="M369.5 1127Q207.9 997.8 16 920.5" stroke-width="3.3"/><path d="M16 920.5Q185.6 1036 369.5 1127" stroke-width="7.9"/><path d="M16 920.5Q186.4 1034.6 369.5 1127" stroke-width="10.6"/><path d="M369.5 1127Q196.6 1017.2 16 920.5" stroke-width="3.2"/><path d="M36.3 781.4Q184.2 972.2 369.5 1127" stroke-width="1.9"/><path d="M369.5 1127Q221.6 936.2 36.3 781.4" stroke-width="1.6"/><path d="M369.5 1127Q207.8 949.5 36.3 781.4" stroke-width="10.1"/><path d="M132.5 723.5Q225.1 940.4 369.5 1127" stroke-width="1.6"/><path d="M369.5 1127Q276.9 910.1 132.5 723.5" stroke-width="4.6"/><path d="M132.5 723.5Q244.7 929 369.5 1127" stroke-width="1.4"/><path d="M369.5 1127Q254.2 923.3 132.5 723.5" stroke-width="3.9"/><path d="M369.5 1127Q259.6 920.2 132.5 723.5" stroke-width="10.3"/><path d="M293 729Q305.7 932.9 369.5 1127" stroke-width="1.4"/><path d="M369.5 1127Q356.8 923.1 293 729" stroke-width="7.9"/><path d="M293 729Q319.9 930.2 369.5 1127" stroke-width="3.8"/><path d="M386 806Q347.8 965 369.5 1127" stroke-width="9.1"/><path d="M369.5 1127Q407.7 968 386 806" stroke-width="6.1"/><path d="M386 806Q374.2 966.3 369.5 1127" stroke-width="1.7"/><path d="M386 806Q376.7 966.4 369.5 1127" stroke-width="9.3"/><path d="M386 806Q371.6 966.2 369.5 1127" stroke-width="3.6"/><path d="M237 824Q281.3 985.1 369.5 1127" stroke-width="1.2"/><path d="M369.5 1127Q325.2 965.9 237 824" stroke-width="1.2"/><path d="M101.4 858Q215.6 1012.3 369.5 1127" stroke-width="3.6"/><path d="M369.5 1127Q255.3 972.7 101.4 858" stroke-width="3.2"/><path d="M369.5 1127Q236.6 991.4 101.4 858" stroke-width="2.1"/><path d="M369.5 1127Q244.7 983.3 101.4 858" stroke-width="1.4"/><path d="M505.5 873Q412.8 986.8 369.5 1127" stroke-width="2.4"/><path d="M369.5 1127Q462.2 1013.2 505.5 873" stroke-width="2.2"/><path d="M505.5 873Q426 993.8 369.5 1127" stroke-width="8.3"/><path d="M369.5 1127Q446.1 1004.6 505.5 873" stroke-width="1.2"/><path d="M380.4 929.2Q345 1026.4 369.5 1127" stroke-width="6.8"/><path d="M369.5 1127Q404.9 1029.8 380.4 929.2" stroke-width="8.2"/><path d="M380.4 929.2Q366.1 1027.6 369.5 1127" stroke-width="1.3"/><path d="M369.5 1127Q380.2 1028.4 380.4 929.2" stroke-width="9.8"/><path d="M380.4 929.2Q374.9 1028.1 369.5 1127" stroke-width="6.3"/><path d="M209.3 942Q269.7 1051.5 369.5 1127" stroke-width="9.3"/><path d="M369.5 1127Q309.1 1017.5 209.3 942" stroke-width="2"/><path d="M209.3 942Q289.1 1034.8 369.5 1127" stroke-width="2.6"/><path d="M330.1 1023.7Q323.6 1085.3 369.5 1127" stroke-width="2.7"/><path d="M369.5 1127Q376 1065.4 330.1 1023.7" stroke-width="11.2"/><path d="M330.1 1023.7Q338.7 1079.6 369.5 1127" stroke-width="4.7"/><path d="M369.5 1127Q358.3 1072.1 330.1 1023.7" stroke-width="2.5"/><path d="M178 1050Q190.7 1105.8 245 1124" stroke-width="3"/><path d="M245 1124Q232.3 1068.2 178 1050" stroke-width="2"/><path d="M178 1050Q208 1090.1 245 1124" stroke-width="1.2"/><path d="M245 1124Q220.8 1078.6 178 1050" stroke-width="1.3"/><path d="M76.8 1016Q145.8 1093.6 245 1124" stroke-width="8.2"/><path d="M245 1124Q176 1046.4 76.8 1016" stroke-width="2"/><path d="M245 1124Q163.2 1066.4 76.8 1016" stroke-width="10"/><path d="M76.8 1016Q159.3 1072.5 245 1124" stroke-width="1.8"/><path d="M16 920.5Q114.6 1040.2 245 1124" stroke-width="1.9"/><path d="M245 1124Q146.4 1004.3 16 920.5" stroke-width="3.8"/><path d="M36.3 781.4Q118.4 966.2 245 1124" stroke-width="1.6"/><path d="M245 1124Q162.9 939.2 36.3 781.4" stroke-width="2.6"/><path d="M36.3 781.4Q138.2 954.2 245 1124" stroke-width="10.3"/><path d="M132.5 723.5Q163.7 930.8 245 1124" stroke-width="9"/><path d="M245 1124Q213.8 916.7 132.5 723.5" stroke-width="7.8"/><path d="M245 1124Q196.2 921.7 132.5 723.5" stroke-width="5.2"/><path d="M293 729Q245.2 923.6 245 1124" stroke-width="9.5"/><path d="M245 1124Q292.8 929.4 293 729" stroke-width="10"/><path d="M386 806Q289.9 953.7 245 1124" stroke-width="4.2"/><path d="M245 1124Q341.1 976.3 386 806" stroke-width="6.4"/><path d="M386 806Q303.8 959.8 245 1124" stroke-width="1.2"/><path d="M245 1124Q327 970.1 386 806" stroke-width="6.6"/><path d="M237 824Q215 974.7 245 1124" stroke-width="3.2"/><path d="M245 1124Q267 973.3 237 824" stroke-width="6.9"/><path d="M245 1124Q241.6 974 237 824" stroke-width="5.4"/><path d="M101.4 858Q152.1 1002.4 245 1124" stroke-width="2"/><path d="M245 1124Q194.3 979.6 101.4 858" stroke-width="1.2"/><path d="M505.5 873Q358.6 981.2 245 1124" stroke-width="9.8"/><path d="M245 1124Q391.9 1015.8 505.5 873" stroke-width="1.4"/><path d="M380.4 929.2Q293 1012.9 245 1124" stroke-width="3.4"/><path d="M245 1124Q332.4 1040.3 380.4 929.2" stroke-width="2.4"/><path d="M209.3 942Q197.7 1038.8 245 1124" stroke-width="2.1"/><path d="M245 1124Q256.6 1027.2 209.3 942" stroke-width="6.7"/><path d="M245 1124Q237.6 1030.9 209.3 942" stroke-width="10.7"/><path d="M209.3 942Q218.7 1034.7 245 1124" stroke-width="1.9"/><path d="M209.3 942Q222.9 1033.8 245 1124" stroke-width="5.5"/><path d="M330.1 1023.7Q266.2 1055.7 245 1124" stroke-width="2.1"/><path d="M245 1124Q308.9 1092 330.1 1023.7" stroke-width="4.3"/><path d="M330.1 1023.7Q286.6 1073.1 245 1124" stroke-width="2.8"/><path d="M330.1 1023.7Q280.4 1067.8 245 1124" stroke-width="1.5"/><path d="M76.8 1016Q117.8 1061.4 178 1050" stroke-width="1.5"/><path d="M178 1050Q137 1004.6 76.8 1016" stroke-width="1.6"/><path d="M178 1050Q130.9 1022.5 76.8 1016" stroke-width="9.4"/><path d="M76.8 1016Q127 1034.1 178 1050" stroke-width="3.7"/><path d="M76.8 1016Q123.9 1043.4 178 1050" stroke-width="1.7"/><path d="M16 920.5Q78.3 1008.7 178 1050" stroke-width="9.4"/><path d="M178 1050Q115.7 961.8 16 920.5" stroke-width="11.1"/><path d="M178 1050Q106.2 973.8 16 920.5" stroke-width="3.2"/><path d="M16 920.5Q91.7 991.9 178 1050" stroke-width="1.4"/><path d="M16 920.5Q92.7 990.6 178 1050" stroke-width="1.6"/><path d="M36.3 781.4Q84.2 927.8 178 1050" stroke-width="1.3"/><path d="M178 1050Q130.1 903.6 36.3 781.4" stroke-width="2.4"/><path d="M36.3 781.4Q97.9 920.6 178 1050" stroke-width="1.3"/><path d="M132.5 723.5Q129.5 890.3 178 1050" stroke-width="1.8"/><path d="M178 1050Q181 883.2 132.5 723.5" stroke-width="1.9"/><path d="M132.5 723.5Q154.4 886.9 178 1050" stroke-width="4.4"/><path d="M293 729Q209.1 880.1 178 1050" stroke-width="9.1"/><path d="M178 1050Q261.9 898.9 293 729" stroke-width="6.8"/><path d="M293 729Q227.2 886.5 178 1050" stroke-width="2.9"/><path d="M293 729Q226 886.1 178 1050" stroke-width="2.9"/><path d="M386 806Q262.2 911.1 178 1050" stroke-width="3.9"/><path d="M178 1050Q301.8 944.9 386 806" stroke-width="2.6"/><path d="M386 806Q276.7 923.5 178 1050" stroke-width="2.3"/><path d="M237 824Q178.5 929.4 178 1050" stroke-width="1.2"/><path d="M178 1050Q236.5 944.6 237 824" stroke-width="2"/><path d="M237 824Q204.6 936.2 178 1050" stroke-width="10.6"/><path d="M178 1050Q216.9 939.5 237 824" stroke-width="1.4"/><path d="M237 824Q202.9 935.8 178 1050" stroke-width="3.7"/><path d="M101.4 858Q113.7 964.4 178 1050" stroke-width="5.2"/><path d="M178 1050Q165.7 943.6 101.4 858" stroke-width="8.6"/><path d="M178 1050Q146 951.5 101.4 858" stroke-width="1.7"/><path d="M178 1050Q146.2 951.4 101.4 858" stroke-width="1.9"/><path d="M505.5 873Q328.4 936.9 178 1050" stroke-width="1.8"/><path d="M178 1050Q355.1 986.1 505.5 873" stroke-width="2.8"/><path d="M178 1050Q342.2 962.3 505.5 873" stroke-width="3.2"/><path d="M178 1050Q343.6 964.9 505.5 873" stroke-width="10.3"/><path d="M380.4 929.2Q266.9 969 178 1050" stroke-width="8.4"/><path d="M178 1050Q291.5 1010.2 380.4 929.2" stroke-width="8.8"/><path d="M209.3 942Q166.8 988.2 178 1050" stroke-width="1.2"/><path d="M178 1050Q220.5 1003.8 209.3 942" stroke-width="1.2"/><path d="M209.3 942Q188.5 994.5 178 1050" stroke-width="6.2"/><path d="M209.3 942Q193.2 995.9 178 1050" stroke-width="9.2"/><path d="M330.1 1023.7Q249.3 1009.3 178 1050" stroke-width="3.4"/><path d="M178 1050Q258.8 1064.4 330.1 1023.7" stroke-width="4.6"/><path d="M178 1050Q256.2 1049.5 330.1 1023.7" stroke-width="1.2"/><path d="M330.1 1023.7Q253.4 1032.8 178 1050" stroke-width="2.7"/><path d="M16 920.5Q21.1 984.4 76.8 1016" stroke-width="9.8"/><path d="M76.8 1016Q71.7 952.1 16 920.5" stroke-width="8"/><path d="M16 920.5Q36 974.9 76.8 1016" stroke-width="8.5"/><path d="M76.8 1016Q57.1 961.4 16 920.5" stroke-width="10.7"/><path d="M16 920.5Q41.7 971.2 76.8 1016" stroke-width="1.8"/><path d="M36.3 781.4Q27 903.8 76.8 1016" stroke-width="1.3"/><path d="M76.8 1016Q86.1 893.6 36.3 781.4" stroke-width="1.4"/><path d="M36.3 781.4Q45.5 900.6 76.8 1016" stroke-width="3.9"/><path d="M36.3 781.4Q42.6 901.1 76.8 1016" stroke-width="5.9"/><path d="M36.3 781.4Q52.1 899.5 76.8 1016" stroke-width="10.1"/><path d="M132.5 723.5Q77.1 864.5 76.8 1016" stroke-width="6.4"/><path d="M76.8 1016Q132.2 875 132.5 723.5" stroke-width="5.4"/><path d="M132.5 723.5Q93 867.5 76.8 1016" stroke-width="7"/><path d="M76.8 1016Q115.1 871.7 132.5 723.5" stroke-width="3.3"/><path d="M293 729Q160.9 854.4 76.8 1016" stroke-width="4.2"/><path d="M76.8 1016Q208.9 890.6 293 729" stroke-width="1.2"/><path d="M293 729Q173.1 863.6 76.8 1016" stroke-width="7.3"/><path d="M293 729Q180.6 869.3 76.8 1016" stroke-width="1.7"/><path d="M76.8 1016Q192.7 878.4 293 729" stroke-width="9.7"/><path d="M386 806Q214.5 886.2 76.8 1016" stroke-width="5.4"/><path d="M76.8 1016Q248.3 935.8 386 806" stroke-width="2.1"/><path d="M76.8 1016Q232.1 912 386 806" stroke-width="1.4"/><path d="M386 806Q230.9 910.2 76.8 1016" stroke-width="1.8"/><path d="M76.8 1016Q238.2 920.9 386 806" stroke-width="5.2"/><path d="M237 824Q135.4 902.1 76.8 1016" stroke-width="6.1"/><path d="M76.8 1016Q178.4 937.9 237 824" stroke-width="1.3"/><path d="M237 824Q153 916.7 76.8 1016" stroke-width="1.2"/><path d="M76.8 1016Q166.1 927.6 237 824" stroke-width="4"/><path d="M101.4 858Q65.4 933.3 76.8 1016" stroke-width="4.6"/><path d="M76.8 1016Q112.8 940.7 101.4 858" stroke-width="2.7"/><path d="M505.5 873Q282.9 919.8 76.8 1016" stroke-width="1.7"/><path d="M76.8 1016Q299.4 969.2 505.5 873" stroke-width="4.8"/><path d="M76.8 1016Q293.5 951.5 505.5 873" stroke-width="1.2"/><path d="M380.4 929.2Q220.9 945.7 76.8 1016" stroke-width="2.1"/><path d="M76.8 1016Q236.3 999.5 380.4 929.2" stroke-width="3.3"/><path d="M380.4 929.2Q226.7 965.9 76.8 1016" stroke-width="10.4"/><path d="M380.4 929.2Q228 970.5 76.8 1016" stroke-width="5.4"/><path d="M209.3 942Q129.4 954.6 76.8 1016" stroke-width="9"/><path d="M76.8 1016Q156.7 1003.4 209.3 942" stroke-width="3.5"/><path d="M209.3 942Q137.4 969 76.8 1016" stroke-width="1.8"/><path d="M209.3 942Q138.8 971.4 76.8 1016" stroke-width="1.8"/><path d="M330.1 1023.7Q204.2 993.9 76.8 1016" stroke-width="10.4"/><path d="M76.8 1016Q202.7 1045.8 330.1 1023.7" stroke-width="6.2"/><path d="M76.8 1016Q203.3 1025.8 330.1 1023.7" stroke-width="2.1"/><path d="M36.3 781.4Q2.4 847.5 16 920.5" stroke-width="1.2"/><path d="M16 920.5Q49.9 854.4 36.3 781.4" stroke-width="3.7"/><path d="M132.5 723.5Q50.1 807.7 16 920.5" stroke-width="5.7"/><path d="M16 920.5Q98.4 836.3 132.5 723.5" stroke-width="3"/><path d="M16 920.5Q84.9 828.3 132.5 723.5" stroke-width="1.9"/><path d="M16 920.5Q77.8 824.1 132.5 723.5" stroke-width="5.7"/><path d="M293 729Q140.9 805 16 920.5" stroke-width="9.8"/><path d="M16 920.5Q168.1 844.5 293 729" stroke-width="1.7"/><path d="M386 806Q193.3 838.4 16 920.5" stroke-width="1.2"/><path d="M16 920.5Q208.7 888.1 386 806" stroke-width="2.3"/><path d="M386 806Q198.5 855.2 16 920.5" stroke-width="3"/><path d="M237 824Q116.9 850.3 16 920.5" stroke-width="5.9"/><path d="M16 920.5Q136.1 894.2 237 824" stroke-width="1.6"/><path d="M101.4 858Q41 865 16 920.5" stroke-width="7.6"/><path d="M16 920.5Q76.4 913.5 101.4 858" stroke-width="6.7"/><path d="M101.4 858Q57.7 887.9 16 920.5" stroke-width="3.7"/><path d="M101.4 858Q54.7 883.7 16 920.5" stroke-width="1.6"/><path d="M101.4 858Q55.5 884.9 16 920.5" stroke-width="10.6"/><path d="M505.5 873Q258.4 872.9 16 920.5" stroke-width="2.2"/><path d="M16 920.5Q263.1 920.6 505.5 873" stroke-width="7.9"/><path d="M380.4 929.2Q198.9 896.9 16 920.5" stroke-width="1.7"/><path d="M16 920.5Q197.5 952.8 380.4 929.2" stroke-width="1.7"/><path d="M16 920.5Q198.1 929 380.4 929.2" stroke-width="7"/><path d="M16 920.5Q198.1 930.7 380.4 929.2" stroke-width="2.1"/><path d="M209.3 942Q116 901.4 16 920.5" stroke-width="10.3"/><path d="M16 920.5Q109.3 961.1 209.3 942" stroke-width="3.7"/><path d="M209.3 942Q113.6 923.1 16 920.5" stroke-width="1.6"/><path d="M209.3 942Q114.1 918 16 920.5" stroke-width="1.7"/><path d="M16 920.5Q111.8 939.2 209.3 942" stroke-width="2.9"/><path d="M330.1 1023.7Q182.4 943.6 16 920.5" stroke-width="5.6"/><path d="M16 920.5Q163.7 1000.6 330.1 1023.7" stroke-width="10.2"/><path d="M16 920.5Q171.9 975.5 330.1 1023.7" stroke-width="1.4"/><path d="M330.1 1023.7Q174.8 966.9 16 920.5" stroke-width="2.7"/><path d="M16 920.5Q169.9 981.7 330.1 1023.7" stroke-width="1.7"/><path d="M132.5 723.5Q72 731.9 36.3 781.4" stroke-width="10.7"/><path d="M36.3 781.4Q96.8 773 132.5 723.5" stroke-width="1.4"/><path d="M293 729Q158.6 725.8 36.3 781.4" stroke-width="1.2"/><path d="M36.3 781.4Q170.7 784.6 293 729" stroke-width="1.2"/><path d="M36.3 781.4Q167.6 769.6 293 729" stroke-width="2.7"/><path d="M36.3 781.4Q166.7 765.2 293 729" stroke-width="9.3"/><path d="M293 729Q164.4 753.9 36.3 781.4" stroke-width="9"/><path d="M386 806Q213.3 763.8 36.3 781.4" stroke-width="6.6"/><path d="M36.3 781.4Q209 823.6 386 806" stroke-width="11.2"/><path d="M386 806Q211.4 790.3 36.3 781.4" stroke-width="9.9"/><path d="M386 806Q211.2 792.3 36.3 781.4" stroke-width="2.3"/><path d="M36.3 781.4Q210.4 805 386 806" stroke-width="1.5"/><path d="M237 824Q142.9 773.4 36.3 781.4" stroke-width="10"/><path d="M36.3 781.4Q130.4 832 237 824" stroke-width="6.8"/><path d="M36.3 781.4Q133.6 817.2 237 824" stroke-width="1.2"/><path d="M237 824Q139 791.8 36.3 781.4" stroke-width="5.6"/><path d="M36.3 781.4Q133.9 815.5 237 824" stroke-width="2.6"/><path d="M101.4 858Q88.7 802.9 36.3 781.4" stroke-width="2.6"/><path d="M36.3 781.4Q49 836.5 101.4 858" stroke-width="2.3"/><path d="M101.4 858Q77.2 812.6 36.3 781.4" stroke-width="1.5"/><path d="M505.5 873Q276.3 799.7 36.3 781.4" stroke-width="1.2"/><path d="M36.3 781.4Q265.5 854.7 505.5 873" stroke-width="2"/><path d="M505.5 873Q271.1 826 36.3 781.4" stroke-width="2.4"/><path d="M36.3 781.4Q269.8 832.9 505.5 873" stroke-width="10.3"/><path d="M380.4 929.2Q219.4 829.6 36.3 781.4" stroke-width="1.4"/><path d="M36.3 781.4Q197.3 881 380.4 929.2" stroke-width="10.5"/><path d="M380.4 929.2Q212.7 845.2 36.3 781.4" stroke-width="1.6"/><path d="M380.4 929.2Q210 851.5 36.3 781.4" stroke-width="2.5"/><path d="M209.3 942Q140.5 842.6 36.3 781.4" stroke-width="7.9"/><path d="M36.3 781.4Q105.1 880.8 209.3 942" stroke-width="8"/><path d="M209.3 942Q131.2 852.6 36.3 781.4" stroke-width="3.1"/><path d="M330.1 1023.7Q202.3 879.4 36.3 781.4" stroke-width="1.2"/><path d="M36.3 781.4Q164.1 925.7 330.1 1023.7" stroke-width="3.4"/><path d="M36.3 781.4Q180 906.5 330.1 1023.7" stroke-width="2.6"/><path d="M330.1 1023.7Q191 893.1 36.3 781.4" stroke-width="9.7"/><path d="M36.3 781.4Q174.2 913.5 330.1 1023.7" stroke-width="1.6"/><path d="M293 729Q213.8 696.3 132.5 723.5" stroke-width="2.5"/><path d="M132.5 723.5Q211.7 756.2 293 729" stroke-width="9.2"/><path d="M293 729Q213.2 712.8 132.5 723.5" stroke-width="1.2"/><path d="M132.5 723.5Q212.3 738.2 293 729" stroke-width="2.9"/><path d="M293 729Q213 718.5 132.5 723.5" stroke-width="7.8"/><path d="M386 806Q268.5 736.2 132.5 723.5" stroke-width="7.1"/><path d="M132.5 723.5Q250 793.3 386 806" stroke-width="1.2"/><path d="M386 806Q262.6 754.5 132.5 723.5" stroke-width="1.2"/><path d="M386 806Q263.6 751.4 132.5 723.5" stroke-width="1.2"/><path d="M132.5 723.5Q257.4 770.3 386 806" stroke-width="9.7"/><path d="M237 824Q201.4 756.5 132.5 723.5" stroke-width="1.9"/><path d="M132.5 723.5Q168.1 791 237 824" stroke-width="6.8"/><path d="M101.4 858Q140.3 796.2 132.5 723.5" stroke-width="9.3"/><path d="M132.5 723.5Q93.6 785.3 101.4 858" stroke-width="2.3"/><path d="M505.5 873Q328.7 774.1 132.5 723.5" stroke-width="1.9"/><path d="M132.5 723.5Q309.3 822.4 505.5 873" stroke-width="10.4"/><path d="M132.5 723.5Q318.6 799.4 505.5 873" stroke-width="5"/><path d="M380.4 929.2Q271.8 807.9 132.5 723.5" stroke-width="1.9"/><path d="M132.5 723.5Q241.1 844.8 380.4 929.2" stroke-width="6.3"/><path d="M209.3 942Q197.3 823.5 132.5 723.5" stroke-width="2.2"/><path d="M132.5 723.5Q144.5 842 209.3 942" stroke-width="2"/><path d="M132.5 723.5Q166.1 834.4 209.3 942" stroke-width="1.2"/><path d="M132.5 723.5Q161 836.2 209.3 942" stroke-width="6.9"/><path d="M330.1 1023.7Q253 859.3 132.5 723.5" stroke-width="9.6"/><path d="M132.5 723.5Q209.6 887.9 330.1 1023.7" stroke-width="5.2"/><path d="M330.1 1023.7Q234.1 871.8 132.5 723.5" stroke-width="10.1"/><path d="M386 806Q354.8 749 293 729" stroke-width="1.2"/><path d="M293 729Q324.2 786 386 806" stroke-width="1.7"/><path d="M237 824Q287.4 789.7 293 729" stroke-width="3.5"/><path d="M293 729Q242.6 763.3 237 824" stroke-width="10.4"/><path d="M293 729Q264.1 776 237 824" stroke-width="10.3"/><path d="M101.4 858Q211.7 815.1 293 729" stroke-width="2.7"/><path d="M293 729Q182.7 771.9 101.4 858" stroke-width="1.8"/><path d="M101.4 858Q202.9 801.9 293 729" stroke-width="3"/><path d="M505.5 873Q413.8 779.5 293 729" stroke-width="3.6"/><path d="M293 729Q384.7 822.5 505.5 873" stroke-width="9.8"/><path d="M293 729Q394.9 807.4 505.5 873" stroke-width="1.5"/><path d="M380.4 929.2Q360.5 818.7 293 729" stroke-width="7.6"/><path d="M293 729Q312.9 839.5 380.4 929.2" stroke-width="6.7"/><path d="M293 729Q333.7 830.4 380.4 929.2" stroke-width="8"/><path d="M209.3 942Q277.2 845.7 293 729" stroke-width="7.2"/><path d="M293 729Q225.1 825.3 209.3 942" stroke-width="4.9"/><path d="M293 729Q248 834.2 209.3 942" stroke-width="2.3"/><path d="M293 729Q241.8 831.8 209.3 942" stroke-width="2.2"/><path d="M330.1 1023.7Q337.3 873.1 293 729" stroke-width="2.5"/><path d="M293 729Q285.8 879.6 330.1 1023.7" stroke-width="7.3"/><path d="M293 729Q311.3 876.4 330.1 1023.7" stroke-width="1.3"/><path d="M237 824Q314.6 840.8 386 806" stroke-width="1.6"/><path d="M386 806Q308.4 789.2 237 824" stroke-width="6.9"/><path d="M386 806Q311.1 811.7 237 824" stroke-width="1.8"/><path d="M101.4 858Q248.4 857.6 386 806" stroke-width="1.2"/><path d="M386 806Q239 806.4 101.4 858" stroke-width="1.2"/><path d="M101.4 858Q245.2 840.4 386 806" stroke-width="4.3"/><path d="M505.5 873Q458.5 816.8 386 806" stroke-width="2.3"/><path d="M386 806Q433 862.2 505.5 873" stroke-width="10.8"/><path d="M505.5 873Q448.3 834.9 386 806" stroke-width="9"/><path d="M380.4 929.2Q413.2 869 386 806" stroke-width="11"/><path d="M386 806Q353.2 866.2 380.4 929.2" stroke-width="1.9"/><path d="M380.4 929.2Q393.9 868.1 386 806" stroke-width="1.3"/><path d="M380.4 929.2Q394.3 868.1 386 806" stroke-width="1.3"/><path d="M380.4 929.2Q388.8 867.9 386 806" stroke-width="3.7"/><path d="M209.3 942Q314.7 896.2 386 806" stroke-width="6.2"/><path d="M386 806Q280.6 851.8 209.3 942" stroke-width="3.2"/><path d="M386 806Q292.3 867.1 209.3 942" stroke-width="1.7"/><path d="M386 806Q296.6 872.6 209.3 942" stroke-width="2.9"/><path d="M330.1 1023.7Q387.1 922.3 386 806" stroke-width="5"/><path d="M386 806Q329 907.4 330.1 1023.7" stroke-width="5.7"/><path d="M330.1 1023.7Q364.7 916.5 386 806" stroke-width="6.8"/><path d="M386 806Q357.3 914.6 330.1 1023.7" stroke-width="8.4"/><path d="M330.1 1023.7Q358.4 914.9 386 806" stroke-width="5.6"/><path d="M101.4 858Q176 868.2 237 824" stroke-width="1.3"/><path d="M237 824Q162.4 813.8 101.4 858" stroke-width="8.3"/><path d="M101.4 858Q171 848.4 237 824" stroke-width="2.1"/><path d="M237 824Q167.8 835.5 101.4 858" stroke-width="4.4"/><path d="M505.5 873Q375.6 824.9 237 824" stroke-width="2.6"/><path d="M237 824Q366.9 872.1 505.5 873" stroke-width="6.6"/><path d="M380.4 929.2Q322.9 857.2 237 824" stroke-width="1.6"/><path d="M237 824Q294.5 896 380.4 929.2" stroke-width="1.8"/><path d="M209.3 942Q248.5 888.9 237 824" stroke-width="1.8"/><path d="M237 824Q197.8 877.1 209.3 942" stroke-width="1.4"/><path d="M209.3 942Q230.4 884.7 237 824" stroke-width="9"/><path d="M330.1 1023.7Q310.7 911.2 237 824" stroke-width="4.5"/><path d="M237 824Q256.4 936.5 330.1 1023.7" stroke-width="2.3"/><path d="M237 824Q281.4 924.9 330.1 1023.7" stroke-width="2.8"/><path d="M237 824Q279.6 925.7 330.1 1023.7" stroke-width="11"/><path d="M237 824Q280.1 925.4 330.1 1023.7" stroke-width="3.8"/><path d="M505.5 873Q304.5 837.5 101.4 858" stroke-width="1.7"/><path d="M101.4 858Q302.4 893.5 505.5 873" stroke-width="7.7"/><path d="M101.4 858Q303.2 871.2 505.5 873" stroke-width="5.5"/><path d="M505.5 873Q303.5 864.8 101.4 858" stroke-width="11"/><path d="M380.4 929.2Q246.8 870.3 101.4 858" stroke-width="1.3"/><path d="M101.4 858Q235 916.9 380.4 929.2" stroke-width="3.5"/><path d="M209.3 942Q171.3 879.5 101.4 858" stroke-width="7.9"/><path d="M101.4 858Q139.4 920.5 209.3 942" stroke-width="8.3"/><path d="M101.4 858Q150 906.9 209.3 942" stroke-width="9.6"/><path d="M330.1 1023.7Q232.2 918.2 101.4 858" stroke-width="1.2"/><path d="M101.4 858Q199.3 963.5 330.1 1023.7" stroke-width="2.1"/><path d="M330.1 1023.7Q223.3 930.4 101.4 858" stroke-width="1.3"/><path d="M330.1 1023.7Q220.7 934 101.4 858" stroke-width="1.6"/><path d="M380.4 929.2Q452.8 923 505.5 873" stroke-width="10.7"/><path d="M505.5 873Q433.1 879.2 380.4 929.2" stroke-width="4.6"/><path d="M209.3 942Q363.3 932.8 505.5 873" stroke-width="9.9"/><path d="M505.5 873Q351.5 882.2 209.3 942" stroke-width="2.6"/><path d="M505.5 873Q356.6 904.1 209.3 942" stroke-width="8.7"/><path d="M330.1 1023.7Q434.7 968.1 505.5 873" stroke-width="3.2"/><path d="M505.5 873Q400.9 928.6 330.1 1023.7" stroke-width="1.9"/><path d="M505.5 873Q413.3 943.2 330.1 1023.7" stroke-width="7.2"/><path d="M209.3 942Q296.6 959.5 380.4 929.2" stroke-width="10.1"/><path d="M380.4 929.2Q293.1 911.7 209.3 942" stroke-width="1.3"/><path d="M330.1 1023.7Q381.7 990.5 380.4 929.2" stroke-width="4.8"/><path d="M380.4 929.2Q328.8 962.4 330.1 1023.7" stroke-width="5"/><path d="M380.4 929.2Q351.8 974.6 330.1 1023.7" stroke-width="1.7"/><path d="M380.4 929.2Q343 969.9 330.1 1023.7" stroke-width="2.6"/><path d="M330.1 1023.7Q364.3 981.3 380.4 929.2" stroke-width="1.4"/><path d="M330.1 1023.7Q285.4 959.7 209.3 942" stroke-width="1.6"/><path d="M209.3 942Q254 1006 330.1 1023.7" stroke-width="1.8"/><path d="M209.3 942Q266.5 987.5 330.1 1023.7" stroke-width="4.8"/><path d="M330.1 1023.7Q273.2 977.7 209.3 942" stroke-width="5.4"/></g><path fill="#0072BD" fill-opacity="0.38" d="M276.9 630.4L284.6 626.7L285.1 632.7zM287.1 653.6L279.4 657.3L278.9 651.3zM325 658.5L333.4 657L332.3 662.9zM328.5 683.5L320.1 685L321.2 679.1zM374.1 681.1L382.6 680.3L381.1 686.1zM375.7 706.4L367.2 707.2L368.7 701.4zM409.8 720.3L418.4 720.7L416 726.2zM406.2 749.2L397.6 748.8L400 743.3zM409.8 740.6L401.3 740.2L403.7 734.7zM410.4 739.4L401.8 739L404.2 733.5zM417.5 779.5L425.8 781.7L422.4 786.6zM408 807L399.7 804.8L403.1 799.9zM411.5 788.1L419.8 790.3L416.3 795.2zM411.8 787.7L420.1 789.8L416.6 794.7zM373.2 812.5L380.8 816.4L376.3 820.4zM360.8 834.5L353.2 830.6L357.7 826.6zM353.5 849.6L360.4 854.7L355.3 857.9zM336 870.4L329.1 865.3L334.2 862.1zM341.5 866.9L334.6 861.8L339.6 858.5zM301.7 879.4L307.1 886L301.4 887.9zM275.8 896.6L270.4 890L276.1 888.1zM285.7 893.2L280.3 886.6L286 884.7zM284.9 893.5L279.5 886.9L285.2 885zM289.9 891.8L284.5 885.2L290.2 883.3zM240.1 881.4L243.8 889.2L237.8 889.6zM212.9 891.6L209.2 883.8L215.2 883.4zM226.2 890.5L222.6 882.8L228.6 882.3zM227 882.5L230.6 890.2L224.6 890.7zM207.3 846.6L209.7 854.8L203.7 854.3zM178.7 852.4L176.3 844.2L182.3 844.7zM187.1 853.1L184.7 844.9L190.7 845.3zM187.5 853.1L185.1 844.9L191.1 845.3zM156.9 833.4L157.1 842L151.4 840zM127.9 831.6L127.7 823L133.4 825zM144.2 828.9L144.3 837.4L138.7 835.4zM146.1 829.6L146.3 838.1L140.6 836.1zM126.6 790.1L124.4 798.4L119.5 794.9zM97.4 779.4L99.6 771.1L104.5 774.6zM115.2 782.1L113.1 790.4L108.2 786.9zM105 784.7L107.2 776.4L112.1 779.9zM118.4 784.4L116.2 792.7L111.4 789.2zM133.3 723.1L128.8 730.3L125.1 725.6zM111 707.3L115.5 700.1L119.2 704.8zM127.4 715.5L122.9 722.7L119.2 718zM181.5 692L177.9 699.7L173.7 695.5zM159 680.5L162.6 672.8L166.8 677zM256.5 676.8L264.4 680.1L260.3 684.5zM244.5 701.2L236.6 697.9L240.7 693.5zM249.1 684.6L257 687.9L252.9 692.3zM302.6 715.1L310.6 718.1L306.6 722.6zM291.4 739.9L283.4 736.9L287.4 732.4zM299.9 730.2L291.9 727.2L295.9 722.7zM235.7 730.3L239.9 737.7L234 738.6zM209.3 742.7L205.1 735.3L211 734.4zM216.3 741.6L212 734.2L217.9 733.2zM220.7 740.8L216.5 733.4L222.4 732.5zM168.1 755.8L167.1 764.3L161.8 761.6zM141.3 751.2L142.3 742.7L147.6 745.4zM147.1 754.1L148.1 745.6L153.5 748.4zM362.6 746.6L370.8 749L367.2 753.8zM350.9 775.4L342.7 773L346.3 768.2zM357.3 767L349.1 764.5L352.7 759.8zM357.8 766.2L349.6 763.8L353.2 759zM356.3 768.3L348.1 765.9L351.7 761.1zM304 778.4L310.8 783.6L305.7 786.7zM284.4 799.8L277.6 794.6L282.7 791.5zM292.8 794.6L286.1 789.4L291.2 786.2zM293.8 784.6L300.6 789.9L295.5 793zM223.6 791.4L226.7 799.4L220.7 799.4zM193.7 799.6L190.6 791.6L196.6 791.6zM213.7 791.5L216.7 799.5L210.7 799.5zM204.9 799.5L201.8 791.5L207.8 791.5zM205.4 799.5L202.4 791.5L208.4 791.5zM282.1 827.9L287.4 834.6L281.7 836.4zM256 844.8L250.7 838.1L256.4 836.3zM268.1 840.9L262.7 834.2L268.5 832.3zM271.4 831.4L276.7 838.1L271 839.9zM271 831.5L276.3 838.2L270.6 840.1zM405.6 649.2L413.9 651.1L410.6 656.1zM395.9 678.8L387.6 676.9L390.9 671.9zM404.1 666.2L395.8 664.4L399 659.3zM401.4 670.3L393.1 668.5L396.3 663.5zM398.6 660L406.9 661.8L403.7 666.9zM452.7 671.7L461.2 673L458.2 678.2zM445.1 701.8L436.6 700.5L439.6 695.3zM449.5 693.9L441 692.7L443.9 687.4zM445.7 684.3L454.1 685.6L451.2 690.8zM451.9 689.6L443.5 688.3L446.4 683.1zM487.7 713.3L495.9 715.6L492.3 720.5zM476.3 742.2L468.1 739.9L471.7 735zM478.9 725.2L487.1 727.5L483.6 732.4zM481.3 722L489.5 724.3L485.9 729.2zM480.3 723.3L488.6 725.6L485 730.4zM494 774.7L501.5 778.8L496.9 782.7zM479.5 797.8L472 793.7L476.6 789.8zM485.7 792.5L478.2 788.4L482.7 784.5zM452 806.9L458.1 812.9L452.7 815.5zM430 826.1L423.9 820.1L429.3 817.5zM439.2 821.7L433.1 815.8L438.6 813.2zM439.6 812.8L445.7 818.7L440.2 821.3zM431.1 845.3L436.2 852.1L430.4 853.8zM406.4 860.7L401.3 853.9L407.1 852.2zM413.7 858.6L408.6 851.8L414.4 850.1zM417.1 857.6L412 850.8L417.8 849.1zM377.6 876.6L380.9 884.5L374.9 884.7zM347.9 885.4L344.6 877.5L350.6 877.3zM365.5 876.9L368.7 884.8L362.7 885zM367 876.9L370.2 884.8L364.2 885zM362.7 885L359.5 877.1L365.5 876.9zM313.1 878.3L314.2 886.7L308.4 885.4zM287.9 880.7L286.8 872.3L292.6 873.6zM281.4 844.3L281 852.9L275.5 850.5zM252.6 840.7L253 832.1L258.5 834.5zM262.5 844.9L262.9 836.4L268.4 838.8zM260.2 843.9L260.6 835.4L266.1 837.8zM229.3 830L226.9 838.2L222.1 834.6zM203.5 821L205.9 812.8L210.7 816.4zM208.8 824.9L211.1 816.7L216 820.2zM196.8 784.4L192.6 791.8L188.7 787.2zM175.2 771.1L179.4 763.7L183.3 768.3zM204.8 717.4L198.8 723.5L196.3 718zM187.5 699L193.5 692.9L196 698.4zM252.4 688.9L246.1 694.7L243.8 689.1zM236.1 669.6L242.4 663.8L244.7 669.4zM338.4 686.5L336.4 694.8L331.4 691.4zM310.6 677.5L312.6 669.2L317.6 672.6zM321.2 684.6L323.2 676.3L328.2 679.6zM320.2 683.9L322.1 675.6L327.1 678.9zM382.1 714.5L386.5 721.8L380.6 722.9zM359.9 726.5L355.5 719.2L361.4 718.1zM309.6 733L307.9 741.4L302.8 738.2zM283.4 726L285.1 717.6L290.2 720.8zM290.5 730.4L292.2 722.1L297.3 725.3zM240.3 753.6L236.2 761.2L232.3 756.7zM217.1 739.4L221.2 731.8L225.1 736.3zM222.9 746L227 738.4L230.9 742.9zM438.8 744.2L445.6 749.4L440.5 752.6zM422.7 763.8L415.9 758.6L421 755.4zM382.8 776.9L386.5 784.6L380.5 785.1zM353.6 787.3L349.9 779.6L355.9 779.1zM362.6 786.6L358.9 778.9L364.9 778.4zM364.7 786.4L361 778.7L367 778.2zM374.5 777.6L378.1 785.3L372.2 785.8zM297 790.9L296.3 799.4L290.9 796.9zM268.3 786.1L269 777.6L274.4 780.1zM288.5 786.9L287.8 795.4L282.4 792.8zM278.7 791.1L279.5 782.6L284.9 785.1zM355.3 826.2L357.8 834.3L351.8 833.9zM330.8 832.5L328.3 824.4L334.3 824.8zM495.2 703.2L503.7 703.9L501.1 709.3zM492.1 728.3L483.6 727.6L486.2 722.2zM531 744.8L539.2 747.4L535.5 752.1zM522.5 768.7L514.3 766.1L518 761.4zM539 805.1L546.1 809.9L541.2 813.3zM524 825.4L516.9 820.6L521.8 817.2zM496.3 838.6L501.3 845.5L495.5 847.1zM475.2 852.4L470.2 845.5L476 843.9zM475.1 876.9L478.8 884.6L472.8 885.1zM451.9 887.1L448.2 879.4L454.2 878.9zM422 908.5L423.6 916.9L417.6 915.8zM393 911.5L391.4 903.1L397.4 904.2zM411.6 906.6L413.1 915L407.2 914zM402.5 913.2L400.9 904.8L406.8 905.8zM358.7 910.4L358.1 918.9L352.6 916.3zM331.8 906.6L332.4 898.1L337.9 900.7zM340.8 910.8L341.4 902.3L346.9 904.9zM323.8 875.5L321.4 883.7L316.6 880.1zM299.7 867.5L302.1 859.3L306.9 862.9zM274 863.1L270 870.7L266 866.2zM248.3 845.9L252.3 838.3L256.3 842.8zM257.3 856.1L261.3 848.6L265.3 853.1zM255.2 853.8L259.3 846.3L263.2 850.8zM266.7 854.7L262.6 862.2L258.7 857.7zM239.9 815.5L234.2 821.9L231.4 816.6zM221.6 798L227.3 791.6L230.1 796.9zM247.3 748.1L240.2 752.7L238.9 746.8zM234.5 726.3L241.6 721.7L242.9 727.6zM294.3 721.8L286.7 725.6L286.1 719.6zM283.7 694.7L291.3 690.9L291.9 696.9zM284.4 702.5L292.1 698.8L292.7 704.7zM284.8 706.9L292.5 703.1L293.1 709.1zM375.9 721.8L368.8 726.5L367.4 720.7zM362.6 700.2L369.7 695.5L371.1 701.3zM430 752.5L428.9 761L423.6 758.2zM401.5 746.5L402.6 738L407.9 740.8zM419.6 747L418.6 755.5L413.2 752.7zM423.4 749L422.4 757.5L417 754.7zM352.6 769.1L347.4 775.9L344.2 770.8zM329.9 747.9L335.1 741.1L338.3 746.2zM337.5 760L342.6 753.2L345.8 758.3zM337 759.3L342.2 752.5L345.4 757.6zM348.3 762.1L343.1 768.9L339.9 763.9zM283.1 786.4L277.2 792.6L274.6 787.1zM263.8 764.6L269.7 758.4L272.3 763.9zM268.3 774L274.2 767.8L276.8 773.2zM267.6 772.7L273.6 766.5L276.2 771.9zM486.6 775.1L491.9 781.7L486.3 783.6zM464.4 790.9L459.1 784.3L464.7 782.4zM474.6 779.1L479.9 785.7L474.3 787.6zM426.5 810.7L427.3 819.2L421.5 817.6zM399.4 811.5L398.6 803L404.4 804.6zM419.1 808.6L419.9 817.2L414.1 815.6zM340.3 824.2L337 832.1L332.6 828zM314.5 810.8L317.8 802.9L322.2 807zM321.2 817.1L324.5 809.3L328.9 813.4zM335 819.2L331.7 827.1L327.3 822.9zM401.4 858.9L401.6 867.4L395.9 865.4zM374.2 857.8L374 849.3L379.7 851.3zM386.3 862L386.1 853.5L391.7 855.5zM584.1 767L591.4 771.3L586.7 775.1zM565.7 792L558.4 787.7L563.1 783.9zM572.5 776.3L579.9 780.6L575.2 784.4zM574.4 774.8L581.8 779.1L577.1 782.9zM573 786.1L565.7 781.8L570.4 778zM591.3 829.3L597 835.7L591.4 837.8zM568 846.7L562.3 840.3L567.9 838.2zM581.4 833.1L587 839.5L581.4 841.6zM579.7 842.3L574 835.9L579.6 833.7zM549.1 865.2L551.6 873.3L545.6 873zM518.7 871.3L516.2 863.2L522.2 863.5zM531.4 872.1L528.9 863.9L534.8 864.3zM530.7 872.1L528.2 863.9L534.2 864.3zM526.8 871.8L524.3 863.7L530.3 864zM524.2 903L525.7 911.4L519.8 910.3zM499.1 906.5L497.6 898.1L503.5 899.2zM470.1 934.8L469.6 943.3L464.1 940.9zM441.2 930.7L441.7 922.2L447.2 924.6zM463.2 931.7L462.7 940.3L457.3 937.8zM461.6 931L461.1 939.5L455.6 937.1zM405.3 935.4L402.8 943.6L398.1 939.9zM381.5 927.1L384 918.9L388.7 922.6zM372.7 903L368.6 910.5L364.7 906zM347.1 885.5L351.2 878L355.1 882.5zM355.5 895.3L359.7 887.8L363.6 892.4zM356.8 896.8L360.9 889.3L364.8 893.8zM352.1 891.3L356.3 883.9L360.2 888.4zM318.9 885.5L313.6 892.2L310.5 887zM299.7 869L305 862.3L308.1 867.5zM286.9 840.5L280.4 845.9L278.4 840.3zM270.9 818.5L277.4 813.1L279.4 818.7zM283.8 831.5L277.2 836.9L275.3 831.3zM294.3 774.6L286.6 778.2L286.1 772.2zM283.8 745.3L291.5 741.7L292 747.7zM293.6 766L285.9 769.7L285.4 763.7zM293.6 765.9L285.9 769.5L285.3 763.6zM293.4 763.7L285.7 767.3L285.2 761.4zM340.6 745.1L332.5 747.8L332.7 741.8zM333.7 716.9L341.8 714.2L341.6 720.2zM341 734.6L332.9 737.3L333.1 731.3zM341.1 732.2L333 734.9L333.2 728.9zM420.9 745.9L412.8 748.6L413.1 742.6zM413.9 721.6L422 718.9L421.7 724.9zM472.7 782.6L466.6 788.5L464.2 783zM455.1 761.9L461.2 756L463.6 761.5zM470 776.2L463.8 782.1L461.4 776.6zM397.3 794.6L390.4 799.7L388.8 793.9zM381.5 767.9L388.4 762.8L390 768.6zM394.6 785.1L387.7 790.1L386.1 784.3zM385.5 782.2L392.4 777.1L394 782.9zM394.9 786.1L388 791.2L386.4 785.4zM328.6 808.8L321.7 813.8L320.1 808zM314.6 787.7L321.5 782.7L323.1 788.5zM536.3 805L537.1 813.5L531.3 812zM511 806.5L510.2 798L516 799.5zM472.8 838.5L470 846.6L465.4 842.7zM449.4 829.2L452.2 821.1L456.8 825zM385.7 849.3L380.5 856L377.4 850.9zM365.4 831.2L370.6 824.5L373.7 829.6zM370.4 839.6L375.7 832.8L378.8 837.9zM448 885L445.6 893.3L440.8 889.7zM423.9 877.2L426.3 868.9L431.1 872.5zM625.4 874L629 881.7L623 882.2zM600.1 884L596.5 876.3L602.5 875.8zM618.6 874.5L622.2 882.2L616.2 882.7zM582.3 911.9L581.7 920.4L576.2 917.9zM551.7 906.6L552.3 898.1L557.8 900.6zM569.3 905.9L568.7 914.4L563.2 911.9zM564.8 912.7L565.5 904.1L570.9 906.7zM570.3 906.4L569.7 914.9L564.2 912.4zM558.2 948L557.2 956.5L551.9 953.8zM531.3 943.5L532.3 935L537.6 937.7zM540.3 948L541.2 939.5L546.6 942.2zM503 979.8L500.5 988L495.8 984.3zM474.5 967.7L477 959.5L481.7 963.2zM492.1 971.3L489.5 979.4L484.8 975.7zM496.9 975L494.3 983.2L489.6 979.5zM485.2 976.1L487.8 967.9L492.5 971.6zM439.2 981.2L435 988.6L431.1 984zM413.8 963.3L418 955.9L421.9 960.5zM419.3 969.9L423.5 962.4L427.4 967.1zM422.6 973.9L426.9 966.4L430.7 971zM419.4 970L423.6 962.5L427.4 967.1zM403.6 946.6L397.9 953L395.1 947.7zM382.4 923.9L388.1 917.5L390.9 922.8zM397.5 935.1L391.8 941.6L389 936.3zM389.3 936.9L395 930.5L397.8 935.8zM386.5 931.6L392.1 925.1L395 930.4zM351 930L344.5 935.6L342.4 930zM333.8 906.5L340.3 900.9L342.4 906.5zM347.2 919.6L340.7 925.2L338.6 919.6zM336.3 913.3L342.8 907.7L344.9 913.3zM318.3 883.6L310.9 887.9L309.9 882zM305.7 857.4L313.1 853.1L314.1 859zM316.4 872.5L309 876.8L308 870.9zM307.2 866L314.6 861.7L315.6 867.6zM325.1 816.2L316.9 818.6L317.3 812.6zM319.2 785.7L327.4 783.3L327 789.3zM325.7 807.2L317.5 809.6L318 803.7zM325.9 804.1L317.8 806.6L318.2 800.6zM318.5 795.6L326.7 793.1L326.3 799.1zM371.8 784.6L363.3 785.9L364.5 780zM368.7 759.4L377.2 758.1L376 764zM450.2 790.3L441.6 790.9L443.3 785.2zM450.8 759.2L459.4 758.6L457.7 764.3zM452.5 782.2L444 782.9L445.7 777.1zM447.2 771.7L455.8 771L454.1 776.8zM454.2 776.4L445.7 777L447.3 771.3zM500.2 825.5L492 828L492.4 822zM493.8 801L502 798.5L501.6 804.5zM426.6 834.2L418.6 837.3L418.6 831.3zM418.4 810.3L426.4 807.2L426.4 813.2zM359.7 852.9L352 856.5L351.5 850.5zM349.7 825.6L357.4 822L357.9 828zM359.2 845.6L351.4 849.2L351 843.2zM358.9 841.7L351.1 845.2L350.7 839.3zM565.8 855.6L560 861.9L557.3 856.6zM547.7 837.9L553.5 831.6L556.2 836.9zM503.4 884.9L497.5 891L494.9 885.6zM485 864.8L490.9 858.7L493.5 864.1zM489.2 873.6L495.1 867.4L497.7 872.8zM416.3 892.5L409.5 897.7L407.7 892zM401 870L407.8 864.8L409.6 870.5zM413.9 884.9L407.2 890.1L405.4 884.3zM480.5 931L475.9 938.2L472.3 933.3zM457.6 913.2L462.2 906L465.8 910.9zM473.2 921L468.5 928.1L464.9 923.3zM472.6 920.2L467.9 927.3L464.4 922.5zM582.8 977.2L577.8 984.1L574.5 979.1zM560.7 958.3L565.7 951.4L569 956.4zM575.9 966.8L570.9 973.7L567.6 968.7zM578 970L573 976.9L569.7 971.9zM560.8 1010L557.2 1017.8L553 1013.5zM538.2 998.5L541.8 990.7L546 995zM504 1039.4L499.4 1046.6L495.8 1041.8zM483 1025.1L487.6 1017.9L491.2 1022.7zM440.2 1039.7L434.4 1046L431.7 1040.6zM422.3 1021.8L428.1 1015.5L430.8 1020.9zM405.1 1006.3L398.1 1011.2L396.6 1005.4zM390.4 981.2L397.4 976.3L398.9 982.1zM393.4 992.8L400.4 987.9L401.9 993.8zM392.3 988.5L399.3 983.6L400.8 989.4zM352.8 988.1L345.3 992.2L344.5 986.2zM341.5 965.4L349 961.3L349.8 967.3zM320.4 941.1L312.3 943.9L312.5 937.9zM313.1 916.9L321.2 914.1L321 920.1zM326.9 875L318.4 875.8L319.9 870zM326.9 843.9L335.4 843.1L333.9 848.9zM324.1 854.4L332.6 853.6L331.1 859.4zM323.9 855.2L332.4 854.4L330.9 860.1zM330.8 860.5L322.3 861.3L323.8 855.5zM373 844.9L364.5 844.4L366.9 838.9zM377 816.1L385.5 816.6L383.1 822.1zM373.9 823L382.5 823.5L380 829zM376.6 836.7L368.1 836.2L370.5 830.7zM451 847.2L442.7 845.4L445.9 840.3zM459.5 819.3L467.8 821.1L464.6 826.2zM456.9 838.1L448.5 836.3L451.8 831.3zM452.1 830.8L460.4 832.6L457.2 837.6zM497.8 886.8L489.4 885.4L492.3 880.2zM505.7 856.7L514.1 858.1L511.2 863.3zM499.9 866.9L508.3 868.3L505.4 873.5zM500 866.8L508.4 868.1L505.4 873.4zM504.6 874.8L496.2 873.4L499.2 868.2zM426.8 896.3L418.3 896.9L420 891.1zM427.7 865.2L436.2 864.6L434.5 870.4zM424.9 874.8L433.4 874.2L431.7 879.9zM430.2 884.8L421.7 885.4L423.4 879.7zM429.9 885.8L421.4 886.3L423.1 880.6zM361.1 913.2L352.8 914.9L353.7 909zM357.8 882.3L366.1 880.6L365.2 886.5zM355.7 895.7L364.1 894L363.2 899.9zM355.6 896.4L364 894.7L363.1 900.6zM355.9 894.2L364.3 892.5L363.4 898.4zM559 917.6L550.5 916.3L553.5 911.1zM564 892.9L572.5 894.2L569.5 899.4zM502.5 945.5L494.4 948.2L494.6 942.2zM495.4 921.2L503.5 918.5L503.3 924.5zM417.5 951.7L409.6 954.8L409.5 948.8zM409.3 927.8L417.2 924.7L417.3 930.7zM481.7 992.9L474.9 998L473.1 992.3zM465.9 968.3L472.7 963.2L474.5 968.9zM478.9 983.8L472.1 989L470.4 983.2zM469.8 981.1L476.6 976L478.3 981.7zM518.6 1038.9L517 1047.3L511.9 1044.2zM488.9 1030.1L490.5 1021.7L495.6 1024.8zM496.6 1034.8L498.2 1026.4L503.3 1029.5zM497.8 1035.6L499.4 1027.2L504.6 1030.3zM496.4 1034.7L498 1026.3L503.1 1029.4zM458.5 1069.2L454.2 1076.6L450.4 1072zM437 1055.8L441.3 1048.4L445.1 1053zM394.5 1071.2L388.4 1077.2L385.9 1071.8zM376.5 1050.8L382.6 1044.8L385.1 1050.2zM379.3 1057L385.4 1051L387.9 1056.5zM358.2 1038.2L350.7 1042.4L349.8 1036.5zM345.8 1009.8L353.3 1005.6L354.2 1011.5zM356.6 1027.4L349.1 1031.5L348.2 1025.6zM347.7 1022.1L355.1 1017.9L356 1023.8zM347.6 1021.9L355.1 1017.8L356 1023.7zM306 1021.8L298.1 1025.1L297.9 1019.2zM296.8 992.2L304.7 988.9L304.9 994.8zM305.6 1011.7L297.7 1015.1L297.5 1009.1zM305.5 1010L297.7 1013.4L297.4 1007.4zM305.6 1012L297.7 1015.3L297.5 1009.3zM272.7 974.7L264.3 976.4L265.2 970.5zM269.3 943.8L277.7 942.1L276.8 948zM274 965.8L265.7 967.6L266.6 961.7zM267.1 958.4L275.4 956.6L274.5 962.6zM267.5 955.5L275.9 953.7L275 959.6zM279.1 904.1L270.6 903.6L273 898.1zM283.2 875.3L291.7 875.8L289.3 881.3zM282.9 895.5L274.4 895.1L276.8 889.6zM282.9 895.7L274.3 895.2L276.8 889.7zM325.1 873.7L316.8 871.6L320.2 866.7zM333.4 847.8L341.7 849.9L338.3 854.8zM331.8 864.1L323.5 861.9L327 857zM401.5 875.7L394 871.6L398.6 867.7zM417.5 851.3L425 855.4L420.4 859.3zM409.9 857.9L417.4 862L412.8 865.9zM407.7 859.8L415.2 863.9L410.6 867.8zM447.9 912.9L440.7 908.2L445.6 904.7zM464.1 891.1L471.3 895.8L466.4 899.3zM458 905.5L450.9 900.8L455.7 897.3zM378.7 923.3L370.3 921.8L373.4 916.6zM384.3 898.7L392.7 900.2L389.6 905.4zM312.8 943.5L304.3 943.8L306.1 938.1zM314.6 912.5L323.1 912.2L321.3 917.9zM311.7 921.3L320.2 921L318.4 926.7zM316 933.8L307.5 934.1L309.3 928.5zM309.9 926.6L318.5 926.3L316.6 932zM501.6 941.9L497.3 934.5L503.3 933.5zM529.9 929.1L534.2 936.5L528.2 937.5zM513.1 940L508.8 932.6L514.7 931.6zM512.8 940L508.5 932.6L514.4 931.7zM518.5 931L522.8 938.4L516.9 939.4zM450.4 978.9L441.9 978.2L444.5 972.7zM456 948.3L464.5 949L461.9 954.5zM450.9 959.1L459.4 959.8L456.9 965.2zM456.6 965.7L448.1 965L450.7 959.6zM452.5 955.6L461.1 956.3L458.5 961.8zM369.2 984.5L360.8 986L361.8 980.1zM366.1 955.5L374.5 954L373.5 959.9zM364.2 966.4L372.6 964.8L371.6 970.7zM364.7 963.6L373.1 962.1L372.1 968zM433.6 1022.2L426 1026.2L425.3 1020.3zM422.5 999.5L430.1 995.5L430.8 1001.4zM434.9 1108.8L429.1 1115.1L426.4 1109.7zM416.1 1089.2L421.9 1082.9L424.6 1088.3zM421.7 1100.4L427.5 1094.1L430.2 1099.5zM370 1109.3L362.8 1114L361.5 1108.1zM356.5 1085.7L363.7 1081L365 1086.9zM367.4 1097.9L360.3 1102.5L359 1096.7zM332.7 1075.7L324.5 1078.2L324.9 1072.2zM326.8 1045.3L335 1042.8L334.6 1048.8zM326.3 1053.1L334.4 1050.6L334 1056.6zM325.9 1058.2L334.1 1055.8L333.7 1061.8zM333.2 1068.1L325 1070.5L325.5 1064.5zM281.1 1058.9L272.8 1060.8L273.6 1054.9zM277.2 1028.1L285.5 1026.2L284.7 1032.1zM275.2 1042.6L283.6 1040.7L282.8 1046.7zM276 1036.9L284.3 1035L283.5 1041zM283 1044.5L274.7 1046.4L275.5 1040.5zM248.6 1009.4L240 1009.7L241.9 1004zM248.9 982.1L257.5 981.8L255.6 987.5zM246.2 990.6L254.7 990.2L252.9 995.9zM255.7 938.4L247.4 936.6L250.6 931.6zM262.1 914L270.4 915.8L267.2 920.8zM299.3 910.7L291.5 907.2L295.7 902.9zM314.7 883.8L322.5 887.3L318.3 891.6zM308.9 889.7L316.6 893.2L312.4 897.5zM306.6 892L314.4 895.5L310.1 899.8zM305.3 893.3L313.1 896.8L308.8 901.1zM377.8 909.8L371.3 904.2L376.6 901.3zM396.7 890.2L403.2 895.8L397.9 898.7zM389.7 894.1L396.2 899.6L390.9 902.5zM423.8 946.3L418.3 939.8L423.9 937.8zM443.7 930.7L449.2 937.2L443.6 939.2zM351.4 960.9L343.6 957.3L347.9 953.1zM367.1 934.1L374.9 937.7L370.6 941.9zM359.8 941.3L367.6 944.9L363.3 949.1zM359.3 941.8L367 945.4L362.8 949.6zM358.9 953.5L351.1 949.9L355.4 945.7zM288.6 977.8L280.1 976.5L283.1 971.3zM294.3 951.2L302.8 952.5L299.8 957.7zM294.9 966.6L286.4 965.3L289.4 960zM480.1 974.4L478.1 966.1L484.1 966.8zM506.9 969.6L508.9 977.9L502.9 977.2zM486.7 975.2L484.7 966.9L490.6 967.6zM421.1 1012.1L414 1007.3L418.9 1003.8zM440.8 988.1L447.9 992.9L443 996.4zM433.1 1003.5L426 998.7L430.9 995.3zM428.8 996.7L435.9 1001.5L431 1005zM429.3 1006.2L422.2 1001.4L427.1 997.9zM343.4 1020L334.9 1019.2L337.5 1013.8zM347.4 993L355.9 993.8L353.3 999.2zM344.4 999.2L352.9 1000L350.4 1005.4zM406 1060L397.5 1060.5L399.3 1054.7zM405.6 1034.7L414.1 1034.2L412.3 1040zM310.9 1139.6L302.8 1142.4L303 1136.4zM303.6 1111.4L311.7 1108.6L311.5 1114.6zM311.1 1132.6L303 1135.4L303.2 1129.4zM311.2 1125.8L303.2 1128.6L303.3 1122.6zM273 1101.1L264.4 1100.9L266.7 1095.4zM274.5 1075.9L283.1 1076.1L280.8 1081.6zM221.6 1086.9L213 1086.9L215.2 1081.3zM224.7 1056.1L233.3 1056.1L231.1 1061.7zM221.7 1064.1L230.2 1064.2L228.1 1069.8zM221.7 1064.2L230.2 1064.2L228.1 1069.8zM226.7 1073.5L218.1 1073.5L220.3 1067.8zM188.6 1038.7L180.2 1037.3L183.2 1032.1zM196.9 1008.8L205.3 1010.2L202.3 1015.4zM192.6 1031.9L184.2 1030.4L187.2 1025.3zM193 1031.2L184.6 1029.8L187.6 1024.6zM191.2 1018.4L199.6 1019.9L196.6 1025.1zM196.3 966.1L188.6 962.4L192.9 958.3zM209.5 942.3L217.2 946L212.9 950.1zM202.6 949L210.3 952.7L205.9 956.8zM240.1 936.3L233.5 930.9L238.6 927.9zM261.9 914.2L268.5 919.6L263.4 922.6zM249.9 930.6L243.2 925.2L248.4 922.1zM250.6 920.9L257.2 926.2L252.1 929.3zM253.3 919.3L259.9 924.6L254.8 927.7zM319.2 934.4L314.8 927.1L320.7 926zM343.3 921.6L347.7 928.9L341.8 930zM326.3 933L321.9 925.7L327.7 924.6zM362.6 969.7L360 961.6L366 961.9zM392.9 963.3L395.5 971.4L389.5 971.1zM375.8 970.4L373.2 962.3L379.2 962.6zM377 970.5L374.4 962.3L380.4 962.6zM374.5 970.3L371.9 962.2L377.9 962.5zM293.9 984L287.9 977.8L293.4 975.4zM312.6 967L318.6 973.2L313.1 975.6zM228.4 1005.2L220.6 1001.7L224.8 997.4zM242.5 979.8L250.3 983.3L246.1 987.6zM233.2 989.1L241 992.6L236.7 996.9zM237.3 985.1L245 988.6L240.8 992.8zM423.3 996.9L424.4 988.4L429.7 991.3zM451.7 1003.1L450.6 1011.6L445.3 1008.7zM429.9 1000.4L431 992L436.3 994.8zM443.7 998.8L442.6 1007.3L437.3 1004.4zM359.8 1031.3L357.2 1023.1L363.2 1023.4zM390.1 1024.9L392.7 1033.1L386.7 1032.8zM370.3 1031.8L367.7 1023.7L373.7 1024zM377.8 1024.3L380.4 1032.4L374.4 1032.1zM374.7 1032.1L372.1 1023.9L378.1 1024.3zM282.2 1046L274.7 1042L279.2 1038zM296.6 1023L304.1 1027L299.6 1031zM291.9 1037.7L284.4 1033.6L288.9 1029.7zM338.1 1084.1L332.5 1077.7L338.1 1075.5zM361.5 1066.6L367.1 1073L361.5 1075.2zM345.7 1081.2L340 1074.8L345.6 1072.7zM352.6 1070L358.3 1076.4L352.7 1078.5zM203.8 1099.4L196.2 1095.4L200.7 1091.4zM219.2 1074.6L226.8 1078.6L222.3 1082.6zM212.5 1091.5L204.9 1087.6L209.3 1083.6zM213.5 1079.8L221.1 1083.7L216.6 1087.8zM156.7 1083.9L148.3 1082.1L151.6 1077.1zM165.1 1056.1L173.5 1057.9L170.2 1062.9zM158.7 1066L167 1067.8L163.8 1072.9zM163.5 1073.4L155.1 1071.6L158.3 1066.6zM125.5 1033.9L117.5 1030.8L121.5 1026.3zM135.5 1010.6L143.5 1013.7L139.5 1018.2zM131.6 962.9L124.9 957.6L130 954.5zM149.7 942.5L156.4 947.8L151.3 950.9zM141.5 956.9L134.8 951.6L139.9 948.5zM177.3 931.1L172.3 924.2L178 922.6zM200.2 916.4L205.2 923.3L199.5 924.9zM191.4 918.9L196.4 925.7L190.7 927.4zM256.6 929L254.6 920.7L260.5 921.4zM281.4 924L283.4 932.3L277.5 931.6zM301.1 963L301.6 954.5L307.1 956.9zM329.9 967L329.4 975.5L323.9 973.1zM308 966.1L308.5 957.5L314 960zM322.9 963.9L322.4 972.4L316.9 970zM228.1 978.3L224.9 970.4L230.9 970.3zM253.9 969.7L257.1 977.6L251.1 977.7zM241.2 970L244.4 977.9L238.4 978.1zM164.5 1000.2L158.1 994.6L163.4 991.8zM181.9 981.8L188.3 987.4L183 990.2zM364 992.6L367.7 984.9L371.9 989.2zM386.5 1004.4L382.8 1012.1L378.6 1007.8zM300.6 1023L302.7 1014.8L307.6 1018.2zM324.8 1030.2L322.7 1038.4L317.8 1035zM213.2 1039.8L208.7 1032.5L214.6 1031.4zM241.1 1026.2L245.6 1033.5L239.7 1034.6zM231.6 1028L236.1 1035.3L230.2 1036.5zM223.7 1037.8L219.2 1030.5L225.1 1029.3zM225.8 1037.3L221.3 1030.1L227.2 1028.9zM274.3 1067.8L277.2 1059.8L281.8 1063.7zM300.8 1079.9L297.9 1087.9L293.3 1084zM284.5 1076.5L287.4 1068.5L292 1072.4zM281.4 1073.9L284.3 1065.8L288.9 1069.7zM126.4 1048.5L117.9 1048.8L119.8 1043.1zM128.4 1017.5L136.9 1017.2L135 1022.9zM125.4 1026.5L133.9 1026.2L132 1031.9zM131 1034.8L122.5 1035.1L124.4 1029.4zM129.4 1039.5L120.9 1039.8L122.8 1034.1zM90.8 999.5L82.6 996.8L86.4 992.1zM103.2 971L111.4 973.7L107.6 978.4zM98.5 977L106.6 979.7L102.8 984.3zM97.5 991.1L89.3 988.4L93.1 983.7zM98 990.4L89.9 987.8L93.6 983.1zM97.5 925.3L91.1 919.6L96.4 916.8zM116.8 906.1L123.2 911.8L117.9 914.6zM104.4 921.7L98 916L103.3 913.2zM142.9 892.5L138.9 885L144.8 884.2zM167.6 881L171.6 888.5L165.7 889.3zM155.4 890.8L151.3 883.3L157.3 882.4zM221 888.5L220.8 880L226.5 882zM250 890.5L250.2 899L244.5 897zM230 891.8L229.9 883.2L235.5 885.3zM229.4 891.6L229.3 883L234.9 885zM269.5 922.6L272.4 914.6L277 918.5zM294.5 933.4L291.6 941.4L287 937.5zM276.8 928.8L279.7 920.8L284.2 924.7zM192 937.1L191.1 928.6L196.9 930.1zM223 936.9L223.9 945.4L218.1 943.9zM205 940.5L204.2 932L210 933.5zM213.2 934.4L214.1 942.9L208.3 941.3zM204.2 940.3L203.3 931.8L209.1 933.3zM128.2 962.9L122.4 956.6L128 954.4zM151.2 945.1L157 951.4L151.4 953.6zM141.4 949L147.1 955.3L141.5 957.6zM141.5 949L147.2 955.3L141.7 957.5zM331.6 951.1L337.2 944.6L340 949.9zM351.9 971.9L346.3 978.4L343.5 973.1zM345.5 960L339.9 966.4L337 961.2zM346.2 961.3L340.6 967.7L337.7 962.4zM269.6 981.3L274.9 974.7L278 979.8zM288.8 997.9L283.5 1004.5L280.4 999.4zM179.1 995.9L178.4 987.4L184.2 989.1zM208.2 996.1L208.9 1004.6L203.1 1002.9zM190 999.1L189.3 990.6L195.1 992.2zM192.3 999.8L191.7 991.3L197.4 992.9zM247.7 1023.7L255.1 1019.4L256.1 1025.3zM260.4 1050L253 1054.3L252 1048.4zM259.1 1042.5L251.7 1046.8L250.7 1040.9zM249.8 1035.5L257.1 1031.2L258.2 1037.1zM35.9 979.7L29.1 974.5L34.1 971.3zM56.9 956.8L63.7 962L58.7 965.2zM43.3 974.9L36.5 969.8L41.6 966.6zM49.6 961.5L56.4 966.6L51.4 969.8zM46.2 973.1L39.4 968L44.4 964.8zM42.4 905.2L38.1 897.8L44 896.8zM70.7 892.2L75 899.6L69.1 900.6zM51.7 903.6L47.4 896.2L53.3 895.2zM50.3 903.8L45.9 896.5L51.8 895.5zM55 903L50.7 895.6L56.6 894.6zM90.1 871.1L88.7 862.6L94.6 863.8zM119.2 868.4L120.6 876.9L114.7 875.7zM98.1 872.6L96.6 864.2L102.5 865.3zM110.6 866.8L112.1 875.2L106.2 874.1zM170.5 866.7L172.9 858.5L177.7 862.1zM199.3 878.3L196.9 886.5L192.1 882.9zM176.6 871.3L179 863.1L183.8 866.7zM180.3 874.1L182.8 865.9L187.6 869.5zM191.2 872.2L188.8 880.4L184 876.8zM219.7 900.8L224.6 893.9L228 898.8zM243.1 921.2L238.2 928.1L234.8 923.2zM235.1 909.3L230.1 916.2L226.8 911.3zM227.8 912.9L232.8 905.9L236.1 910.8zM238.1 913.7L233.2 920.7L229.8 915.7zM143.6 914.1L146.4 906L151 909.9zM170.2 925.9L167.4 934L162.8 930.1zM152.4 921.4L155.2 913.4L159.8 917.2zM164 920.8L161.2 928.8L156.6 925zM76.6 939.1L74.9 930.7L80.8 931.7zM101.6 934.9L103.3 943.3L97.4 942.3zM283.2 933.4L289.9 928.1L291.8 933.7zM299.1 955.6L292.4 960.9L290.5 955.3zM296.1 946.7L289.5 952.1L287.6 946.4zM220.9 960.2L227.8 955.2L229.4 960.9zM236.3 985L229.4 990L227.8 984.3zM223.8 970.3L230.7 965.3L232.3 971zM224.4 972.6L231.3 967.5L233 973.3zM132.7 968.7L138.3 962.2L141.2 967.4zM153.4 989.3L147.8 995.8L144.9 990.6zM136.8 975.9L142.3 969.4L145.2 974.6zM137.4 977.1L142.9 970.6L145.9 975.8zM199.8 1006.7L207.9 1004L207.8 1010zM207.1 1033L199 1035.7L199.1 1029.7zM207.4 1022.9L199.3 1025.7L199.5 1019.7zM13.7 853.2L11.9 844.8L17.8 845.7zM38.6 848.7L40.4 857.1L34.5 856.2zM60.2 818.3L61.7 809.9L66.8 813zM88.3 825.7L86.8 834.1L81.7 831zM81.6 821.7L80.1 830.1L74.9 827.1zM78.1 819.6L76.6 828L71.4 825zM144.4 817.2L149.3 810.1L152.7 815.1zM164.6 832.3L159.7 839.4L156.3 834.4zM193.3 852L200.1 846.8L201.9 852.5zM208.7 874.5L201.9 879.7L200.1 874zM195.9 860.4L202.7 855.2L204.5 860.9zM118 862.9L124.2 856.9L126.6 862.4zM135 881.6L128.8 887.6L126.4 882.1zM46.6 879.5L51.3 872.4L54.8 877.2zM70.8 899L66.1 906.1L62.6 901.3zM55 890.9L59.7 883.8L63.2 888.6zM53.5 888.9L58.1 881.7L61.7 886.5zM53.9 889.4L58.6 882.3L62.1 887.1zM255.6 885.2L263.3 881.4L263.9 887.4zM265.9 908.3L258.2 912.1L257.6 906.1zM194.5 910.8L202.6 908L202.5 913.9zM201.9 938.9L193.8 941.7L193.9 935.8zM202.1 927L194.1 929.8L194.2 923.8zM202.1 927.9L194.1 930.7L194.2 924.7zM110.3 915.9L118.6 913.8L118 919.8zM115 946.6L106.7 948.7L107.3 942.7zM109.1 926.7L117.4 924.7L116.7 930.6zM109.4 924.2L117.7 922.1L117 928zM116.2 935.7L107.9 937.8L108.6 931.8zM173.9 956.6L182.5 956.2L180.6 961.9zM172.2 987.6L163.6 988L165.5 982.3zM176.3 975.1L167.8 975.4L169.6 969.7zM170.1 968.2L178.6 967.9L176.8 973.6zM175.3 978.2L166.7 978.5L168.6 972.8zM74.8 744.2L80.1 737.5L83.2 742.7zM94 760.7L88.7 767.4L85.6 762.2zM157.7 741.3L165 736.8L166.2 742.6zM171.6 769.1L164.3 773.6L163.1 767.8zM170 761.6L162.8 766.1L161.6 760.2zM169.6 759.4L162.4 763.9L161.2 758.1zM160.6 755.3L167.8 750.8L169 756.7zM208.2 778.5L216.4 776L216 782zM214.1 808.9L205.9 811.4L206.3 805.4zM207.3 791.7L215.5 789.3L215 795.3zM207.2 792.7L215.4 790.3L215 796.3zM214.7 799.6L206.6 802.1L207 796.1zM135.9 787.2L144.3 785.9L143.1 791.8zM137.4 818.2L129 819.5L130.2 813.6zM139 810.8L130.6 812.1L131.8 806.2zM133.9 796.4L142.3 795.1L141.1 801zM139.2 809.9L130.8 811.2L132 805.4zM76.2 808.2L83.6 812.4L79.1 816.3zM61.5 831.2L54.1 827L58.6 823.1zM70.4 813.1L77.9 817.2L73.3 821.1zM269.7 812.7L278.1 811.3L276.9 817.2zM272.1 841.7L263.7 843.1L264.9 837.2zM267.1 825.9L275.5 824.4L274.4 830.3zM274.3 830.8L265.8 832.2L267 826.3zM210.2 840.9L218.7 841.3L216.4 846.8zM206.5 869.7L198 869.3L200.3 863.8zM206.9 848.7L215.4 849.1L213 854.6zM205.5 851.8L214 852.2L211.7 857.7zM128.7 849.5L136.6 852.7L132.5 857.1zM116.9 873.9L109 870.7L113.1 866.3zM124.1 854.5L132 857.7L127.9 862.1zM189.7 888.4L197.7 891.2L193.9 895.8zM176.7 916.7L168.7 913.9L172.5 909.3zM184.7 907.1L176.6 904.3L180.4 899.7zM184 895.3L192.1 898.1L188.3 902.7zM181.8 910.6L173.7 907.8L177.5 903.1zM209.3 711.1L217.4 708.4L217.2 714.4zM216.2 741.4L208.1 744.1L208.3 738.1zM209 719.4L217.1 716.6L216.9 722.6zM216.5 732.4L208.4 735.1L208.7 729.1zM208.9 722.2L217 719.5L216.8 725.5zM260.1 749.2L268.6 748.9L266.8 754.6zM258.4 780.3L249.9 780.6L251.7 774.9zM257.1 758.4L265.7 758L263.8 763.7zM257.6 756.8L266.2 756.4L264.3 762.1zM262.1 768.8L253.6 769.2L255.5 763.5zM190.2 762.3L198 765.7L193.9 770zM179.3 785.2L171.5 781.8L175.6 777.5zM129.5 789.6L130.7 798L124.8 796.7zM104.4 791.9L103.2 783.5L109.1 784.8zM320.1 784.7L328.7 784.9L326.4 790.5zM317.9 811.8L309.3 811.6L311.6 806zM322.5 800.3L313.9 800.1L316.2 794.5zM261 814.6L269.1 817.4L265.3 822zM251.9 838.1L243.8 835.3L247.6 830.7zM182.8 824.3L188.3 830.9L182.6 832.9zM159 841.2L153.5 834.6L159.2 832.6zM169.8 837.4L164.3 830.8L170 828.8zM167.3 838.3L161.8 831.7L167.4 829.7zM240 863.1L246.9 868.1L241.9 871.4zM222.6 884.1L215.7 879.1L220.7 875.8zM230.5 869.3L237.4 874.4L232.4 877.7zM344.1 755.7L352.1 758.5L348.3 763.1zM334.9 779.3L326.9 776.5L330.7 771.9zM278.2 779.7L276.8 788.1L271.6 785zM251.8 773.3L253.2 764.9L258.4 768zM262.5 779.7L264 771.3L269.2 774.3zM207.8 802L202.8 809L199.5 804zM186.6 785L191.6 778L194.9 783zM203.4 795.5L198.4 802.4L195.1 797.5zM403.2 788L411.5 790L408.2 795zM395.3 814L387 812L390.3 807zM400.4 806.5L392.1 804.4L395.4 799.5zM347 820.2L353 826.4L347.5 828.8zM326.4 838L320.4 831.8L325.9 829.4zM336.8 833.4L330.8 827.3L336.3 824.9zM265.6 836.9L265.5 845.4L259.9 843.2zM236.7 834.1L236.8 825.6L242.4 827.8zM248.1 838.6L248.2 830.1L253.8 832.2zM245 837.4L245.1 828.8L250.7 831zM323.9 870.8L327.9 878.3L322 879.1zM299.2 881.9L295.2 874.4L301.1 873.6zM311.9 880.3L307.9 872.8L313.9 872zM317 827.4L309.4 831.4L308.7 825.4zM306 802.6L313.6 798.6L314.3 804.6zM307.3 813.8L314.9 809.9L315.6 815.9zM250 844.1L242.6 848.5L241.6 842.6zM237.4 819.9L244.8 815.5L245.8 821.4zM248.4 835.5L241.1 839.8L240 833.9zM448.6 826.2L457.1 827.5L454.1 832.7zM442.9 852.8L434.4 851.5L437.4 846.3zM443.5 835.2L452 836.5L449.1 841.8zM398.4 864.3L401 872.4L395 872.1zM368 870.9L365.4 862.8L371.4 863.1zM388.7 863.8L391.4 872L385.4 871.7zM388.9 863.9L391.6 872L385.6 871.7zM386.2 863.7L388.8 871.9L382.8 871.6zM309.4 882.7L304.8 889.9L301.2 885.2zM285.9 865.3L290.5 858.1L294.1 862.8zM291.8 873L296.3 865.7L300 870.5zM293.9 875.7L298.5 868.5L302.1 873.2zM373.6 914.7L374.5 923.2L368.7 921.7zM342.5 915L341.6 906.5L347.4 908zM362.4 911.8L363.3 920.3L357.5 918.8zM356.7 918.6L355.7 910.1L361.6 911.6zM359.2 911L360.1 919.5L354.3 918zM176.5 853.6L169.5 858.5L168 852.6zM161.9 828.4L168.9 823.5L170.4 829.4zM174 843.7L167 848.6L165.5 842.7zM164.6 839.2L171.7 834.4L173.1 840.2zM369.5 836L377.9 834.5L376.8 840.4zM373 861L364.6 862.5L365.7 856.6zM312.6 864.6L320.8 866.9L317.2 871.7zM304.8 888.6L296.6 886.3L300.2 881.5zM236.7 882.1L237.8 890.6L232 889.2zM209.6 883.9L208.5 875.4L214.3 876.8zM227.7 880L228.8 888.4L223 887.1zM295.5 913.9L301.6 919.9L296.1 922.4zM271.6 933.8L265.5 927.8L271 925.3zM284.2 928L278.1 922L283.5 919.5zM283.3 928.4L277.2 922.4L282.6 919.9zM283.5 928.3L277.4 922.3L282.9 919.8zM300 851.4L308.1 848.7L307.9 854.7zM306.9 879.6L298.8 882.3L299 876.3zM307.3 868.5L299.2 871.2L299.5 865.2zM299.5 865L307.6 862.3L307.3 868.3zM240 881L248.5 880.1L247 885.9zM241.8 906.2L233.3 907.1L234.8 901.3zM160.2 887.3L168.3 889.8L164.6 894.6zM150.5 912.7L142.4 910.2L146.1 905.4zM155.8 905.9L147.7 903.4L151.4 898.6zM220.7 927.2L229 929.4L225.4 934.3zM210.8 954.5L202.5 952.3L206.1 947.4zM216.3 933.3L224.5 935.5L221 940.4zM215 935.1L223.2 937.3L219.7 942.2zM451.5 910.4L445.4 916.4L443 910.9zM434.4 891.8L440.5 885.8L442.9 891.3zM364.2 919.3L357.1 924L355.8 918.1zM350.6 895.7L357.7 891L359 896.9zM353.1 906.7L360.2 902L361.6 907.8zM429.3 955.6L425.2 963.1L421.3 958.5zM406.3 941.1L410.4 933.6L414.3 938.2zM412.5 948.4L416.7 940.9L420.6 945.4zM299.7 947.3L292 950.9L291.5 944.9zM290 923.9L297.7 920.3L298.2 926.3zM370.4 980L369.3 988.4L364 985.6zM340.1 972.9L341.2 964.5L346.5 967.3zM351.7 979.1L352.8 970.6L358.1 973.4zM347.2 976.7L348.4 968.2L353.6 971.1zM361.7 975.3L360.6 983.8L355.3 981zM274.2 969L282.5 971L279.2 976zM265.2 996.7L256.9 994.7L260.2 989.7zM271.4 987.4L263.1 985.4L266.5 980.5zM268.1 978L276.4 980L273.1 985z"/><g fill="none" stroke="#0072BD" stroke-width="1" stroke-opacity="0.38"><path d="M356 635Q279.6 616.8 208 649" stroke-width="24"/><path d="M608 820.5Q588.8 768.2 541.8 738.5" stroke-width="20"/><path d="M36.3 781.4Q40.1 853 16 920.5" stroke-width="16"/><path d="M36.3 781.4Q2.5 847.5 16 920.5" stroke-width="7"/><path d="M132.5 723.5Q74.6 736.1 36.3 781.4" stroke-width="10"/><path d="M208 649Q157.6 673.4 132.5 723.5" stroke-width="9"/><path d="M245 1124Q306.7 1146.7 369.5 1127" stroke-width="8"/><path d="M369.5 1127Q307.8 1104.3 245 1124" stroke-width="6"/><path d="M526 998Q582 983.3 617.5 937.5" stroke-width="10"/><path d="M608 820.5Q592.9 880.6 617.5 937.5" stroke-width="8"/><path d="M76.8 1016Q121.6 1050.2 178 1050" stroke-width="4"/><path d="M16 920.5Q30.2 978.6 76.8 1016" stroke-width="4"/></g><path fill="#0072BD" fill-opacity="0.38" d="M274.8 630L286.4 624.4L287.2 633.3zM578.1 769.2L589.1 775.7L582.1 781.4zM32.2 857.9L29.5 845.4L38.4 846.7zM13.5 855.2L10.7 842.6L19.6 843.9zM74.3 747.4L82.3 737.3L86.9 745zM159.6 684L165 672.4L171.3 678.8zM313 1136.2L300.9 1140.4L301.1 1131.4zM301.5 1114.8L313.6 1110.6L313.4 1119.6zM581.9 972.2L574.4 982.6L569.4 975.1zM603.3 885.8L597.8 874.2L606.8 873.5zM130.2 1043.5L117.4 1044L120.3 1035.4zM41.5 978.5L31.3 970.8L38.9 965.9z"/></g><clipPath id="hc1"><rect x="704.1" y="15.5" width="537.1" height="519.4"/></clipPath><g shape-rendering="crispEdges" clip-path="url(#hc1)"><rect x="704.3" y="15" width="24" height="23.2" fill="#3e26a8"/><rect x="727.6" y="15" width="24" height="23.2" fill="#402ab4"/><rect x="751" y="15" width="24" height="23.2" fill="#3e26a8"/><rect x="774.3" y="15" width="24" height="23.2" fill="#422ec0"/><rect x="797.7" y="15" width="24" height="23.2" fill="#402ab4"/><rect x="821" y="15" width="24" height="23.2" fill="#3e26a8"/><rect x="844.4" y="15" width="24" height="23.2" fill="#402ab4"/><rect x="867.8" y="15" width="24" height="23.2" fill="#402ab4"/><rect x="891.1" y="15" width="24" height="23.2" fill="#3e26a8"/><rect x="914.4" y="15" width="24" height="23.2" fill="#402ab4"/><rect x="937.8" y="15" width="24" height="23.2" fill="#402ab4"/><rect x="961.1" y="15" width="24" height="23.2" fill="#422ec0"/><rect x="984.5" y="15" width="24" height="23.2" fill="#3e26a8"/><rect x="1007.8" y="15" width="24" height="23.2" fill="#3e26a8"/><rect x="1031.2" y="15" width="24" height="23.2" fill="#3e26a8"/><rect x="1054.5" y="15" width="24" height="23.2" fill="#402ab4"/><rect x="1077.9" y="15" width="24" height="23.2" fill="#3e26a8"/><rect x="1101.2" y="15" width="24" height="23.2" fill="#3e26a8"/><rect x="1124.6" y="15" width="24" height="23.2" fill="#3e26a8"/><rect x="1148" y="15" width="24" height="23.2" fill="#402ab4"/><rect x="1171.3" y="15" width="24" height="23.2" fill="#422ec0"/><rect x="1194.7" y="15" width="24" height="23.2" fill="#3e26a8"/><rect x="1218" y="15" width="24" height="23.2" fill="#3e26a8"/><rect x="704.3" y="37.6" width="24" height="23.2" fill="#3e26a8"/><rect x="727.6" y="37.6" width="24" height="23.2" fill="#3e26a8"/><rect x="751" y="37.6" width="24" height="23.2" fill="#3e26a8"/><rect x="774.3" y="37.6" width="24" height="23.2" fill="#402ab4"/><rect x="797.7" y="37.6" width="24" height="23.2" fill="#3e26a8"/><rect x="821" y="37.6" width="24" height="23.2" fill="#3e26a8"/><rect x="844.4" y="37.6" width="24" height="23.2" fill="#3e26a8"/><rect x="867.8" y="37.6" width="24" height="23.2" fill="#422ec0"/><rect x="891.1" y="37.6" width="24" height="23.2" fill="#3e26a8"/><rect x="914.4" y="37.6" width="24" height="23.2" fill="#3e26a8"/><rect x="937.8" y="37.6" width="24" height="23.2" fill="#402ab4"/><rect x="961.1" y="37.6" width="24" height="23.2" fill="#3e26a8"/><rect x="984.5" y="37.6" width="24" height="23.2" fill="#3e26a8"/><rect x="1007.8" y="37.6" width="24" height="23.2" fill="#3e26a8"/><rect x="1031.2" y="37.6" width="24" height="23.2" fill="#3e26a8"/><rect x="1054.5" y="37.6" width="24" height="23.2" fill="#402ab4"/><rect x="1077.9" y="37.6" width="24" height="23.2" fill="#3e26a8"/><rect x="1101.2" y="37.6" width="24" height="23.2" fill="#402ab4"/><rect x="1124.6" y="37.6" width="24" height="23.2" fill="#3e26a8"/><rect x="1148" y="37.6" width="24" height="23.2" fill="#3e26a8"/><rect x="1171.3" y="37.6" width="24" height="23.2" fill="#3e26a8"/><rect x="1194.7" y="37.6" width="24" height="23.2" fill="#402ab4"/><rect x="1218" y="37.6" width="24" height="23.2" fill="#3e26a8"/><rect x="704.3" y="60.2" width="24" height="23.2" fill="#3e26a8"/><rect x="727.6" y="60.2" width="24" height="23.2" fill="#3e26a8"/><rect x="751" y="60.2" width="24" height="23.2" fill="#3e26a8"/><rect x="774.3" y="60.2" width="24" height="23.2" fill="#3e26a8"/><rect x="797.7" y="60.2" width="24" height="23.2" fill="#3e26a8"/><rect x="821" y="60.2" width="24" height="23.2" fill="#3e26a8"/><rect x="844.4" y="60.2" width="24" height="23.2" fill="#402ab4"/><rect x="867.8" y="60.2" width="24" height="23.2" fill="#3e26a8"/><rect x="891.1" y="60.2" width="24" height="23.2" fill="#3e26a8"/><rect x="914.4" y="60.2" width="24" height="23.2" fill="#3e26a8"/><rect x="937.8" y="60.2" width="24" height="23.2" fill="#3e26a8"/><rect x="961.1" y="60.2" width="24" height="23.2" fill="#402ab4"/><rect x="984.5" y="60.2" width="24" height="23.2" fill="#3e26a8"/><rect x="1007.8" y="60.2" width="24" height="23.2" fill="#3e26a8"/><rect x="1031.2" y="60.2" width="24" height="23.2" fill="#3e26a8"/><rect x="1054.5" y="60.2" width="24" height="23.2" fill="#3e26a8"/><rect x="1077.9" y="60.2" width="24" height="23.2" fill="#3e26a8"/><rect x="1101.2" y="60.2" width="24" height="23.2" fill="#3e26a8"/><rect x="1124.6" y="60.2" width="24" height="23.2" fill="#3e26a8"/><rect x="1148" y="60.2" width="24" height="23.2" fill="#402ab4"/><rect x="1171.3" y="60.2" width="24" height="23.2" fill="#402ab4"/><rect x="1194.7" y="60.2" width="24" height="23.2" fill="#402ab4"/><rect x="1218" y="60.2" width="24" height="23.2" fill="#3e26a8"/><rect x="704.3" y="82.8" width="24" height="23.2" fill="#402ab4"/><rect x="727.6" y="82.8" width="24" height="23.2" fill="#3e26a8"/><rect x="751" y="82.8" width="24" height="23.2" fill="#3e26a8"/><rect x="774.3" y="82.8" width="24" height="23.2" fill="#3e26a8"/><rect x="797.7" y="82.8" width="24" height="23.2" fill="#3e26a8"/><rect x="821" y="82.8" width="24" height="23.2" fill="#402ab4"/><rect x="844.4" y="82.8" width="24" height="23.2" fill="#402ab4"/><rect x="867.8" y="82.8" width="24" height="23.2" fill="#402ab4"/><rect x="891.1" y="82.8" width="24" height="23.2" fill="#3e26a8"/><rect x="914.4" y="82.8" width="24" height="23.2" fill="#3e26a8"/><rect x="937.8" y="82.8" width="24" height="23.2" fill="#3e26a8"/><rect x="961.1" y="82.8" width="24" height="23.2" fill="#402ab4"/><rect x="984.5" y="82.8" width="24" height="23.2" fill="#3e26a8"/><rect x="1007.8" y="82.8" width="24" height="23.2" fill="#3e26a8"/><rect x="1031.2" y="82.8" width="24" height="23.2" fill="#402ab4"/><rect x="1054.5" y="82.8" width="24" height="23.2" fill="#3e26a8"/><rect x="1077.9" y="82.8" width="24" height="23.2" fill="#402ab4"/><rect x="1101.2" y="82.8" width="24" height="23.2" fill="#402ab4"/><rect x="1124.6" y="82.8" width="24" height="23.2" fill="#3e26a8"/><rect x="1148" y="82.8" width="24" height="23.2" fill="#422ec0"/><rect x="1171.3" y="82.8" width="24" height="23.2" fill="#3e26a8"/><rect x="1194.7" y="82.8" width="24" height="23.2" fill="#402ab4"/><rect x="1218" y="82.8" width="24" height="23.2" fill="#402ab4"/><rect x="704.3" y="105.4" width="24" height="23.2" fill="#3e26a8"/><rect x="727.6" y="105.4" width="24" height="23.2" fill="#3e26a8"/><rect x="751" y="105.4" width="24" height="23.2" fill="#3e26a8"/><rect x="774.3" y="105.4" width="24" height="23.2" fill="#402ab4"/><rect x="797.7" y="105.4" width="24" height="23.2" fill="#3e26a8"/><rect x="821" y="105.4" width="24" height="23.2" fill="#402ab4"/><rect x="844.4" y="105.4" width="24" height="23.2" fill="#402ab4"/><rect x="867.8" y="105.4" width="24" height="23.2" fill="#3e26a8"/><rect x="891.1" y="105.4" width="24" height="23.2" fill="#402ab4"/><rect x="914.4" y="105.4" width="24" height="23.2" fill="#422ec0"/><rect x="937.8" y="105.4" width="24" height="23.2" fill="#3e26a8"/><rect x="961.1" y="105.4" width="24" height="23.2" fill="#422ec0"/><rect x="984.5" y="105.4" width="24" height="23.2" fill="#3e26a8"/><rect x="1007.8" y="105.4" width="24" height="23.2" fill="#3e26a8"/><rect x="1031.2" y="105.4" width="24" height="23.2" fill="#402ab4"/><rect x="1054.5" y="105.4" width="24" height="23.2" fill="#3e26a8"/><rect x="1077.9" y="105.4" width="24" height="23.2" fill="#3e26a8"/><rect x="1101.2" y="105.4" width="24" height="23.2" fill="#3e26a8"/><rect x="1124.6" y="105.4" width="24" height="23.2" fill="#402ab4"/><rect x="1148" y="105.4" width="24" height="23.2" fill="#402ab4"/><rect x="1171.3" y="105.4" width="24" height="23.2" fill="#402ab4"/><rect x="1194.7" y="105.4" width="24" height="23.2" fill="#402ab4"/><rect x="1218" y="105.4" width="24" height="23.2" fill="#402ab4"/><rect x="704.3" y="128" width="24" height="23.2" fill="#402ab4"/><rect x="727.6" y="128" width="24" height="23.2" fill="#3e26a8"/><rect x="751" y="128" width="24" height="23.2" fill="#3e26a8"/><rect x="774.3" y="128" width="24" height="23.2" fill="#402ab4"/><rect x="797.7" y="128" width="24" height="23.2" fill="#3e26a8"/><rect x="821" y="128" width="24" height="23.2" fill="#3e26a8"/><rect x="844.4" y="128" width="24" height="23.2" fill="#3e26a8"/><rect x="867.8" y="128" width="24" height="23.2" fill="#3e26a8"/><rect x="891.1" y="128" width="24" height="23.2" fill="#402ab4"/><rect x="914.4" y="128" width="24" height="23.2" fill="#3e26a8"/><rect x="937.8" y="128" width="24" height="23.2" fill="#3e26a8"/><rect x="961.1" y="128" width="24" height="23.2" fill="#3e26a8"/><rect x="984.5" y="128" width="24" height="23.2" fill="#3e26a8"/><rect x="1007.8" y="128" width="24" height="23.2" fill="#3e26a8"/><rect x="1031.2" y="128" width="24" height="23.2" fill="#3e26a8"/><rect x="1054.5" y="128" width="24" height="23.2" fill="#3e26a8"/><rect x="1077.9" y="128" width="24" height="23.2" fill="#422ec0"/><rect x="1101.2" y="128" width="24" height="23.2" fill="#402ab4"/><rect x="1124.6" y="128" width="24" height="23.2" fill="#3e26a8"/><rect x="1148" y="128" width="24" height="23.2" fill="#3e26a8"/><rect x="1171.3" y="128" width="24" height="23.2" fill="#3e26a8"/><rect x="1194.7" y="128" width="24" height="23.2" fill="#3e26a8"/><rect x="1218" y="128" width="24" height="23.2" fill="#3e26a8"/><rect x="704.3" y="150.6" width="24" height="23.2" fill="#402ab4"/><rect x="727.6" y="150.6" width="24" height="23.2" fill="#402ab4"/><rect x="751" y="150.6" width="24" height="23.2" fill="#3e26a8"/><rect x="774.3" y="150.6" width="24" height="23.2" fill="#402ab4"/><rect x="797.7" y="150.6" width="24" height="23.2" fill="#402ab4"/><rect x="821" y="150.6" width="24" height="23.2" fill="#402ab4"/><rect x="844.4" y="150.6" width="24" height="23.2" fill="#3e26a8"/><rect x="867.8" y="150.6" width="24" height="23.2" fill="#402ab4"/><rect x="891.1" y="150.6" width="24" height="23.2" fill="#3e26a8"/><rect x="914.4" y="150.6" width="24" height="23.2" fill="#402ab4"/><rect x="937.8" y="150.6" width="24" height="23.2" fill="#3e26a8"/><rect x="961.1" y="150.6" width="24" height="23.2" fill="#402ab4"/><rect x="984.5" y="150.6" width="24" height="23.2" fill="#3e26a8"/><rect x="1007.8" y="150.6" width="24" height="23.2" fill="#3e26a8"/><rect x="1031.2" y="150.6" width="24" height="23.2" fill="#3e26a8"/><rect x="1054.5" y="150.6" width="24" height="23.2" fill="#3e26a8"/><rect x="1077.9" y="150.6" width="24" height="23.2" fill="#3e26a8"/><rect x="1101.2" y="150.6" width="24" height="23.2" fill="#422ec0"/><rect x="1124.6" y="150.6" width="24" height="23.2" fill="#3e26a8"/><rect x="1148" y="150.6" width="24" height="23.2" fill="#422ec0"/><rect x="1171.3" y="150.6" width="24" height="23.2" fill="#3e26a8"/><rect x="1194.7" y="150.6" width="24" height="23.2" fill="#402ab4"/><rect x="1218" y="150.6" width="24" height="23.2" fill="#3e26a8"/><rect x="704.3" y="173.2" width="24" height="23.2" fill="#402ab4"/><rect x="727.6" y="173.2" width="24" height="23.2" fill="#3e26a8"/><rect x="751" y="173.2" width="24" height="23.2" fill="#3e26a8"/><rect x="774.3" y="173.2" width="24" height="23.2" fill="#402ab4"/><rect x="797.7" y="173.2" width="24" height="23.2" fill="#3e26a8"/><rect x="821" y="173.2" width="24" height="23.2" fill="#3e26a8"/><rect x="844.4" y="173.2" width="24" height="23.2" fill="#402ab4"/><rect x="867.8" y="173.2" width="24" height="23.2" fill="#3e26a8"/><rect x="891.1" y="173.2" width="24" height="23.2" fill="#3e26a8"/><rect x="914.4" y="173.2" width="24" height="23.2" fill="#3e26a8"/><rect x="937.8" y="173.2" width="24" height="23.2" fill="#402ab4"/><rect x="961.1" y="173.2" width="24" height="23.2" fill="#402ab4"/><rect x="984.5" y="173.2" width="24" height="23.2" fill="#3e26a8"/><rect x="1007.8" y="173.2" width="24" height="23.2" fill="#3e26a8"/><rect x="1031.2" y="173.2" width="24" height="23.2" fill="#3e26a8"/><rect x="1054.5" y="173.2" width="24" height="23.2" fill="#402ab4"/><rect x="1077.9" y="173.2" width="24" height="23.2" fill="#402ab4"/><rect x="1101.2" y="173.2" width="24" height="23.2" fill="#3e26a8"/><rect x="1124.6" y="173.2" width="24" height="23.2" fill="#3e26a8"/><rect x="1148" y="173.2" width="24" height="23.2" fill="#422ec0"/><rect x="1171.3" y="173.2" width="24" height="23.2" fill="#3e26a8"/><rect x="1194.7" y="173.2" width="24" height="23.2" fill="#3e26a8"/><rect x="1218" y="173.2" width="24" height="23.2" fill="#3e26a8"/><rect x="704.3" y="195.8" width="24" height="23.2" fill="#402ab4"/><rect x="727.6" y="195.8" width="24" height="23.2" fill="#402ab4"/><rect x="751" y="195.8" width="24" height="23.2" fill="#3e26a8"/><rect x="774.3" y="195.8" width="24" height="23.2" fill="#402ab4"/><rect x="797.7" y="195.8" width="24" height="23.2" fill="#402ab4"/><rect x="821" y="195.8" width="24" height="23.2" fill="#3e26a8"/><rect x="844.4" y="195.8" width="24" height="23.2" fill="#3e26a8"/><rect x="867.8" y="195.8" width="24" height="23.2" fill="#3e26a8"/><rect x="891.1" y="195.8" width="24" height="23.2" fill="#3e26a8"/><rect x="914.4" y="195.8" width="24" height="23.2" fill="#402ab4"/><rect x="937.8" y="195.8" width="24" height="23.2" fill="#3e26a8"/><rect x="961.1" y="195.8" width="24" height="23.2" fill="#402ab4"/><rect x="984.5" y="195.8" width="24" height="23.2" fill="#402ab4"/><rect x="1007.8" y="195.8" width="24" height="23.2" fill="#3e26a8"/><rect x="1031.2" y="195.8" width="24" height="23.2" fill="#3e26a8"/><rect x="1054.5" y="195.8" width="24" height="23.2" fill="#3e26a8"/><rect x="1077.9" y="195.8" width="24" height="23.2" fill="#3e26a8"/><rect x="1101.2" y="195.8" width="24" height="23.2" fill="#3e26a8"/><rect x="1124.6" y="195.8" width="24" height="23.2" fill="#3e26a8"/><rect x="1148" y="195.8" width="24" height="23.2" fill="#3e26a8"/><rect x="1171.3" y="195.8" width="24" height="23.2" fill="#3e26a8"/><rect x="1194.7" y="195.8" width="24" height="23.2" fill="#402ab4"/><rect x="1218" y="195.8" width="24" height="23.2" fill="#3e26a8"/><rect x="704.3" y="218.4" width="24" height="23.2" fill="#3e26a8"/><rect x="727.6" y="218.4" width="24" height="23.2" fill="#402ab4"/><rect x="751" y="218.4" width="24" height="23.2" fill="#3e26a8"/><rect x="774.3" y="218.4" width="24" height="23.2" fill="#3e26a8"/><rect x="797.7" y="218.4" width="24" height="23.2" fill="#402ab4"/><rect x="821" y="218.4" width="24" height="23.2" fill="#402ab4"/><rect x="844.4" y="218.4" width="24" height="23.2" fill="#402ab4"/><rect x="867.8" y="218.4" width="24" height="23.2" fill="#4432cb"/><rect x="891.1" y="218.4" width="24" height="23.2" fill="#3e26a8"/><rect x="914.4" y="218.4" width="24" height="23.2" fill="#3e26a8"/><rect x="937.8" y="218.4" width="24" height="23.2" fill="#3e26a8"/><rect x="961.1" y="218.4" width="24" height="23.2" fill="#402ab4"/><rect x="984.5" y="218.4" width="24" height="23.2" fill="#402ab4"/><rect x="1007.8" y="218.4" width="24" height="23.2" fill="#3e26a8"/><rect x="1031.2" y="218.4" width="24" height="23.2" fill="#3e26a8"/><rect x="1054.5" y="218.4" width="24" height="23.2" fill="#402ab4"/><rect x="1077.9" y="218.4" width="24" height="23.2" fill="#402ab4"/><rect x="1101.2" y="218.4" width="24" height="23.2" fill="#402ab4"/><rect x="1124.6" y="218.4" width="24" height="23.2" fill="#3e26a8"/><rect x="1148" y="218.4" width="24" height="23.2" fill="#3e26a8"/><rect x="1171.3" y="218.4" width="24" height="23.2" fill="#3e26a8"/><rect x="1194.7" y="218.4" width="24" height="23.2" fill="#3e26a8"/><rect x="1218" y="218.4" width="24" height="23.2" fill="#3e26a8"/><rect x="704.3" y="241" width="24" height="23.2" fill="#3e26a8"/><rect x="727.6" y="241" width="24" height="23.2" fill="#402ab4"/><rect x="751" y="241" width="24" height="23.2" fill="#402ab4"/><rect x="774.3" y="241" width="24" height="23.2" fill="#3e26a8"/><rect x="797.7" y="241" width="24" height="23.2" fill="#484df0"/><rect x="821" y="241" width="24" height="23.2" fill="#3e26a8"/><rect x="844.4" y="241" width="24" height="23.2" fill="#402ab4"/><rect x="867.8" y="241" width="24" height="23.2" fill="#4432cb"/><rect x="891.1" y="241" width="24" height="23.2" fill="#4432cb"/><rect x="914.4" y="241" width="24" height="23.2" fill="#402ab4"/><rect x="937.8" y="241" width="24" height="23.2" fill="#3e26a8"/><rect x="961.1" y="241" width="24" height="23.2" fill="#3e26a8"/><rect x="984.5" y="241" width="24" height="23.2" fill="#4563fd"/><rect x="1007.8" y="241" width="24" height="23.2" fill="#402ab4"/><rect x="1031.2" y="241" width="24" height="23.2" fill="#402ab4"/><rect x="1054.5" y="241" width="24" height="23.2" fill="#402ab4"/><rect x="1077.9" y="241" width="24" height="23.2" fill="#3e26a8"/><rect x="1101.2" y="241" width="24" height="23.2" fill="#402ab4"/><rect x="1124.6" y="241" width="24" height="23.2" fill="#3e26a8"/><rect x="1148" y="241" width="24" height="23.2" fill="#484df0"/><rect x="1171.3" y="241" width="24" height="23.2" fill="#4537d5"/><rect x="1194.7" y="241" width="24" height="23.2" fill="#402ab4"/><rect x="1218" y="241" width="24" height="23.2" fill="#402ab4"/><rect x="704.3" y="263.6" width="24" height="23.2" fill="#402ab4"/><rect x="727.6" y="263.6" width="24" height="23.2" fill="#3e26a8"/><rect x="751" y="263.6" width="24" height="23.2" fill="#402ab4"/><rect x="774.3" y="263.6" width="24" height="23.2" fill="#463cde"/><rect x="797.7" y="263.6" width="24" height="23.2" fill="#463cde"/><rect x="821" y="263.6" width="24" height="23.2" fill="#4758f8"/><rect x="844.4" y="263.6" width="24" height="23.2" fill="#4563fd"/><rect x="867.8" y="263.6" width="24" height="23.2" fill="#402ab4"/><rect x="891.1" y="263.6" width="24" height="23.2" fill="#3e26a8"/><rect x="914.4" y="263.6" width="24" height="23.2" fill="#4537d5"/><rect x="937.8" y="263.6" width="24" height="23.2" fill="#3e26a8"/><rect x="961.1" y="263.6" width="24" height="23.2" fill="#3e26a8"/><rect x="984.5" y="263.6" width="24" height="23.2" fill="#402ab4"/><rect x="1007.8" y="263.6" width="24" height="23.2" fill="#402ab4"/><rect x="1031.2" y="263.6" width="24" height="23.2" fill="#4432cb"/><rect x="1054.5" y="263.6" width="24" height="23.2" fill="#402ab4"/><rect x="1077.9" y="263.6" width="24" height="23.2" fill="#3e26a8"/><rect x="1101.2" y="263.6" width="24" height="23.2" fill="#3e26a8"/><rect x="1124.6" y="263.6" width="24" height="23.2" fill="#402ab4"/><rect x="1148" y="263.6" width="24" height="23.2" fill="#3e26a8"/><rect x="1171.3" y="263.6" width="24" height="23.2" fill="#4537d5"/><rect x="1194.7" y="263.6" width="24" height="23.2" fill="#484df0"/><rect x="1218" y="263.6" width="24" height="23.2" fill="#4432cb"/><rect x="704.3" y="286.2" width="24" height="23.2" fill="#402ab4"/><rect x="727.6" y="286.2" width="24" height="23.2" fill="#3e26a8"/><rect x="751" y="286.2" width="24" height="23.2" fill="#3e26a8"/><rect x="774.3" y="286.2" width="24" height="23.2" fill="#3e26a8"/><rect x="797.7" y="286.2" width="24" height="23.2" fill="#3e26a8"/><rect x="821" y="286.2" width="24" height="23.2" fill="#402ab4"/><rect x="844.4" y="286.2" width="24" height="23.2" fill="#402ab4"/><rect x="867.8" y="286.2" width="24" height="23.2" fill="#3e26a8"/><rect x="891.1" y="286.2" width="24" height="23.2" fill="#3e26a8"/><rect x="914.4" y="286.2" width="24" height="23.2" fill="#3e26a8"/><rect x="937.8" y="286.2" width="24" height="23.2" fill="#422ec0"/><rect x="961.1" y="286.2" width="24" height="23.2" fill="#3e26a8"/><rect x="984.5" y="286.2" width="24" height="23.2" fill="#3e26a8"/><rect x="1007.8" y="286.2" width="24" height="23.2" fill="#3e26a8"/><rect x="1031.2" y="286.2" width="24" height="23.2" fill="#3e26a8"/><rect x="1054.5" y="286.2" width="24" height="23.2" fill="#402ab4"/><rect x="1077.9" y="286.2" width="24" height="23.2" fill="#4432cb"/><rect x="1101.2" y="286.2" width="24" height="23.2" fill="#402ab4"/><rect x="1124.6" y="286.2" width="24" height="23.2" fill="#3e26a8"/><rect x="1148" y="286.2" width="24" height="23.2" fill="#402ab4"/><rect x="1171.3" y="286.2" width="24" height="23.2" fill="#402ab4"/><rect x="1194.7" y="286.2" width="24" height="23.2" fill="#402ab4"/><rect x="1218" y="286.2" width="24" height="23.2" fill="#3e26a8"/><rect x="704.3" y="308.8" width="24" height="23.2" fill="#422ec0"/><rect x="727.6" y="308.8" width="24" height="23.2" fill="#3e26a8"/><rect x="751" y="308.8" width="24" height="23.2" fill="#3e26a8"/><rect x="774.3" y="308.8" width="24" height="23.2" fill="#3e26a8"/><rect x="797.7" y="308.8" width="24" height="23.2" fill="#402ab4"/><rect x="821" y="308.8" width="24" height="23.2" fill="#402ab4"/><rect x="844.4" y="308.8" width="24" height="23.2" fill="#3e26a8"/><rect x="867.8" y="308.8" width="24" height="23.2" fill="#422ec0"/><rect x="891.1" y="308.8" width="24" height="23.2" fill="#402ab4"/><rect x="914.4" y="308.8" width="24" height="23.2" fill="#402ab4"/><rect x="937.8" y="308.8" width="24" height="23.2" fill="#402ab4"/><rect x="961.1" y="308.8" width="24" height="23.2" fill="#402ab4"/><rect x="984.5" y="308.8" width="24" height="23.2" fill="#3e26a8"/><rect x="1007.8" y="308.8" width="24" height="23.2" fill="#3e26a8"/><rect x="1031.2" y="308.8" width="24" height="23.2" fill="#3e26a8"/><rect x="1054.5" y="308.8" width="24" height="23.2" fill="#463cde"/><rect x="1077.9" y="308.8" width="24" height="23.2" fill="#402ab4"/><rect x="1101.2" y="308.8" width="24" height="23.2" fill="#3e26a8"/><rect x="1124.6" y="308.8" width="24" height="23.2" fill="#3e26a8"/><rect x="1148" y="308.8" width="24" height="23.2" fill="#3e26a8"/><rect x="1171.3" y="308.8" width="24" height="23.2" fill="#402ab4"/><rect x="1194.7" y="308.8" width="24" height="23.2" fill="#402ab4"/><rect x="1218" y="308.8" width="24" height="23.2" fill="#3e26a8"/><rect x="704.3" y="331.4" width="24" height="23.2" fill="#3e26a8"/><rect x="727.6" y="331.4" width="24" height="23.2" fill="#402ab4"/><rect x="751" y="331.4" width="24" height="23.2" fill="#3e26a8"/><rect x="774.3" y="331.4" width="24" height="23.2" fill="#3e26a8"/><rect x="797.7" y="331.4" width="24" height="23.2" fill="#402ab4"/><rect x="821" y="331.4" width="24" height="23.2" fill="#402ab4"/><rect x="844.4" y="331.4" width="24" height="23.2" fill="#3e26a8"/><rect x="867.8" y="331.4" width="24" height="23.2" fill="#3e26a8"/><rect x="891.1" y="331.4" width="24" height="23.2" fill="#402ab4"/><rect x="914.4" y="331.4" width="24" height="23.2" fill="#3e26a8"/><rect x="937.8" y="331.4" width="24" height="23.2" fill="#3e26a8"/><rect x="961.1" y="331.4" width="24" height="23.2" fill="#3e26a8"/><rect x="984.5" y="331.4" width="24" height="23.2" fill="#3e26a8"/><rect x="1007.8" y="331.4" width="24" height="23.2" fill="#3e26a8"/><rect x="1031.2" y="331.4" width="24" height="23.2" fill="#3e26a8"/><rect x="1054.5" y="331.4" width="24" height="23.2" fill="#3e26a8"/><rect x="1077.9" y="331.4" width="24" height="23.2" fill="#402ab4"/><rect x="1101.2" y="331.4" width="24" height="23.2" fill="#402ab4"/><rect x="1124.6" y="331.4" width="24" height="23.2" fill="#3e26a8"/><rect x="1148" y="331.4" width="24" height="23.2" fill="#402ab4"/><rect x="1171.3" y="331.4" width="24" height="23.2" fill="#402ab4"/><rect x="1194.7" y="331.4" width="24" height="23.2" fill="#3e26a8"/><rect x="1218" y="331.4" width="24" height="23.2" fill="#3e26a8"/><rect x="704.3" y="354" width="24" height="23.2" fill="#402ab4"/><rect x="727.6" y="354" width="24" height="23.2" fill="#402ab4"/><rect x="751" y="354" width="24" height="23.2" fill="#4537d5"/><rect x="774.3" y="354" width="24" height="23.2" fill="#3e26a8"/><rect x="797.7" y="354" width="24" height="23.2" fill="#463cde"/><rect x="821" y="354" width="24" height="23.2" fill="#463cde"/><rect x="844.4" y="354" width="24" height="23.2" fill="#3e26a8"/><rect x="867.8" y="354" width="24" height="23.2" fill="#402ab4"/><rect x="891.1" y="354" width="24" height="23.2" fill="#463cde"/><rect x="914.4" y="354" width="24" height="23.2" fill="#463cde"/><rect x="937.8" y="354" width="24" height="23.2" fill="#4741e5"/><rect x="961.1" y="354" width="24" height="23.2" fill="#402ab4"/><rect x="984.5" y="354" width="24" height="23.2" fill="#4537d5"/><rect x="1007.8" y="354" width="24" height="23.2" fill="#463cde"/><rect x="1031.2" y="354" width="24" height="23.2" fill="#402ab4"/><rect x="1054.5" y="354" width="24" height="23.2" fill="#3e26a8"/><rect x="1077.9" y="354" width="24" height="23.2" fill="#402ab4"/><rect x="1101.2" y="354" width="24" height="23.2" fill="#3e26a8"/><rect x="1124.6" y="354" width="24" height="23.2" fill="#4537d5"/><rect x="1148" y="354" width="24" height="23.2" fill="#402ab4"/><rect x="1171.3" y="354" width="24" height="23.2" fill="#463cde"/><rect x="1194.7" y="354" width="24" height="23.2" fill="#4432cb"/><rect x="1218" y="354" width="24" height="23.2" fill="#402ab4"/><rect x="704.3" y="376.6" width="24" height="23.2" fill="#3e26a8"/><rect x="727.6" y="376.6" width="24" height="23.2" fill="#3e26a8"/><rect x="751" y="376.6" width="24" height="23.2" fill="#3e26a8"/><rect x="774.3" y="376.6" width="24" height="23.2" fill="#3e26a8"/><rect x="797.7" y="376.6" width="24" height="23.2" fill="#402ab4"/><rect x="821" y="376.6" width="24" height="23.2" fill="#402ab4"/><rect x="844.4" y="376.6" width="24" height="23.2" fill="#3e26a8"/><rect x="867.8" y="376.6" width="24" height="23.2" fill="#3e26a8"/><rect x="891.1" y="376.6" width="24" height="23.2" fill="#3e26a8"/><rect x="914.4" y="376.6" width="24" height="23.2" fill="#402ab4"/><rect x="937.8" y="376.6" width="24" height="23.2" fill="#4432cb"/><rect x="961.1" y="376.6" width="24" height="23.2" fill="#3e26a8"/><rect x="984.5" y="376.6" width="24" height="23.2" fill="#3e26a8"/><rect x="1007.8" y="376.6" width="24" height="23.2" fill="#422ec0"/><rect x="1031.2" y="376.6" width="24" height="23.2" fill="#3e26a8"/><rect x="1054.5" y="376.6" width="24" height="23.2" fill="#3e26a8"/><rect x="1077.9" y="376.6" width="24" height="23.2" fill="#3e26a8"/><rect x="1101.2" y="376.6" width="24" height="23.2" fill="#3e26a8"/><rect x="1124.6" y="376.6" width="24" height="23.2" fill="#3e26a8"/><rect x="1148" y="376.6" width="24" height="23.2" fill="#402ab4"/><rect x="1171.3" y="376.6" width="24" height="23.2" fill="#402ab4"/><rect x="1194.7" y="376.6" width="24" height="23.2" fill="#3e26a8"/><rect x="1218" y="376.6" width="24" height="23.2" fill="#3e26a8"/><rect x="704.3" y="399.2" width="24" height="23.2" fill="#402ab4"/><rect x="727.6" y="399.2" width="24" height="23.2" fill="#3e26a8"/><rect x="751" y="399.2" width="24" height="23.2" fill="#3e26a8"/><rect x="774.3" y="399.2" width="24" height="23.2" fill="#402ab4"/><rect x="797.7" y="399.2" width="24" height="23.2" fill="#402ab4"/><rect x="821" y="399.2" width="24" height="23.2" fill="#402ab4"/><rect x="844.4" y="399.2" width="24" height="23.2" fill="#422ec0"/><rect x="867.8" y="399.2" width="24" height="23.2" fill="#3e26a8"/><rect x="891.1" y="399.2" width="24" height="23.2" fill="#3e26a8"/><rect x="914.4" y="399.2" width="24" height="23.2" fill="#3e26a8"/><rect x="937.8" y="399.2" width="24" height="23.2" fill="#402ab4"/><rect x="961.1" y="399.2" width="24" height="23.2" fill="#3e26a8"/><rect x="984.5" y="399.2" width="24" height="23.2" fill="#3e26a8"/><rect x="1007.8" y="399.2" width="24" height="23.2" fill="#3e26a8"/><rect x="1031.2" y="399.2" width="24" height="23.2" fill="#402ab4"/><rect x="1054.5" y="399.2" width="24" height="23.2" fill="#402ab4"/><rect x="1077.9" y="399.2" width="24" height="23.2" fill="#3e26a8"/><rect x="1101.2" y="399.2" width="24" height="23.2" fill="#3e26a8"/><rect x="1124.6" y="399.2" width="24" height="23.2" fill="#3e26a8"/><rect x="1148" y="399.2" width="24" height="23.2" fill="#422ec0"/><rect x="1171.3" y="399.2" width="24" height="23.2" fill="#402ab4"/><rect x="1194.7" y="399.2" width="24" height="23.2" fill="#402ab4"/><rect x="1218" y="399.2" width="24" height="23.2" fill="#402ab4"/><rect x="704.3" y="421.8" width="24" height="23.2" fill="#3e26a8"/><rect x="727.6" y="421.8" width="24" height="23.2" fill="#3e26a8"/><rect x="751" y="421.8" width="24" height="23.2" fill="#3e26a8"/><rect x="774.3" y="421.8" width="24" height="23.2" fill="#3e26a8"/><rect x="797.7" y="421.8" width="24" height="23.2" fill="#3e26a8"/><rect x="821" y="421.8" width="24" height="23.2" fill="#3e26a8"/><rect x="844.4" y="421.8" width="24" height="23.2" fill="#402ab4"/><rect x="867.8" y="421.8" width="24" height="23.2" fill="#3e26a8"/><rect x="891.1" y="421.8" width="24" height="23.2" fill="#3e26a8"/><rect x="914.4" y="421.8" width="24" height="23.2" fill="#3e26a8"/><rect x="937.8" y="421.8" width="24" height="23.2" fill="#3e26a8"/><rect x="961.1" y="421.8" width="24" height="23.2" fill="#402ab4"/><rect x="984.5" y="421.8" width="24" height="23.2" fill="#3e26a8"/><rect x="1007.8" y="421.8" width="24" height="23.2" fill="#3e26a8"/><rect x="1031.2" y="421.8" width="24" height="23.2" fill="#3e26a8"/><rect x="1054.5" y="421.8" width="24" height="23.2" fill="#3e26a8"/><rect x="1077.9" y="421.8" width="24" height="23.2" fill="#3e26a8"/><rect x="1101.2" y="421.8" width="24" height="23.2" fill="#3e26a8"/><rect x="1124.6" y="421.8" width="24" height="23.2" fill="#3e26a8"/><rect x="1148" y="421.8" width="24" height="23.2" fill="#402ab4"/><rect x="1171.3" y="421.8" width="24" height="23.2" fill="#402ab4"/><rect x="1194.7" y="421.8" width="24" height="23.2" fill="#402ab4"/><rect x="1218" y="421.8" width="24" height="23.2" fill="#3e26a8"/><rect x="704.3" y="444.4" width="24" height="23.2" fill="#402ab4"/><rect x="727.6" y="444.4" width="24" height="23.2" fill="#402ab4"/><rect x="751" y="444.4" width="24" height="23.2" fill="#402ab4"/><rect x="774.3" y="444.4" width="24" height="23.2" fill="#402ab4"/><rect x="797.7" y="444.4" width="24" height="23.2" fill="#3e26a8"/><rect x="821" y="444.4" width="24" height="23.2" fill="#3e26a8"/><rect x="844.4" y="444.4" width="24" height="23.2" fill="#402ab4"/><rect x="867.8" y="444.4" width="24" height="23.2" fill="#402ab4"/><rect x="891.1" y="444.4" width="24" height="23.2" fill="#402ab4"/><rect x="914.4" y="444.4" width="24" height="23.2" fill="#3e26a8"/><rect x="937.8" y="444.4" width="24" height="23.2" fill="#402ab4"/><rect x="961.1" y="444.4" width="24" height="23.2" fill="#402ab4"/><rect x="984.5" y="444.4" width="24" height="23.2" fill="#3e26a8"/><rect x="1007.8" y="444.4" width="24" height="23.2" fill="#3e26a8"/><rect x="1031.2" y="444.4" width="24" height="23.2" fill="#3e26a8"/><rect x="1054.5" y="444.4" width="24" height="23.2" fill="#3e26a8"/><rect x="1077.9" y="444.4" width="24" height="23.2" fill="#422ec0"/><rect x="1101.2" y="444.4" width="24" height="23.2" fill="#3e26a8"/><rect x="1124.6" y="444.4" width="24" height="23.2" fill="#402ab4"/><rect x="1148" y="444.4" width="24" height="23.2" fill="#3e26a8"/><rect x="1171.3" y="444.4" width="24" height="23.2" fill="#422ec0"/><rect x="1194.7" y="444.4" width="24" height="23.2" fill="#402ab4"/><rect x="1218" y="444.4" width="24" height="23.2" fill="#3e26a8"/><rect x="704.3" y="467" width="24" height="23.2" fill="#3e26a8"/><rect x="727.6" y="467" width="24" height="23.2" fill="#402ab4"/><rect x="751" y="467" width="24" height="23.2" fill="#3e26a8"/><rect x="774.3" y="467" width="24" height="23.2" fill="#3e26a8"/><rect x="797.7" y="467" width="24" height="23.2" fill="#4537d5"/><rect x="821" y="467" width="24" height="23.2" fill="#3e26a8"/><rect x="844.4" y="467" width="24" height="23.2" fill="#402ab4"/><rect x="867.8" y="467" width="24" height="23.2" fill="#3e26a8"/><rect x="891.1" y="467" width="24" height="23.2" fill="#422ec0"/><rect x="914.4" y="467" width="24" height="23.2" fill="#3e26a8"/><rect x="937.8" y="467" width="24" height="23.2" fill="#3e26a8"/><rect x="961.1" y="467" width="24" height="23.2" fill="#3e26a8"/><rect x="984.5" y="467" width="24" height="23.2" fill="#3e26a8"/><rect x="1007.8" y="467" width="24" height="23.2" fill="#3e26a8"/><rect x="1031.2" y="467" width="24" height="23.2" fill="#402ab4"/><rect x="1054.5" y="467" width="24" height="23.2" fill="#402ab4"/><rect x="1077.9" y="467" width="24" height="23.2" fill="#402ab4"/><rect x="1101.2" y="467" width="24" height="23.2" fill="#3e26a8"/><rect x="1124.6" y="467" width="24" height="23.2" fill="#3e26a8"/><rect x="1148" y="467" width="24" height="23.2" fill="#3e26a8"/><rect x="1171.3" y="467" width="24" height="23.2" fill="#3e26a8"/><rect x="1194.7" y="467" width="24" height="23.2" fill="#3e26a8"/><rect x="1218" y="467" width="24" height="23.2" fill="#402ab4"/><rect x="704.3" y="489.6" width="24" height="23.2" fill="#402ab4"/><rect x="727.6" y="489.6" width="24" height="23.2" fill="#402ab4"/><rect x="751" y="489.6" width="24" height="23.2" fill="#3e26a8"/><rect x="774.3" y="489.6" width="24" height="23.2" fill="#402ab4"/><rect x="797.7" y="489.6" width="24" height="23.2" fill="#3e26a8"/><rect x="821" y="489.6" width="24" height="23.2" fill="#3e26a8"/><rect x="844.4" y="489.6" width="24" height="23.2" fill="#3e26a8"/><rect x="867.8" y="489.6" width="24" height="23.2" fill="#402ab4"/><rect x="891.1" y="489.6" width="24" height="23.2" fill="#402ab4"/><rect x="914.4" y="489.6" width="24" height="23.2" fill="#3e26a8"/><rect x="937.8" y="489.6" width="24" height="23.2" fill="#402ab4"/><rect x="961.1" y="489.6" width="24" height="23.2" fill="#402ab4"/><rect x="984.5" y="489.6" width="24" height="23.2" fill="#3e26a8"/><rect x="1007.8" y="489.6" width="24" height="23.2" fill="#402ab4"/><rect x="1031.2" y="489.6" width="24" height="23.2" fill="#3e26a8"/><rect x="1054.5" y="489.6" width="24" height="23.2" fill="#3e26a8"/><rect x="1077.9" y="489.6" width="24" height="23.2" fill="#402ab4"/><rect x="1101.2" y="489.6" width="24" height="23.2" fill="#3e26a8"/><rect x="1124.6" y="489.6" width="24" height="23.2" fill="#3e26a8"/><rect x="1148" y="489.6" width="24" height="23.2" fill="#4537d5"/><rect x="1171.3" y="489.6" width="24" height="23.2" fill="#3e26a8"/><rect x="1194.7" y="489.6" width="24" height="23.2" fill="#3e26a8"/><rect x="1218" y="489.6" width="24" height="23.2" fill="#3e26a8"/><rect x="704.3" y="512.2" width="24" height="23.2" fill="#3e26a8"/><rect x="727.6" y="512.2" width="24" height="23.2" fill="#402ab4"/><rect x="751" y="512.2" width="24" height="23.2" fill="#3e26a8"/><rect x="774.3" y="512.2" width="24" height="23.2" fill="#3e26a8"/><rect x="797.7" y="512.2" width="24" height="23.2" fill="#402ab4"/><rect x="821" y="512.2" width="24" height="23.2" fill="#402ab4"/><rect x="844.4" y="512.2" width="24" height="23.2" fill="#3e26a8"/><rect x="867.8" y="512.2" width="24" height="23.2" fill="#3e26a8"/><rect x="891.1" y="512.2" width="24" height="23.2" fill="#402ab4"/><rect x="914.4" y="512.2" width="24" height="23.2" fill="#3e26a8"/><rect x="937.8" y="512.2" width="24" height="23.2" fill="#3e26a8"/><rect x="961.1" y="512.2" width="24" height="23.2" fill="#3e26a8"/><rect x="984.5" y="512.2" width="24" height="23.2" fill="#3e26a8"/><rect x="1007.8" y="512.2" width="24" height="23.2" fill="#3e26a8"/><rect x="1031.2" y="512.2" width="24" height="23.2" fill="#3e26a8"/><rect x="1054.5" y="512.2" width="24" height="23.2" fill="#3e26a8"/><rect x="1077.9" y="512.2" width="24" height="23.2" fill="#3e26a8"/><rect x="1101.2" y="512.2" width="24" height="23.2" fill="#402ab4"/><rect x="1124.6" y="512.2" width="24" height="23.2" fill="#3e26a8"/><rect x="1148" y="512.2" width="24" height="23.2" fill="#402ab4"/><rect x="1171.3" y="512.2" width="24" height="23.2" fill="#402ab4"/><rect x="1194.7" y="512.2" width="24" height="23.2" fill="#3e26a8"/><rect x="1218" y="512.2" width="24" height="23.2" fill="#3e26a8"/></g><rect x="705" y="16.4" width="535.3" height="517.6" fill="none" stroke="#262626" stroke-width="1.8"/><clipPath id="hc2"><rect x="704.4" y="624.3" width="542.8" height="500"/></clipPath><g shape-rendering="crispEdges" clip-path="url(#hc2)"><rect x="702.9" y="623.4" width="24.3" height="22.4" fill="#402ab4"/><rect x="726.6" y="623.4" width="24.3" height="22.4" fill="#422ec0"/><rect x="750.3" y="623.4" width="24.3" height="22.4" fill="#402ab4"/><rect x="774" y="623.4" width="24.3" height="22.4" fill="#4537d5"/><rect x="797.7" y="623.4" width="24.3" height="22.4" fill="#4563fd"/><rect x="821.4" y="623.4" width="24.3" height="22.4" fill="#4563fd"/><rect x="845" y="623.4" width="24.3" height="22.4" fill="#4758f8"/><rect x="868.7" y="623.4" width="24.3" height="22.4" fill="#4432cb"/><rect x="892.4" y="623.4" width="24.3" height="22.4" fill="#3e26a8"/><rect x="916.1" y="623.4" width="24.3" height="22.4" fill="#4537d5"/><rect x="939.8" y="623.4" width="24.3" height="22.4" fill="#4852f4"/><rect x="963.5" y="623.4" width="24.3" height="22.4" fill="#484df0"/><rect x="987.2" y="623.4" width="24.3" height="22.4" fill="#20a5e3"/><rect x="1010.9" y="623.4" width="24.3" height="22.4" fill="#8fcb4e"/><rect x="1034.6" y="623.4" width="24.3" height="22.4" fill="#4563fd"/><rect x="1058.2" y="623.4" width="24.3" height="22.4" fill="#4432cb"/><rect x="1081.9" y="623.4" width="24.3" height="22.4" fill="#20a5e3"/><rect x="1105.6" y="623.4" width="24.3" height="22.4" fill="#3e6fff"/><rect x="1129.3" y="623.4" width="24.3" height="22.4" fill="#3e26a8"/><rect x="1153" y="623.4" width="24.3" height="22.4" fill="#3e6fff"/><rect x="1176.7" y="623.4" width="24.3" height="22.4" fill="#465efb"/><rect x="1200.4" y="623.4" width="24.3" height="22.4" fill="#12b1d6"/><rect x="1224.1" y="623.4" width="24.3" height="22.4" fill="#4563fd"/><rect x="702.9" y="645.2" width="24.3" height="22.4" fill="#327cfc"/><rect x="726.6" y="645.2" width="24.3" height="22.4" fill="#3e26a8"/><rect x="750.3" y="645.2" width="24.3" height="22.4" fill="#4741e5"/><rect x="774" y="645.2" width="24.3" height="22.4" fill="#4537d5"/><rect x="797.7" y="645.2" width="24.3" height="22.4" fill="#4537d5"/><rect x="821.4" y="645.2" width="24.3" height="22.4" fill="#20a5e3"/><rect x="845" y="645.2" width="24.3" height="22.4" fill="#1ca9df"/><rect x="868.7" y="645.2" width="24.3" height="22.4" fill="#1ca9df"/><rect x="892.4" y="645.2" width="24.3" height="22.4" fill="#2797eb"/><rect x="916.1" y="645.2" width="24.3" height="22.4" fill="#4432cb"/><rect x="939.8" y="645.2" width="24.3" height="22.4" fill="#4758f8"/><rect x="963.5" y="645.2" width="24.3" height="22.4" fill="#4747eb"/><rect x="987.2" y="645.2" width="24.3" height="22.4" fill="#4432cb"/><rect x="1010.9" y="645.2" width="24.3" height="22.4" fill="#4537d5"/><rect x="1034.6" y="645.2" width="24.3" height="22.4" fill="#463cde"/><rect x="1058.2" y="645.2" width="24.3" height="22.4" fill="#3e6fff"/><rect x="1081.9" y="645.2" width="24.3" height="22.4" fill="#422ec0"/><rect x="1105.6" y="645.2" width="24.3" height="22.4" fill="#4741e5"/><rect x="1129.3" y="645.2" width="24.3" height="22.4" fill="#4741e5"/><rect x="1153" y="645.2" width="24.3" height="22.4" fill="#4432cb"/><rect x="1176.7" y="645.2" width="24.3" height="22.4" fill="#3e26a8"/><rect x="1200.4" y="645.2" width="24.3" height="22.4" fill="#2797eb"/><rect x="1224.1" y="645.2" width="24.3" height="22.4" fill="#463cde"/><rect x="702.9" y="666.9" width="24.3" height="22.4" fill="#402ab4"/><rect x="726.6" y="666.9" width="24.3" height="22.4" fill="#4741e5"/><rect x="750.3" y="666.9" width="24.3" height="22.4" fill="#3e26a8"/><rect x="774" y="666.9" width="24.3" height="22.4" fill="#4563fd"/><rect x="797.7" y="666.9" width="24.3" height="22.4" fill="#23a0e5"/><rect x="821.4" y="666.9" width="24.3" height="22.4" fill="#d1bf27"/><rect x="845" y="666.9" width="24.3" height="22.4" fill="#484df0"/><rect x="868.7" y="666.9" width="24.3" height="22.4" fill="#3875fe"/><rect x="892.4" y="666.9" width="24.3" height="22.4" fill="#4537d5"/><rect x="916.1" y="666.9" width="24.3" height="22.4" fill="#484df0"/><rect x="939.8" y="666.9" width="24.3" height="22.4" fill="#18addb"/><rect x="963.5" y="666.9" width="24.3" height="22.4" fill="#4747eb"/><rect x="987.2" y="666.9" width="24.3" height="22.4" fill="#4563fd"/><rect x="1010.9" y="666.9" width="24.3" height="22.4" fill="#4563fd"/><rect x="1034.6" y="666.9" width="24.3" height="22.4" fill="#463cde"/><rect x="1058.2" y="666.9" width="24.3" height="22.4" fill="#4537d5"/><rect x="1081.9" y="666.9" width="24.3" height="22.4" fill="#b9c431"/><rect x="1105.6" y="666.9" width="24.3" height="22.4" fill="#4563fd"/><rect x="1129.3" y="666.9" width="24.3" height="22.4" fill="#4537d5"/><rect x="1153" y="666.9" width="24.3" height="22.4" fill="#4269fe"/><rect x="1176.7" y="666.9" width="24.3" height="22.4" fill="#1ca9df"/><rect x="1200.4" y="666.9" width="24.3" height="22.4" fill="#463cde"/><rect x="1224.1" y="666.9" width="24.3" height="22.4" fill="#463cde"/><rect x="702.9" y="688.7" width="24.3" height="22.4" fill="#422ec0"/><rect x="726.6" y="688.7" width="24.3" height="22.4" fill="#4537d5"/><rect x="750.3" y="688.7" width="24.3" height="22.4" fill="#402ab4"/><rect x="774" y="688.7" width="24.3" height="22.4" fill="#3e26a8"/><rect x="797.7" y="688.7" width="24.3" height="22.4" fill="#402ab4"/><rect x="821.4" y="688.7" width="24.3" height="22.4" fill="#4432cb"/><rect x="845" y="688.7" width="24.3" height="22.4" fill="#4537d5"/><rect x="868.7" y="688.7" width="24.3" height="22.4" fill="#4432cb"/><rect x="892.4" y="688.7" width="24.3" height="22.4" fill="#4537d5"/><rect x="916.1" y="688.7" width="24.3" height="22.4" fill="#4758f8"/><rect x="939.8" y="688.7" width="24.3" height="22.4" fill="#463cde"/><rect x="963.5" y="688.7" width="24.3" height="22.4" fill="#3e26a8"/><rect x="987.2" y="688.7" width="24.3" height="22.4" fill="#4747eb"/><rect x="1010.9" y="688.7" width="24.3" height="22.4" fill="#4432cb"/><rect x="1034.6" y="688.7" width="24.3" height="22.4" fill="#422ec0"/><rect x="1058.2" y="688.7" width="24.3" height="22.4" fill="#463cde"/><rect x="1081.9" y="688.7" width="24.3" height="22.4" fill="#402ab4"/><rect x="1105.6" y="688.7" width="24.3" height="22.4" fill="#4432cb"/><rect x="1129.3" y="688.7" width="24.3" height="22.4" fill="#402ab4"/><rect x="1153" y="688.7" width="24.3" height="22.4" fill="#463cde"/><rect x="1176.7" y="688.7" width="24.3" height="22.4" fill="#4747eb"/><rect x="1200.4" y="688.7" width="24.3" height="22.4" fill="#4432cb"/><rect x="1224.1" y="688.7" width="24.3" height="22.4" fill="#402ab4"/><rect x="702.9" y="710.5" width="24.3" height="22.4" fill="#402ab4"/><rect x="726.6" y="710.5" width="24.3" height="22.4" fill="#259be8"/><rect x="750.3" y="710.5" width="24.3" height="22.4" fill="#422ec0"/><rect x="774" y="710.5" width="24.3" height="22.4" fill="#402ab4"/><rect x="797.7" y="710.5" width="24.3" height="22.4" fill="#3e26a8"/><rect x="821.4" y="710.5" width="24.3" height="22.4" fill="#4537d5"/><rect x="845" y="710.5" width="24.3" height="22.4" fill="#2d8cf3"/><rect x="868.7" y="710.5" width="24.3" height="22.4" fill="#484df0"/><rect x="892.4" y="710.5" width="24.3" height="22.4" fill="#4432cb"/><rect x="916.1" y="710.5" width="24.3" height="22.4" fill="#81cc59"/><rect x="939.8" y="710.5" width="24.3" height="22.4" fill="#484df0"/><rect x="963.5" y="710.5" width="24.3" height="22.4" fill="#2cc4a7"/><rect x="987.2" y="710.5" width="24.3" height="22.4" fill="#422ec0"/><rect x="1010.9" y="710.5" width="24.3" height="22.4" fill="#463cde"/><rect x="1034.6" y="710.5" width="24.3" height="22.4" fill="#4537d5"/><rect x="1058.2" y="710.5" width="24.3" height="22.4" fill="#3875fe"/><rect x="1081.9" y="710.5" width="24.3" height="22.4" fill="#463cde"/><rect x="1105.6" y="710.5" width="24.3" height="22.4" fill="#259be8"/><rect x="1129.3" y="710.5" width="24.3" height="22.4" fill="#422ec0"/><rect x="1153" y="710.5" width="24.3" height="22.4" fill="#4741e5"/><rect x="1176.7" y="710.5" width="24.3" height="22.4" fill="#4432cb"/><rect x="1200.4" y="710.5" width="24.3" height="22.4" fill="#4852f4"/><rect x="1224.1" y="710.5" width="24.3" height="22.4" fill="#4432cb"/><rect x="702.9" y="732.2" width="24.3" height="22.4" fill="#463cde"/><rect x="726.6" y="732.2" width="24.3" height="22.4" fill="#4563fd"/><rect x="750.3" y="732.2" width="24.3" height="22.4" fill="#3e26a8"/><rect x="774" y="732.2" width="24.3" height="22.4" fill="#402ab4"/><rect x="797.7" y="732.2" width="24.3" height="22.4" fill="#4537d5"/><rect x="821.4" y="732.2" width="24.3" height="22.4" fill="#3e26a8"/><rect x="845" y="732.2" width="24.3" height="22.4" fill="#4852f4"/><rect x="868.7" y="732.2" width="24.3" height="22.4" fill="#4852f4"/><rect x="892.4" y="732.2" width="24.3" height="22.4" fill="#327cfc"/><rect x="916.1" y="732.2" width="24.3" height="22.4" fill="#4432cb"/><rect x="939.8" y="732.2" width="24.3" height="22.4" fill="#4852f4"/><rect x="963.5" y="732.2" width="24.3" height="22.4" fill="#20a5e3"/><rect x="987.2" y="732.2" width="24.3" height="22.4" fill="#4432cb"/><rect x="1010.9" y="732.2" width="24.3" height="22.4" fill="#463cde"/><rect x="1034.6" y="732.2" width="24.3" height="22.4" fill="#4852f4"/><rect x="1058.2" y="732.2" width="24.3" height="22.4" fill="#18addb"/><rect x="1081.9" y="732.2" width="24.3" height="22.4" fill="#18addb"/><rect x="1105.6" y="732.2" width="24.3" height="22.4" fill="#465efb"/><rect x="1129.3" y="732.2" width="24.3" height="22.4" fill="#3e26a8"/><rect x="1153" y="732.2" width="24.3" height="22.4" fill="#1ca9df"/><rect x="1176.7" y="732.2" width="24.3" height="22.4" fill="#4432cb"/><rect x="1200.4" y="732.2" width="24.3" height="22.4" fill="#3e26a8"/><rect x="1224.1" y="732.2" width="24.3" height="22.4" fill="#4852f4"/><rect x="702.9" y="754" width="24.3" height="22.4" fill="#4741e5"/><rect x="726.6" y="754" width="24.3" height="22.4" fill="#4563fd"/><rect x="750.3" y="754" width="24.3" height="22.4" fill="#402ab4"/><rect x="774" y="754" width="24.3" height="22.4" fill="#4852f4"/><rect x="797.7" y="754" width="24.3" height="22.4" fill="#402ab4"/><rect x="821.4" y="754" width="24.3" height="22.4" fill="#463cde"/><rect x="845" y="754" width="24.3" height="22.4" fill="#3e26a8"/><rect x="868.7" y="754" width="24.3" height="22.4" fill="#3e26a8"/><rect x="892.4" y="754" width="24.3" height="22.4" fill="#484df0"/><rect x="916.1" y="754" width="24.3" height="22.4" fill="#402ab4"/><rect x="939.8" y="754" width="24.3" height="22.4" fill="#422ec0"/><rect x="963.5" y="754" width="24.3" height="22.4" fill="#402ab4"/><rect x="987.2" y="754" width="24.3" height="22.4" fill="#4537d5"/><rect x="1010.9" y="754" width="24.3" height="22.4" fill="#4537d5"/><rect x="1034.6" y="754" width="24.3" height="22.4" fill="#402ab4"/><rect x="1058.2" y="754" width="24.3" height="22.4" fill="#402ab4"/><rect x="1081.9" y="754" width="24.3" height="22.4" fill="#402ab4"/><rect x="1105.6" y="754" width="24.3" height="22.4" fill="#484df0"/><rect x="1129.3" y="754" width="24.3" height="22.4" fill="#402ab4"/><rect x="1153" y="754" width="24.3" height="22.4" fill="#463cde"/><rect x="1176.7" y="754" width="24.3" height="22.4" fill="#4563fd"/><rect x="1200.4" y="754" width="24.3" height="22.4" fill="#4747eb"/><rect x="1224.1" y="754" width="24.3" height="22.4" fill="#402ab4"/><rect x="702.9" y="775.8" width="24.3" height="22.4" fill="#4747eb"/><rect x="726.6" y="775.8" width="24.3" height="22.4" fill="#422ec0"/><rect x="750.3" y="775.8" width="24.3" height="22.4" fill="#422ec0"/><rect x="774" y="775.8" width="24.3" height="22.4" fill="#4432cb"/><rect x="797.7" y="775.8" width="24.3" height="22.4" fill="#3e26a8"/><rect x="821.4" y="775.8" width="24.3" height="22.4" fill="#402ab4"/><rect x="845" y="775.8" width="24.3" height="22.4" fill="#422ec0"/><rect x="868.7" y="775.8" width="24.3" height="22.4" fill="#3e26a8"/><rect x="892.4" y="775.8" width="24.3" height="22.4" fill="#4432cb"/><rect x="916.1" y="775.8" width="24.3" height="22.4" fill="#422ec0"/><rect x="939.8" y="775.8" width="24.3" height="22.4" fill="#422ec0"/><rect x="963.5" y="775.8" width="24.3" height="22.4" fill="#484df0"/><rect x="987.2" y="775.8" width="24.3" height="22.4" fill="#4537d5"/><rect x="1010.9" y="775.8" width="24.3" height="22.4" fill="#422ec0"/><rect x="1034.6" y="775.8" width="24.3" height="22.4" fill="#402ab4"/><rect x="1058.2" y="775.8" width="24.3" height="22.4" fill="#422ec0"/><rect x="1081.9" y="775.8" width="24.3" height="22.4" fill="#402ab4"/><rect x="1105.6" y="775.8" width="24.3" height="22.4" fill="#422ec0"/><rect x="1129.3" y="775.8" width="24.3" height="22.4" fill="#422ec0"/><rect x="1153" y="775.8" width="24.3" height="22.4" fill="#463cde"/><rect x="1176.7" y="775.8" width="24.3" height="22.4" fill="#3e26a8"/><rect x="1200.4" y="775.8" width="24.3" height="22.4" fill="#402ab4"/><rect x="1224.1" y="775.8" width="24.3" height="22.4" fill="#402ab4"/><rect x="702.9" y="797.6" width="24.3" height="22.4" fill="#18addb"/><rect x="726.6" y="797.6" width="24.3" height="22.4" fill="#463cde"/><rect x="750.3" y="797.6" width="24.3" height="22.4" fill="#3e26a8"/><rect x="774" y="797.6" width="24.3" height="22.4" fill="#402ab4"/><rect x="797.7" y="797.6" width="24.3" height="22.4" fill="#3e26a8"/><rect x="821.4" y="797.6" width="24.3" height="22.4" fill="#4741e5"/><rect x="845" y="797.6" width="24.3" height="22.4" fill="#4563fd"/><rect x="868.7" y="797.6" width="24.3" height="22.4" fill="#463cde"/><rect x="892.4" y="797.6" width="24.3" height="22.4" fill="#3e26a8"/><rect x="916.1" y="797.6" width="24.3" height="22.4" fill="#3875fe"/><rect x="939.8" y="797.6" width="24.3" height="22.4" fill="#465efb"/><rect x="963.5" y="797.6" width="24.3" height="22.4" fill="#4269fe"/><rect x="987.2" y="797.6" width="24.3" height="22.4" fill="#4758f8"/><rect x="1010.9" y="797.6" width="24.3" height="22.4" fill="#422ec0"/><rect x="1034.6" y="797.6" width="24.3" height="22.4" fill="#3e26a8"/><rect x="1058.2" y="797.6" width="24.3" height="22.4" fill="#422ec0"/><rect x="1081.9" y="797.6" width="24.3" height="22.4" fill="#402ab4"/><rect x="1105.6" y="797.6" width="24.3" height="22.4" fill="#463cde"/><rect x="1129.3" y="797.6" width="24.3" height="22.4" fill="#3e26a8"/><rect x="1153" y="797.6" width="24.3" height="22.4" fill="#4741e5"/><rect x="1176.7" y="797.6" width="24.3" height="22.4" fill="#3e26a8"/><rect x="1200.4" y="797.6" width="24.3" height="22.4" fill="#4432cb"/><rect x="1224.1" y="797.6" width="24.3" height="22.4" fill="#3e26a8"/><rect x="702.9" y="819.3" width="24.3" height="22.4" fill="#3e6fff"/><rect x="726.6" y="819.3" width="24.3" height="22.4" fill="#3e26a8"/><rect x="750.3" y="819.3" width="24.3" height="22.4" fill="#3e26a8"/><rect x="774" y="819.3" width="24.3" height="22.4" fill="#4852f4"/><rect x="797.7" y="819.3" width="24.3" height="22.4" fill="#422ec0"/><rect x="821.4" y="819.3" width="24.3" height="22.4" fill="#4432cb"/><rect x="845" y="819.3" width="24.3" height="22.4" fill="#484df0"/><rect x="868.7" y="819.3" width="24.3" height="22.4" fill="#4537d5"/><rect x="892.4" y="819.3" width="24.3" height="22.4" fill="#3e26a8"/><rect x="916.1" y="819.3" width="24.3" height="22.4" fill="#3e26a8"/><rect x="939.8" y="819.3" width="24.3" height="22.4" fill="#4537d5"/><rect x="963.5" y="819.3" width="24.3" height="22.4" fill="#484df0"/><rect x="987.2" y="819.3" width="24.3" height="22.4" fill="#3e26a8"/><rect x="1010.9" y="819.3" width="24.3" height="22.4" fill="#4269fe"/><rect x="1034.6" y="819.3" width="24.3" height="22.4" fill="#422ec0"/><rect x="1058.2" y="819.3" width="24.3" height="22.4" fill="#4432cb"/><rect x="1081.9" y="819.3" width="24.3" height="22.4" fill="#4432cb"/><rect x="1105.6" y="819.3" width="24.3" height="22.4" fill="#259be8"/><rect x="1129.3" y="819.3" width="24.3" height="22.4" fill="#3e26a8"/><rect x="1153" y="819.3" width="24.3" height="22.4" fill="#422ec0"/><rect x="1176.7" y="819.3" width="24.3" height="22.4" fill="#4537d5"/><rect x="1200.4" y="819.3" width="24.3" height="22.4" fill="#4537d5"/><rect x="1224.1" y="819.3" width="24.3" height="22.4" fill="#422ec0"/><rect x="702.9" y="841.1" width="24.3" height="22.4" fill="#422ec0"/><rect x="726.6" y="841.1" width="24.3" height="22.4" fill="#4563fd"/><rect x="750.3" y="841.1" width="24.3" height="22.4" fill="#422ec0"/><rect x="774" y="841.1" width="24.3" height="22.4" fill="#4852f4"/><rect x="797.7" y="841.1" width="24.3" height="22.4" fill="#402ab4"/><rect x="821.4" y="841.1" width="24.3" height="22.4" fill="#2e87f7"/><rect x="845" y="841.1" width="24.3" height="22.4" fill="#422ec0"/><rect x="868.7" y="841.1" width="24.3" height="22.4" fill="#3e26a8"/><rect x="892.4" y="841.1" width="24.3" height="22.4" fill="#402ab4"/><rect x="916.1" y="841.1" width="24.3" height="22.4" fill="#402ab4"/><rect x="939.8" y="841.1" width="24.3" height="22.4" fill="#3e26a8"/><rect x="963.5" y="841.1" width="24.3" height="22.4" fill="#3e26a8"/><rect x="987.2" y="841.1" width="24.3" height="22.4" fill="#402ab4"/><rect x="1010.9" y="841.1" width="24.3" height="22.4" fill="#422ec0"/><rect x="1034.6" y="841.1" width="24.3" height="22.4" fill="#3e26a8"/><rect x="1058.2" y="841.1" width="24.3" height="22.4" fill="#463cde"/><rect x="1081.9" y="841.1" width="24.3" height="22.4" fill="#422ec0"/><rect x="1105.6" y="841.1" width="24.3" height="22.4" fill="#4537d5"/><rect x="1129.3" y="841.1" width="24.3" height="22.4" fill="#402ab4"/><rect x="1153" y="841.1" width="24.3" height="22.4" fill="#484df0"/><rect x="1176.7" y="841.1" width="24.3" height="22.4" fill="#4563fd"/><rect x="1200.4" y="841.1" width="24.3" height="22.4" fill="#4537d5"/><rect x="1224.1" y="841.1" width="24.3" height="22.4" fill="#3e26a8"/><rect x="702.9" y="862.9" width="24.3" height="22.4" fill="#4747eb"/><rect x="726.6" y="862.9" width="24.3" height="22.4" fill="#422ec0"/><rect x="750.3" y="862.9" width="24.3" height="22.4" fill="#3e26a8"/><rect x="774" y="862.9" width="24.3" height="22.4" fill="#402ab4"/><rect x="797.7" y="862.9" width="24.3" height="22.4" fill="#4537d5"/><rect x="821.4" y="862.9" width="24.3" height="22.4" fill="#484df0"/><rect x="845" y="862.9" width="24.3" height="22.4" fill="#463cde"/><rect x="868.7" y="862.9" width="24.3" height="22.4" fill="#4747eb"/><rect x="892.4" y="862.9" width="24.3" height="22.4" fill="#484df0"/><rect x="916.1" y="862.9" width="24.3" height="22.4" fill="#4537d5"/><rect x="939.8" y="862.9" width="24.3" height="22.4" fill="#3e26a8"/><rect x="963.5" y="862.9" width="24.3" height="22.4" fill="#3e26a8"/><rect x="987.2" y="862.9" width="24.3" height="22.4" fill="#422ec0"/><rect x="1010.9" y="862.9" width="24.3" height="22.4" fill="#422ec0"/><rect x="1034.6" y="862.9" width="24.3" height="22.4" fill="#422ec0"/><rect x="1058.2" y="862.9" width="24.3" height="22.4" fill="#484df0"/><rect x="1081.9" y="862.9" width="24.3" height="22.4" fill="#4537d5"/><rect x="1105.6" y="862.9" width="24.3" height="22.4" fill="#402ab4"/><rect x="1129.3" y="862.9" width="24.3" height="22.4" fill="#3e26a8"/><rect x="1153" y="862.9" width="24.3" height="22.4" fill="#463cde"/><rect x="1176.7" y="862.9" width="24.3" height="22.4" fill="#463cde"/><rect x="1200.4" y="862.9" width="24.3" height="22.4" fill="#4741e5"/><rect x="1224.1" y="862.9" width="24.3" height="22.4" fill="#422ec0"/><rect x="702.9" y="884.6" width="24.3" height="22.4" fill="#4432cb"/><rect x="726.6" y="884.6" width="24.3" height="22.4" fill="#422ec0"/><rect x="750.3" y="884.6" width="24.3" height="22.4" fill="#3e26a8"/><rect x="774" y="884.6" width="24.3" height="22.4" fill="#3e26a8"/><rect x="797.7" y="884.6" width="24.3" height="22.4" fill="#3875fe"/><rect x="821.4" y="884.6" width="24.3" height="22.4" fill="#4537d5"/><rect x="845" y="884.6" width="24.3" height="22.4" fill="#4537d5"/><rect x="868.7" y="884.6" width="24.3" height="22.4" fill="#422ec0"/><rect x="892.4" y="884.6" width="24.3" height="22.4" fill="#463cde"/><rect x="916.1" y="884.6" width="24.3" height="22.4" fill="#402ab4"/><rect x="939.8" y="884.6" width="24.3" height="22.4" fill="#422ec0"/><rect x="963.5" y="884.6" width="24.3" height="22.4" fill="#259be8"/><rect x="987.2" y="884.6" width="24.3" height="22.4" fill="#402ab4"/><rect x="1010.9" y="884.6" width="24.3" height="22.4" fill="#f9fb15"/><rect x="1034.6" y="884.6" width="24.3" height="22.4" fill="#4537d5"/><rect x="1058.2" y="884.6" width="24.3" height="22.4" fill="#20a5e3"/><rect x="1081.9" y="884.6" width="24.3" height="22.4" fill="#463cde"/><rect x="1105.6" y="884.6" width="24.3" height="22.4" fill="#1ca9df"/><rect x="1129.3" y="884.6" width="24.3" height="22.4" fill="#3e26a8"/><rect x="1153" y="884.6" width="24.3" height="22.4" fill="#3e6fff"/><rect x="1176.7" y="884.6" width="24.3" height="22.4" fill="#4537d5"/><rect x="1200.4" y="884.6" width="24.3" height="22.4" fill="#2b91ef"/><rect x="1224.1" y="884.6" width="24.3" height="22.4" fill="#4537d5"/><rect x="702.9" y="906.4" width="24.3" height="22.4" fill="#4563fd"/><rect x="726.6" y="906.4" width="24.3" height="22.4" fill="#422ec0"/><rect x="750.3" y="906.4" width="24.3" height="22.4" fill="#259be8"/><rect x="774" y="906.4" width="24.3" height="22.4" fill="#259be8"/><rect x="797.7" y="906.4" width="24.3" height="22.4" fill="#19bfb6"/><rect x="821.4" y="906.4" width="24.3" height="22.4" fill="#3e26a8"/><rect x="845" y="906.4" width="24.3" height="22.4" fill="#02bac3"/><rect x="868.7" y="906.4" width="24.3" height="22.4" fill="#4741e5"/><rect x="892.4" y="906.4" width="24.3" height="22.4" fill="#e6bb2d"/><rect x="916.1" y="906.4" width="24.3" height="22.4" fill="#4537d5"/><rect x="939.8" y="906.4" width="24.3" height="22.4" fill="#3e26a8"/><rect x="963.5" y="906.4" width="24.3" height="22.4" fill="#3875fe"/><rect x="987.2" y="906.4" width="24.3" height="22.4" fill="#37c897"/><rect x="1010.9" y="906.4" width="24.3" height="22.4" fill="#3e26a8"/><rect x="1034.6" y="906.4" width="24.3" height="22.4" fill="#422ec0"/><rect x="1058.2" y="906.4" width="24.3" height="22.4" fill="#4269fe"/><rect x="1081.9" y="906.4" width="24.3" height="22.4" fill="#4537d5"/><rect x="1105.6" y="906.4" width="24.3" height="22.4" fill="#4747eb"/><rect x="1129.3" y="906.4" width="24.3" height="22.4" fill="#259be8"/><rect x="1153" y="906.4" width="24.3" height="22.4" fill="#f9fb15"/><rect x="1176.7" y="906.4" width="24.3" height="22.4" fill="#18addb"/><rect x="1200.4" y="906.4" width="24.3" height="22.4" fill="#8fcb4e"/><rect x="1224.1" y="906.4" width="24.3" height="22.4" fill="#422ec0"/><rect x="702.9" y="928.2" width="24.3" height="22.4" fill="#2d8cf3"/><rect x="726.6" y="928.2" width="24.3" height="22.4" fill="#3e26a8"/><rect x="750.3" y="928.2" width="24.3" height="22.4" fill="#327cfc"/><rect x="774" y="928.2" width="24.3" height="22.4" fill="#f0ba36"/><rect x="797.7" y="928.2" width="24.3" height="22.4" fill="#402ab4"/><rect x="821.4" y="928.2" width="24.3" height="22.4" fill="#422ec0"/><rect x="845" y="928.2" width="24.3" height="22.4" fill="#2e87f7"/><rect x="868.7" y="928.2" width="24.3" height="22.4" fill="#3fca8e"/><rect x="892.4" y="928.2" width="24.3" height="22.4" fill="#3e26a8"/><rect x="916.1" y="928.2" width="24.3" height="22.4" fill="#465efb"/><rect x="939.8" y="928.2" width="24.3" height="22.4" fill="#01b8ca"/><rect x="963.5" y="928.2" width="24.3" height="22.4" fill="#463cde"/><rect x="987.2" y="928.2" width="24.3" height="22.4" fill="#3e6fff"/><rect x="1010.9" y="928.2" width="24.3" height="22.4" fill="#3e26a8"/><rect x="1034.6" y="928.2" width="24.3" height="22.4" fill="#3e26a8"/><rect x="1058.2" y="928.2" width="24.3" height="22.4" fill="#463cde"/><rect x="1081.9" y="928.2" width="24.3" height="22.4" fill="#f5e327"/><rect x="1105.6" y="928.2" width="24.3" height="22.4" fill="#484df0"/><rect x="1129.3" y="928.2" width="24.3" height="22.4" fill="#2e87f7"/><rect x="1153" y="928.2" width="24.3" height="22.4" fill="#4747eb"/><rect x="1176.7" y="928.2" width="24.3" height="22.4" fill="#72cd64"/><rect x="1200.4" y="928.2" width="24.3" height="22.4" fill="#3e26a8"/><rect x="1224.1" y="928.2" width="24.3" height="22.4" fill="#3e26a8"/><rect x="702.9" y="950" width="24.3" height="22.4" fill="#402ab4"/><rect x="726.6" y="950" width="24.3" height="22.4" fill="#3e26a8"/><rect x="750.3" y="950" width="24.3" height="22.4" fill="#4537d5"/><rect x="774" y="950" width="24.3" height="22.4" fill="#422ec0"/><rect x="797.7" y="950" width="24.3" height="22.4" fill="#4747eb"/><rect x="821.4" y="950" width="24.3" height="22.4" fill="#4537d5"/><rect x="845" y="950" width="24.3" height="22.4" fill="#463cde"/><rect x="868.7" y="950" width="24.3" height="22.4" fill="#3e26a8"/><rect x="892.4" y="950" width="24.3" height="22.4" fill="#422ec0"/><rect x="916.1" y="950" width="24.3" height="22.4" fill="#4537d5"/><rect x="939.8" y="950" width="24.3" height="22.4" fill="#3e26a8"/><rect x="963.5" y="950" width="24.3" height="22.4" fill="#422ec0"/><rect x="987.2" y="950" width="24.3" height="22.4" fill="#4563fd"/><rect x="1010.9" y="950" width="24.3" height="22.4" fill="#463cde"/><rect x="1034.6" y="950" width="24.3" height="22.4" fill="#422ec0"/><rect x="1058.2" y="950" width="24.3" height="22.4" fill="#3e26a8"/><rect x="1081.9" y="950" width="24.3" height="22.4" fill="#465efb"/><rect x="1105.6" y="950" width="24.3" height="22.4" fill="#463cde"/><rect x="1129.3" y="950" width="24.3" height="22.4" fill="#4537d5"/><rect x="1153" y="950" width="24.3" height="22.4" fill="#402ab4"/><rect x="1176.7" y="950" width="24.3" height="22.4" fill="#484df0"/><rect x="1200.4" y="950" width="24.3" height="22.4" fill="#3e26a8"/><rect x="1224.1" y="950" width="24.3" height="22.4" fill="#422ec0"/><rect x="702.9" y="971.7" width="24.3" height="22.4" fill="#4537d5"/><rect x="726.6" y="971.7" width="24.3" height="22.4" fill="#484df0"/><rect x="750.3" y="971.7" width="24.3" height="22.4" fill="#422ec0"/><rect x="774" y="971.7" width="24.3" height="22.4" fill="#422ec0"/><rect x="797.7" y="971.7" width="24.3" height="22.4" fill="#422ec0"/><rect x="821.4" y="971.7" width="24.3" height="22.4" fill="#3e26a8"/><rect x="845" y="971.7" width="24.3" height="22.4" fill="#463cde"/><rect x="868.7" y="971.7" width="24.3" height="22.4" fill="#4747eb"/><rect x="892.4" y="971.7" width="24.3" height="22.4" fill="#4537d5"/><rect x="916.1" y="971.7" width="24.3" height="22.4" fill="#422ec0"/><rect x="939.8" y="971.7" width="24.3" height="22.4" fill="#3e26a8"/><rect x="963.5" y="971.7" width="24.3" height="22.4" fill="#422ec0"/><rect x="987.2" y="971.7" width="24.3" height="22.4" fill="#4537d5"/><rect x="1010.9" y="971.7" width="24.3" height="22.4" fill="#4537d5"/><rect x="1034.6" y="971.7" width="24.3" height="22.4" fill="#422ec0"/><rect x="1058.2" y="971.7" width="24.3" height="22.4" fill="#422ec0"/><rect x="1081.9" y="971.7" width="24.3" height="22.4" fill="#3e26a8"/><rect x="1105.6" y="971.7" width="24.3" height="22.4" fill="#422ec0"/><rect x="1129.3" y="971.7" width="24.3" height="22.4" fill="#422ec0"/><rect x="1153" y="971.7" width="24.3" height="22.4" fill="#3e26a8"/><rect x="1176.7" y="971.7" width="24.3" height="22.4" fill="#422ec0"/><rect x="1200.4" y="971.7" width="24.3" height="22.4" fill="#422ec0"/><rect x="1224.1" y="971.7" width="24.3" height="22.4" fill="#422ec0"/><rect x="702.9" y="993.5" width="24.3" height="22.4" fill="#402ab4"/><rect x="726.6" y="993.5" width="24.3" height="22.4" fill="#402ab4"/><rect x="750.3" y="993.5" width="24.3" height="22.4" fill="#422ec0"/><rect x="774" y="993.5" width="24.3" height="22.4" fill="#3e26a8"/><rect x="797.7" y="993.5" width="24.3" height="22.4" fill="#4537d5"/><rect x="821.4" y="993.5" width="24.3" height="22.4" fill="#3e26a8"/><rect x="845" y="993.5" width="24.3" height="22.4" fill="#422ec0"/><rect x="868.7" y="993.5" width="24.3" height="22.4" fill="#402ab4"/><rect x="892.4" y="993.5" width="24.3" height="22.4" fill="#3e26a8"/><rect x="916.1" y="993.5" width="24.3" height="22.4" fill="#463cde"/><rect x="939.8" y="993.5" width="24.3" height="22.4" fill="#4747eb"/><rect x="963.5" y="993.5" width="24.3" height="22.4" fill="#4537d5"/><rect x="987.2" y="993.5" width="24.3" height="22.4" fill="#422ec0"/><rect x="1010.9" y="993.5" width="24.3" height="22.4" fill="#422ec0"/><rect x="1034.6" y="993.5" width="24.3" height="22.4" fill="#422ec0"/><rect x="1058.2" y="993.5" width="24.3" height="22.4" fill="#402ab4"/><rect x="1081.9" y="993.5" width="24.3" height="22.4" fill="#402ab4"/><rect x="1105.6" y="993.5" width="24.3" height="22.4" fill="#3e26a8"/><rect x="1129.3" y="993.5" width="24.3" height="22.4" fill="#4537d5"/><rect x="1153" y="993.5" width="24.3" height="22.4" fill="#463cde"/><rect x="1176.7" y="993.5" width="24.3" height="22.4" fill="#422ec0"/><rect x="1200.4" y="993.5" width="24.3" height="22.4" fill="#484df0"/><rect x="1224.1" y="993.5" width="24.3" height="22.4" fill="#422ec0"/><rect x="702.9" y="1015.3" width="24.3" height="22.4" fill="#402ab4"/><rect x="726.6" y="1015.3" width="24.3" height="22.4" fill="#463cde"/><rect x="750.3" y="1015.3" width="24.3" height="22.4" fill="#463cde"/><rect x="774" y="1015.3" width="24.3" height="22.4" fill="#4563fd"/><rect x="797.7" y="1015.3" width="24.3" height="22.4" fill="#23a0e5"/><rect x="821.4" y="1015.3" width="24.3" height="22.4" fill="#d1bf27"/><rect x="845" y="1015.3" width="24.3" height="22.4" fill="#484df0"/><rect x="868.7" y="1015.3" width="24.3" height="22.4" fill="#3e6fff"/><rect x="892.4" y="1015.3" width="24.3" height="22.4" fill="#4537d5"/><rect x="916.1" y="1015.3" width="24.3" height="22.4" fill="#484df0"/><rect x="939.8" y="1015.3" width="24.3" height="22.4" fill="#18addb"/><rect x="963.5" y="1015.3" width="24.3" height="22.4" fill="#4747eb"/><rect x="987.2" y="1015.3" width="24.3" height="22.4" fill="#4758f8"/><rect x="1010.9" y="1015.3" width="24.3" height="22.4" fill="#4758f8"/><rect x="1034.6" y="1015.3" width="24.3" height="22.4" fill="#463cde"/><rect x="1058.2" y="1015.3" width="24.3" height="22.4" fill="#463cde"/><rect x="1081.9" y="1015.3" width="24.3" height="22.4" fill="#b9c431"/><rect x="1105.6" y="1015.3" width="24.3" height="22.4" fill="#4563fd"/><rect x="1129.3" y="1015.3" width="24.3" height="22.4" fill="#3e26a8"/><rect x="1153" y="1015.3" width="24.3" height="22.4" fill="#4269fe"/><rect x="1176.7" y="1015.3" width="24.3" height="22.4" fill="#1ca9df"/><rect x="1200.4" y="1015.3" width="24.3" height="22.4" fill="#463cde"/><rect x="1224.1" y="1015.3" width="24.3" height="22.4" fill="#463cde"/><rect x="702.9" y="1037" width="24.3" height="22.4" fill="#18addb"/><rect x="726.6" y="1037" width="24.3" height="22.4" fill="#402ab4"/><rect x="750.3" y="1037" width="24.3" height="22.4" fill="#4747eb"/><rect x="774" y="1037" width="24.3" height="22.4" fill="#4747eb"/><rect x="797.7" y="1037" width="24.3" height="22.4" fill="#402ab4"/><rect x="821.4" y="1037" width="24.3" height="22.4" fill="#12b1d6"/><rect x="845" y="1037" width="24.3" height="22.4" fill="#2b91ef"/><rect x="868.7" y="1037" width="24.3" height="22.4" fill="#4747eb"/><rect x="892.4" y="1037" width="24.3" height="22.4" fill="#259be8"/><rect x="916.1" y="1037" width="24.3" height="22.4" fill="#422ec0"/><rect x="939.8" y="1037" width="24.3" height="22.4" fill="#3e6fff"/><rect x="963.5" y="1037" width="24.3" height="22.4" fill="#4747eb"/><rect x="987.2" y="1037" width="24.3" height="22.4" fill="#2e87f7"/><rect x="1010.9" y="1037" width="24.3" height="22.4" fill="#2e87f7"/><rect x="1034.6" y="1037" width="24.3" height="22.4" fill="#4563fd"/><rect x="1058.2" y="1037" width="24.3" height="22.4" fill="#327cfc"/><rect x="1081.9" y="1037" width="24.3" height="22.4" fill="#4741e5"/><rect x="1105.6" y="1037" width="24.3" height="22.4" fill="#3e26a8"/><rect x="1129.3" y="1037" width="24.3" height="22.4" fill="#4741e5"/><rect x="1153" y="1037" width="24.3" height="22.4" fill="#3e26a8"/><rect x="1176.7" y="1037" width="24.3" height="22.4" fill="#484df0"/><rect x="1200.4" y="1037" width="24.3" height="22.4" fill="#2b91ef"/><rect x="1224.1" y="1037" width="24.3" height="22.4" fill="#4563fd"/><rect x="702.9" y="1058.8" width="24.3" height="22.4" fill="#484df0"/><rect x="726.6" y="1058.8" width="24.3" height="22.4" fill="#4537d5"/><rect x="750.3" y="1058.8" width="24.3" height="22.4" fill="#3e26a8"/><rect x="774" y="1058.8" width="24.3" height="22.4" fill="#4269fe"/><rect x="797.7" y="1058.8" width="24.3" height="22.4" fill="#4747eb"/><rect x="821.4" y="1058.8" width="24.3" height="22.4" fill="#4537d5"/><rect x="845" y="1058.8" width="24.3" height="22.4" fill="#4747eb"/><rect x="868.7" y="1058.8" width="24.3" height="22.4" fill="#12b1d6"/><rect x="892.4" y="1058.8" width="24.3" height="22.4" fill="#484df0"/><rect x="916.1" y="1058.8" width="24.3" height="22.4" fill="#4269fe"/><rect x="939.8" y="1058.8" width="24.3" height="22.4" fill="#4269fe"/><rect x="963.5" y="1058.8" width="24.3" height="22.4" fill="#4747eb"/><rect x="987.2" y="1058.8" width="24.3" height="22.4" fill="#4747eb"/><rect x="1010.9" y="1058.8" width="24.3" height="22.4" fill="#422ec0"/><rect x="1034.6" y="1058.8" width="24.3" height="22.4" fill="#4269fe"/><rect x="1058.2" y="1058.8" width="24.3" height="22.4" fill="#463cde"/><rect x="1081.9" y="1058.8" width="24.3" height="22.4" fill="#259be8"/><rect x="1105.6" y="1058.8" width="24.3" height="22.4" fill="#2e87f7"/><rect x="1129.3" y="1058.8" width="24.3" height="22.4" fill="#3e26a8"/><rect x="1153" y="1058.8" width="24.3" height="22.4" fill="#484df0"/><rect x="1176.7" y="1058.8" width="24.3" height="22.4" fill="#3e26a8"/><rect x="1200.4" y="1058.8" width="24.3" height="22.4" fill="#463cde"/><rect x="1224.1" y="1058.8" width="24.3" height="22.4" fill="#4269fe"/><rect x="702.9" y="1080.6" width="24.3" height="22.4" fill="#402ab4"/><rect x="726.6" y="1080.6" width="24.3" height="22.4" fill="#3e6fff"/><rect x="750.3" y="1080.6" width="24.3" height="22.4" fill="#2b91ef"/><rect x="774" y="1080.6" width="24.3" height="22.4" fill="#2b91ef"/><rect x="797.7" y="1080.6" width="24.3" height="22.4" fill="#3e26a8"/><rect x="821.4" y="1080.6" width="24.3" height="22.4" fill="#402ab4"/><rect x="845" y="1080.6" width="24.3" height="22.4" fill="#4747eb"/><rect x="868.7" y="1080.6" width="24.3" height="22.4" fill="#1ca9df"/><rect x="892.4" y="1080.6" width="24.3" height="22.4" fill="#484df0"/><rect x="916.1" y="1080.6" width="24.3" height="22.4" fill="#463cde"/><rect x="939.8" y="1080.6" width="24.3" height="22.4" fill="#64cd6f"/><rect x="963.5" y="1080.6" width="24.3" height="22.4" fill="#4747eb"/><rect x="987.2" y="1080.6" width="24.3" height="22.4" fill="#2e87f7"/><rect x="1010.9" y="1080.6" width="24.3" height="22.4" fill="#24c1ae"/><rect x="1034.6" y="1080.6" width="24.3" height="22.4" fill="#402ab4"/><rect x="1058.2" y="1080.6" width="24.3" height="22.4" fill="#463cde"/><rect x="1081.9" y="1080.6" width="24.3" height="22.4" fill="#463cde"/><rect x="1105.6" y="1080.6" width="24.3" height="22.4" fill="#4acb84"/><rect x="1129.3" y="1080.6" width="24.3" height="22.4" fill="#2d8cf3"/><rect x="1153" y="1080.6" width="24.3" height="22.4" fill="#12b1d6"/><rect x="1176.7" y="1080.6" width="24.3" height="22.4" fill="#4747eb"/><rect x="1200.4" y="1080.6" width="24.3" height="22.4" fill="#3e26a8"/><rect x="1224.1" y="1080.6" width="24.3" height="22.4" fill="#402ab4"/><rect x="702.9" y="1102.3" width="24.3" height="22.4" fill="#2e87f7"/><rect x="726.6" y="1102.3" width="24.3" height="22.4" fill="#402ab4"/><rect x="750.3" y="1102.3" width="24.3" height="22.4" fill="#3875fe"/><rect x="774" y="1102.3" width="24.3" height="22.4" fill="#f0ba36"/><rect x="797.7" y="1102.3" width="24.3" height="22.4" fill="#402ab4"/><rect x="821.4" y="1102.3" width="24.3" height="22.4" fill="#422ec0"/><rect x="845" y="1102.3" width="24.3" height="22.4" fill="#2e87f7"/><rect x="868.7" y="1102.3" width="24.3" height="22.4" fill="#3fca8e"/><rect x="892.4" y="1102.3" width="24.3" height="22.4" fill="#3e26a8"/><rect x="916.1" y="1102.3" width="24.3" height="22.4" fill="#484df0"/><rect x="939.8" y="1102.3" width="24.3" height="22.4" fill="#01b8ca"/><rect x="963.5" y="1102.3" width="24.3" height="22.4" fill="#4747eb"/><rect x="987.2" y="1102.3" width="24.3" height="22.4" fill="#3e6fff"/><rect x="1010.9" y="1102.3" width="24.3" height="22.4" fill="#3e26a8"/><rect x="1034.6" y="1102.3" width="24.3" height="22.4" fill="#3e26a8"/><rect x="1058.2" y="1102.3" width="24.3" height="22.4" fill="#463cde"/><rect x="1081.9" y="1102.3" width="24.3" height="22.4" fill="#f5e327"/><rect x="1105.6" y="1102.3" width="24.3" height="22.4" fill="#484df0"/><rect x="1129.3" y="1102.3" width="24.3" height="22.4" fill="#2e87f7"/><rect x="1153" y="1102.3" width="24.3" height="22.4" fill="#4747eb"/><rect x="1176.7" y="1102.3" width="24.3" height="22.4" fill="#72cd64"/><rect x="1200.4" y="1102.3" width="24.3" height="22.4" fill="#3e26a8"/><rect x="1224.1" y="1102.3" width="24.3" height="22.4" fill="#3e26a8"/></g><rect x="705.3" y="625.2" width="541" height="498.2" fill="none" stroke="#262626" stroke-width="1.8"/><path fill="none" stroke="#262626" stroke-width="1.5" d="M809.4 17V22M809.4 533V528M706 116.7H711M1239.2 116.7H1234.2M809.5 626V631M809.5 1122.3V1117.3M706.3 721.4H711.3M1245.3 721.4H1240.3M926.1 17V22M926.1 533V528M706 229.7H711M1239.2 229.7H1234.2M928 626V631M928 1122.3V1117.3M706.3 830.2H711.3M1245.3 830.2H1240.3M1042.9 17V22M1042.9 533V528M706 342.7H711M1239.2 342.7H1234.2M1046.4 626V631M1046.4 1122.3V1117.3M706.3 939.1H711.3M1245.3 939.1H1240.3M1159.6 17V22M1159.6 533V528M706 455.7H711M1239.2 455.7H1234.2M1164.9 626V631M1164.9 1122.3V1117.3M706.3 1047.9H711.3M1245.3 1047.9H1240.3"/><g shape-rendering="crispEdges"><rect x="1261.5" y="526.4" width="39.3" height="8.7" fill="#3e26a8"/><rect x="1261.5" y="518.3" width="39.3" height="8.7" fill="#402ab4"/><rect x="1261.5" y="510.2" width="39.3" height="8.7" fill="#422ec0"/><rect x="1261.5" y="502.1" width="39.3" height="8.7" fill="#4432cb"/><rect x="1261.5" y="494" width="39.3" height="8.7" fill="#4537d5"/><rect x="1261.5" y="485.9" width="39.3" height="8.7" fill="#463cde"/><rect x="1261.5" y="477.8" width="39.3" height="8.7" fill="#4741e5"/><rect x="1261.5" y="469.7" width="39.3" height="8.7" fill="#4747eb"/><rect x="1261.5" y="461.6" width="39.3" height="8.7" fill="#484df0"/><rect x="1261.5" y="453.5" width="39.3" height="8.7" fill="#4852f4"/><rect x="1261.5" y="445.4" width="39.3" height="8.7" fill="#4758f8"/><rect x="1261.5" y="437.3" width="39.3" height="8.7" fill="#465efb"/><rect x="1261.5" y="429.2" width="39.3" height="8.7" fill="#4563fd"/><rect x="1261.5" y="421.1" width="39.3" height="8.7" fill="#4269fe"/><rect x="1261.5" y="413" width="39.3" height="8.7" fill="#3e6fff"/><rect x="1261.5" y="404.9" width="39.3" height="8.7" fill="#3875fe"/><rect x="1261.5" y="396.8" width="39.3" height="8.7" fill="#327cfc"/><rect x="1261.5" y="388.7" width="39.3" height="8.7" fill="#2f81fa"/><rect x="1261.5" y="380.6" width="39.3" height="8.7" fill="#2e87f7"/><rect x="1261.5" y="372.5" width="39.3" height="8.7" fill="#2d8cf3"/><rect x="1261.5" y="364.4" width="39.3" height="8.7" fill="#2b91ef"/><rect x="1261.5" y="356.3" width="39.3" height="8.7" fill="#2797eb"/><rect x="1261.5" y="348.2" width="39.3" height="8.7" fill="#259be8"/><rect x="1261.5" y="340.1" width="39.3" height="8.7" fill="#23a0e5"/><rect x="1261.5" y="332" width="39.3" height="8.7" fill="#20a5e3"/><rect x="1261.5" y="323.9" width="39.3" height="8.7" fill="#1ca9df"/><rect x="1261.5" y="315.8" width="39.3" height="8.7" fill="#18addb"/><rect x="1261.5" y="307.7" width="39.3" height="8.7" fill="#12b1d6"/><rect x="1261.5" y="299.6" width="39.3" height="8.7" fill="#08b5d0"/><rect x="1261.5" y="291.5" width="39.3" height="8.7" fill="#01b8ca"/><rect x="1261.5" y="283.4" width="39.3" height="8.7" fill="#02bac3"/><rect x="1261.5" y="275.2" width="39.3" height="8.7" fill="#0bbdbd"/><rect x="1261.5" y="267.1" width="39.3" height="8.7" fill="#19bfb6"/><rect x="1261.5" y="259" width="39.3" height="8.7" fill="#24c1ae"/><rect x="1261.5" y="250.9" width="39.3" height="8.7" fill="#2cc4a7"/><rect x="1261.5" y="242.8" width="39.3" height="8.7" fill="#31c69f"/><rect x="1261.5" y="234.7" width="39.3" height="8.7" fill="#37c897"/><rect x="1261.5" y="226.6" width="39.3" height="8.7" fill="#3fca8e"/><rect x="1261.5" y="218.5" width="39.3" height="8.7" fill="#4acb84"/><rect x="1261.5" y="210.4" width="39.3" height="8.7" fill="#57cc7a"/><rect x="1261.5" y="202.3" width="39.3" height="8.7" fill="#64cd6f"/><rect x="1261.5" y="194.2" width="39.3" height="8.7" fill="#72cd64"/><rect x="1261.5" y="186.1" width="39.3" height="8.7" fill="#81cc59"/><rect x="1261.5" y="178" width="39.3" height="8.7" fill="#8fcb4e"/><rect x="1261.5" y="169.9" width="39.3" height="8.7" fill="#9dc943"/><rect x="1261.5" y="161.8" width="39.3" height="8.7" fill="#abc739"/><rect x="1261.5" y="153.7" width="39.3" height="8.7" fill="#b9c431"/><rect x="1261.5" y="145.6" width="39.3" height="8.7" fill="#c5c22a"/><rect x="1261.5" y="137.5" width="39.3" height="8.7" fill="#d1bf27"/><rect x="1261.5" y="129.4" width="39.3" height="8.7" fill="#dcbd29"/><rect x="1261.5" y="121.3" width="39.3" height="8.7" fill="#e6bb2d"/><rect x="1261.5" y="113.2" width="39.3" height="8.7" fill="#f0ba36"/><rect x="1261.5" y="105.1" width="39.3" height="8.7" fill="#f8ba3d"/><rect x="1261.5" y="97" width="39.3" height="8.7" fill="#febe3c"/><rect x="1261.5" y="88.9" width="39.3" height="8.7" fill="#fec338"/><rect x="1261.5" y="80.8" width="39.3" height="8.7" fill="#fec934"/><rect x="1261.5" y="72.7" width="39.3" height="8.7" fill="#fccf30"/><rect x="1261.5" y="64.6" width="39.3" height="8.7" fill="#fad62d"/><rect x="1261.5" y="56.5" width="39.3" height="8.7" fill="#f7dc2a"/><rect x="1261.5" y="48.4" width="39.3" height="8.7" fill="#f5e327"/><rect x="1261.5" y="40.3" width="39.3" height="8.7" fill="#f5e924"/><rect x="1261.5" y="32.2" width="39.3" height="8.7" fill="#f6ef20"/><rect x="1261.5" y="24.1" width="39.3" height="8.7" fill="#f7f51b"/><rect x="1261.5" y="16" width="39.3" height="8.7" fill="#f9fb15"/></g><rect x="1261.9" y="16.8" width="38.4" height="517.3" fill="none" stroke="#262626" stroke-width="1.6"/><g shape-rendering="crispEdges"><rect x="1267" y="1115.7" width="39.5" height="8.4" fill="#3e26a8"/><rect x="1267" y="1107.9" width="39.5" height="8.4" fill="#402ab4"/><rect x="1267" y="1100.1" width="39.5" height="8.4" fill="#422ec0"/><rect x="1267" y="1092.3" width="39.5" height="8.4" fill="#4432cb"/><rect x="1267" y="1084.5" width="39.5" height="8.4" fill="#4537d5"/><rect x="1267" y="1076.7" width="39.5" height="8.4" fill="#463cde"/><rect x="1267" y="1068.9" width="39.5" height="8.4" fill="#4741e5"/><rect x="1267" y="1061.1" width="39.5" height="8.4" fill="#4747eb"/><rect x="1267" y="1053.3" width="39.5" height="8.4" fill="#484df0"/><rect x="1267" y="1045.5" width="39.5" height="8.4" fill="#4852f4"/><rect x="1267" y="1037.7" width="39.5" height="8.4" fill="#4758f8"/><rect x="1267" y="1029.9" width="39.5" height="8.4" fill="#465efb"/><rect x="1267" y="1022.1" width="39.5" height="8.4" fill="#4563fd"/><rect x="1267" y="1014.3" width="39.5" height="8.4" fill="#4269fe"/><rect x="1267" y="1006.5" width="39.5" height="8.4" fill="#3e6fff"/><rect x="1267" y="998.8" width="39.5" height="8.4" fill="#3875fe"/><rect x="1267" y="991" width="39.5" height="8.4" fill="#327cfc"/><rect x="1267" y="983.2" width="39.5" height="8.4" fill="#2f81fa"/><rect x="1267" y="975.4" width="39.5" height="8.4" fill="#2e87f7"/><rect x="1267" y="967.6" width="39.5" height="8.4" fill="#2d8cf3"/><rect x="1267" y="959.8" width="39.5" height="8.4" fill="#2b91ef"/><rect x="1267" y="952" width="39.5" height="8.4" fill="#2797eb"/><rect x="1267" y="944.2" width="39.5" height="8.4" fill="#259be8"/><rect x="1267" y="936.4" width="39.5" height="8.4" fill="#23a0e5"/><rect x="1267" y="928.6" width="39.5" height="8.4" fill="#20a5e3"/><rect x="1267" y="920.8" width="39.5" height="8.4" fill="#1ca9df"/><rect x="1267" y="913" width="39.5" height="8.4" fill="#18addb"/><rect x="1267" y="905.2" width="39.5" height="8.4" fill="#12b1d6"/><rect x="1267" y="897.4" width="39.5" height="8.4" fill="#08b5d0"/><rect x="1267" y="889.6" width="39.5" height="8.4" fill="#01b8ca"/><rect x="1267" y="881.8" width="39.5" height="8.4" fill="#02bac3"/><rect x="1267" y="874" width="39.5" height="8.4" fill="#0bbdbd"/><rect x="1267" y="866.2" width="39.5" height="8.4" fill="#19bfb6"/><rect x="1267" y="858.4" width="39.5" height="8.4" fill="#24c1ae"/><rect x="1267" y="850.6" width="39.5" height="8.4" fill="#2cc4a7"/><rect x="1267" y="842.8" width="39.5" height="8.4" fill="#31c69f"/><rect x="1267" y="835" width="39.5" height="8.4" fill="#37c897"/><rect x="1267" y="827.2" width="39.5" height="8.4" fill="#3fca8e"/><rect x="1267" y="819.4" width="39.5" height="8.4" fill="#4acb84"/><rect x="1267" y="811.6" width="39.5" height="8.4" fill="#57cc7a"/><rect x="1267" y="803.8" width="39.5" height="8.4" fill="#64cd6f"/><rect x="1267" y="796" width="39.5" height="8.4" fill="#72cd64"/><rect x="1267" y="788.2" width="39.5" height="8.4" fill="#81cc59"/><rect x="1267" y="780.4" width="39.5" height="8.4" fill="#8fcb4e"/><rect x="1267" y="772.6" width="39.5" height="8.4" fill="#9dc943"/><rect x="1267" y="764.8" width="39.5" height="8.4" fill="#abc739"/><rect x="1267" y="757" width="39.5" height="8.4" fill="#b9c431"/><rect x="1267" y="749.2" width="39.5" height="8.4" fill="#c5c22a"/><rect x="1267" y="741.5" width="39.5" height="8.4" fill="#d1bf27"/><rect x="1267" y="733.7" width="39.5" height="8.4" fill="#dcbd29"/><rect x="1267" y="725.9" width="39.5" height="8.4" fill="#e6bb2d"/><rect x="1267" y="718.1" width="39.5" height="8.4" fill="#f0ba36"/><rect x="1267" y="710.3" width="39.5" height="8.4" fill="#f8ba3d"/><rect x="1267" y="702.5" width="39.5" height="8.4" fill="#febe3c"/><rect x="1267" y="694.7" width="39.5" height="8.4" fill="#fec338"/><rect x="1267" y="686.9" width="39.5" height="8.4" fill="#fec934"/><rect x="1267" y="679.1" width="39.5" height="8.4" fill="#fccf30"/><rect x="1267" y="671.3" width="39.5" height="8.4" fill="#fad62d"/><rect x="1267" y="663.5" width="39.5" height="8.4" fill="#f7dc2a"/><rect x="1267" y="655.7" width="39.5" height="8.4" fill="#f5e327"/><rect x="1267" y="647.9" width="39.5" height="8.4" fill="#f5e924"/><rect x="1267" y="640.1" width="39.5" height="8.4" fill="#f6ef20"/><rect x="1267" y="632.3" width="39.5" height="8.4" fill="#f7f51b"/><rect x="1267" y="624.5" width="39.5" height="8.4" fill="#f9fb15"/></g><rect x="1267.5" y="625.1" width="38.6" height="498.4" fill="none" stroke="#262626" stroke-width="1.6"/><path fill="none" stroke="#262626" stroke-width="1.5" d="M1299.3 372.3H1295.3M1305 967.7H1301M1299.3 210.3H1295.3M1305 811.8H1301M1299.3 48.4H1295.3M1305 656H1301"/><g font-size="31" fill="#262626"><text x="692" y="130.7" text-anchor="end">5</text><text x="809.4" y="579" text-anchor="middle">5</text><text x="692" y="735.4" text-anchor="end">5</text><text x="809.5" y="1169" text-anchor="middle">5</text><text x="692" y="243.7" text-anchor="end">10</text><text x="926.1" y="579" text-anchor="middle">10</text><text x="692" y="844.2" text-anchor="end">10</text><text x="928" y="1169" text-anchor="middle">10</text><text x="692" y="356.7" text-anchor="end">15</text><text x="1042.9" y="579" text-anchor="middle">15</text><text x="692" y="953.1" text-anchor="end">15</text><text x="1046.4" y="1169" text-anchor="middle">15</text><text x="692" y="469.7" text-anchor="end">20</text><text x="1159.6" y="579" text-anchor="middle">20</text><text x="692" y="1061.9" text-anchor="end">20</text><text x="1164.9" y="1169" text-anchor="middle">20</text></g><g font-size="27" fill="#262626"><text x="1313" y="546.2">0</text><text x="1319" y="1135.5">0</text><text x="1313" y="384.3">5</text><text x="1319" y="979.7">5</text><text x="1313" y="222.3">10</text><text x="1319" y="823.8">10</text><text x="1313" y="60.4">15</text><text x="1319" y="668">15</text></g><text transform="translate(1.2,555) scale(0.87,1)" font-size="50" font-weight="bold" fill="#000">a</text><text x="1" y="1165" font-size="50" font-weight="bold" fill="#000">b</text></svg></body></html>
